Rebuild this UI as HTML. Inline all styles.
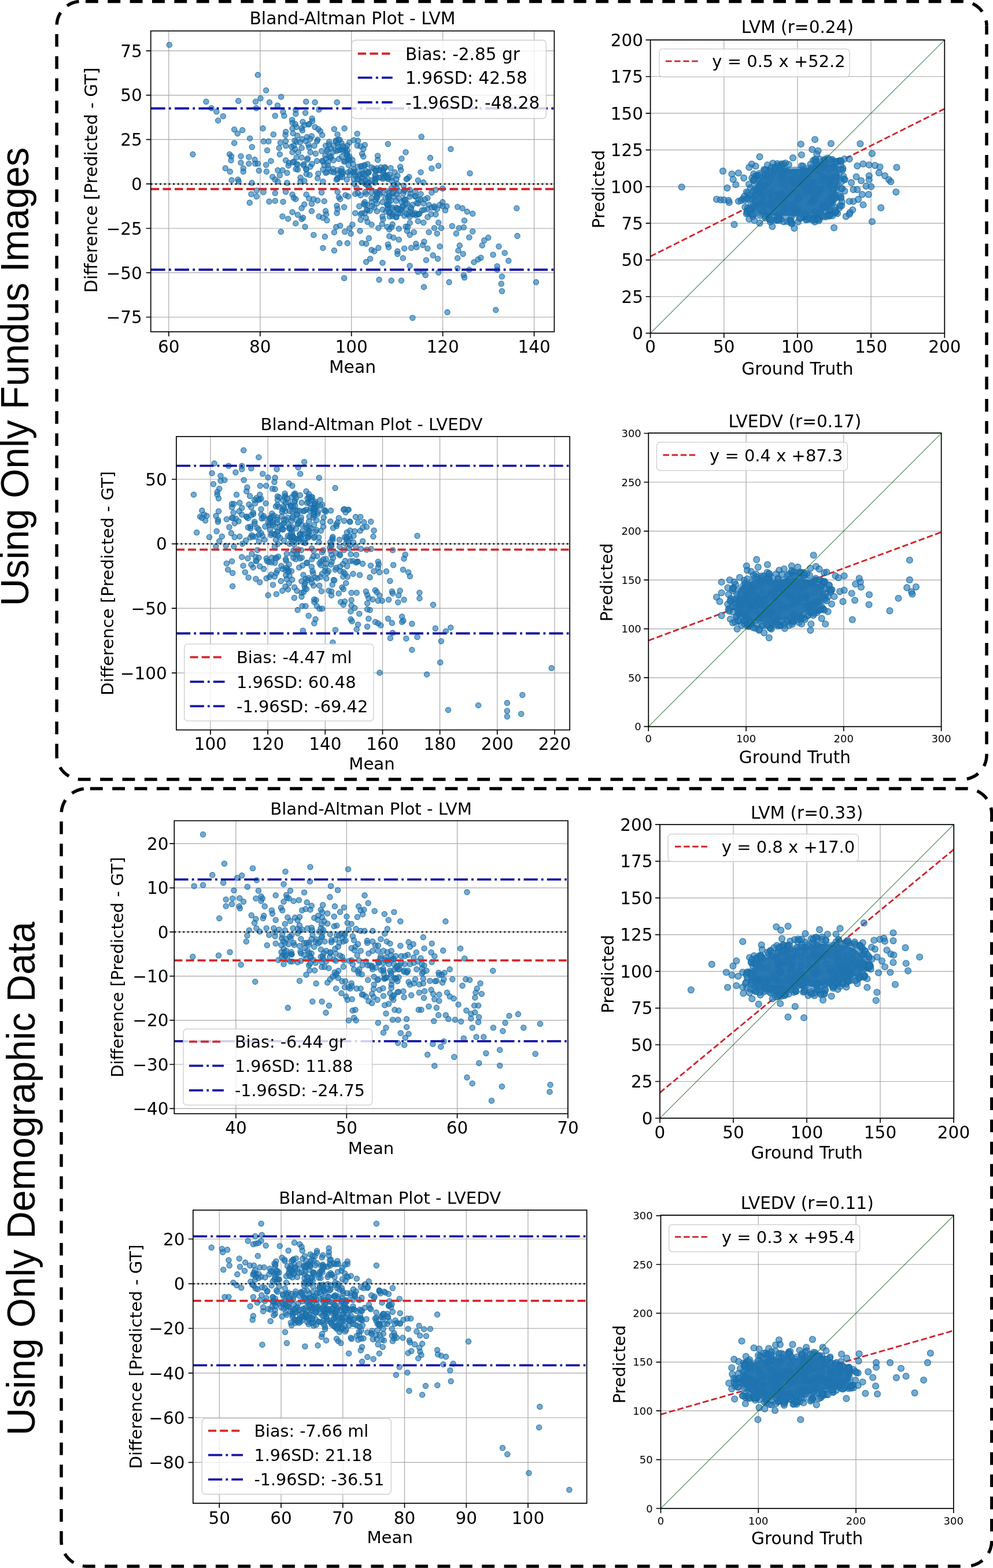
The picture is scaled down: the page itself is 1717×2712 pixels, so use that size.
<!DOCTYPE html>
<html><head><meta charset="utf-8"><title>Bland-Altman and scatter plots</title>
<style>html,body{margin:0;padding:0;background:#fff;}svg{display:block;}</style></head>
<body><svg width="1717" height="2712" viewBox="0 0 1717 2712" font-family="'DejaVu Sans','Liberation Sans',sans-serif" fill="#000">
<rect width="1717" height="2712" fill="#fff"/>
<path d="M98.1 1306.0 V44.4 A42 42 0 0 1 140.1 2.4" fill="none" stroke="#000" stroke-width="5.5" stroke-dasharray="21.92 16.44" stroke-dashoffset="2.34"/>
<path d="M140.1 2.4 H1664.0 A42 42 0 0 1 1706.0 44.4" fill="none" stroke="#000" stroke-width="5.5" stroke-dasharray="21.92 16.44" stroke-dashoffset="30.56"/>
<path d="M1706.0 44.4 V1306.0 A42 42 0 0 1 1664.0 1348.0" fill="none" stroke="#000" stroke-width="5.5" stroke-dasharray="21.92 16.44" stroke-dashoffset="6.56"/>
<path d="M1664.0 1348.0 H140.1 A42 42 0 0 1 98.1 1306.0" fill="none" stroke="#000" stroke-width="5.5" stroke-dasharray="21.92 16.44" stroke-dashoffset="27.06"/>
<path d="M106.0 2665.0 V1407.9 A44 44 0 0 1 150.0 1363.9" fill="none" stroke="#000" stroke-width="5.5" stroke-dasharray="21.92 16.44" stroke-dashoffset="5.28"/>
<path d="M150.0 1363.9 H1670.8 A44 44 0 0 1 1714.8 1407.9" fill="none" stroke="#000" stroke-width="5.5" stroke-dasharray="21.92 16.44" stroke-dashoffset="32.56"/>
<path d="M1714.8 1407.9 V2665.0 A44 44 0 0 1 1670.8 2709.0" fill="none" stroke="#000" stroke-width="5.5" stroke-dasharray="21.92 16.44" stroke-dashoffset="8.50"/>
<path d="M1670.8 2709.0 H150.0 A44 44 0 0 1 106.0 2665.0" fill="none" stroke="#000" stroke-width="5.5" stroke-dasharray="21.92 16.44" stroke-dashoffset="28.26"/>
<text transform="translate(49.0 651.5) rotate(-90) scale(1 1.042)" font-size="65.8" text-anchor="middle" font-family="'Liberation Sans',Arial,sans-serif">Using Only Fundus Images</text>
<text transform="translate(59.8 2038.5) rotate(-90) scale(1 1.042)" font-size="65.8" text-anchor="middle" font-family="'Liberation Sans',Arial,sans-serif">Using Only Demographic Data</text>
<clipPath id="cA"><rect x="260.7" y="53.5" width="697.7" height="520.3"/></clipPath>
<path d="M291.8 53.5V573.8M449.8 53.5V573.8M607.7 53.5V573.8M765.6 53.5V573.8M923.6 53.5V573.8M260.7 548.5H958.4M260.7 471.7H958.4M260.7 395.0H958.4M260.7 318.2H958.4M260.7 241.4H958.4M260.7 164.7H958.4M260.7 87.9H958.4" stroke="#a8a8a8" stroke-width="1.2" fill="none"/>
<g clip-path="url(#cA)" fill="#1f77b4" fill-opacity="0.62" stroke="#1b6aa2" stroke-opacity="0.8" stroke-width="1.3"><circle cx="292.8" cy="77.5" r="4.6"/><circle cx="445.9" cy="129.6" r="4.6"/><circle cx="460.1" cy="156.3" r="4.6"/><circle cx="486.1" cy="167.5" r="4.6"/><circle cx="356.4" cy="175.8" r="4.6"/><circle cx="412.2" cy="174.6" r="4.6"/><circle cx="442.0" cy="175.8" r="4.6"/><circle cx="450.5" cy="170.0" r="4.6"/><circle cx="465.9" cy="176.9" r="4.6"/><circle cx="479.9" cy="182.4" r="4.6"/><circle cx="529.2" cy="175.8" r="4.6"/><circle cx="544.6" cy="176.9" r="4.6"/><circle cx="582.7" cy="176.9" r="4.6"/><circle cx="365.6" cy="187.0" r="4.6"/><circle cx="374.3" cy="193.0" r="4.6"/><circle cx="385.8" cy="201.0" r="4.6"/><circle cx="377.1" cy="208.4" r="4.6"/><circle cx="443.2" cy="187.0" r="4.6"/><circle cx="489.5" cy="193.4" r="4.6"/><circle cx="491.4" cy="200.3" r="4.6"/><circle cx="475.7" cy="200.3" r="4.6"/><circle cx="511.3" cy="190.0" r="4.6"/><circle cx="511.3" cy="196.9" r="4.6"/><circle cx="528.1" cy="195.3" r="4.6"/><circle cx="551.5" cy="189.5" r="4.6"/><circle cx="505.1" cy="207.2" r="4.6"/><circle cx="505.6" cy="212.3" r="4.6"/><circle cx="523.5" cy="210.7" r="4.6"/><circle cx="533.1" cy="215.3" r="4.6"/><circle cx="539.6" cy="204.9" r="4.6"/><circle cx="540.0" cy="209.5" r="4.6"/><circle cx="512.5" cy="219.8" r="4.6"/><circle cx="521.6" cy="221.7" r="4.6"/><circle cx="522.8" cy="225.6" r="4.6"/><circle cx="544.6" cy="219.8" r="4.6"/><circle cx="550.3" cy="223.3" r="4.6"/><circle cx="553.8" cy="226.7" r="4.6"/><circle cx="557.2" cy="233.6" r="4.6"/><circle cx="577.9" cy="223.3" r="4.6"/><circle cx="583.6" cy="232.5" r="4.6"/><circle cx="595.6" cy="222.1" r="4.6"/><circle cx="405.1" cy="224.0" r="4.6"/><circle cx="410.8" cy="230.9" r="4.6"/><circle cx="419.1" cy="225.1" r="4.6"/><circle cx="454.6" cy="222.1" r="4.6"/><circle cx="432.1" cy="239.4" r="4.6"/><circle cx="472.8" cy="232.5" r="4.6"/><circle cx="494.1" cy="227.9" r="4.6"/><circle cx="506.7" cy="230.6" r="4.6"/><circle cx="493.6" cy="233.6" r="4.6"/><circle cx="530.8" cy="237.1" r="4.6"/><circle cx="538.9" cy="235.4" r="4.6"/><circle cx="405.1" cy="247.4" r="4.6"/><circle cx="435.8" cy="254.3" r="4.6"/><circle cx="455.8" cy="244.6" r="4.6"/><circle cx="464.3" cy="244.6" r="4.6"/><circle cx="484.9" cy="246.7" r="4.6"/><circle cx="494.1" cy="243.9" r="4.6"/><circle cx="512.5" cy="245.1" r="4.6"/><circle cx="528.5" cy="243.9" r="4.6"/><circle cx="543.5" cy="252.0" r="4.6"/><circle cx="549.2" cy="241.6" r="4.6"/><circle cx="563.0" cy="252.0" r="4.6"/><circle cx="568.7" cy="249.7" r="4.6"/><circle cx="576.7" cy="252.0" r="4.6"/><circle cx="581.3" cy="242.8" r="4.6"/><circle cx="590.5" cy="247.4" r="4.6"/><circle cx="604.3" cy="246.2" r="4.6"/><circle cx="333.4" cy="266.9" r="4.6"/><circle cx="397.0" cy="266.9" r="4.6"/><circle cx="400.0" cy="270.3" r="4.6"/><circle cx="399.5" cy="277.2" r="4.6"/><circle cx="416.5" cy="270.3" r="4.6"/><circle cx="430.3" cy="271.5" r="4.6"/><circle cx="440.4" cy="276.1" r="4.6"/><circle cx="482.6" cy="255.9" r="4.6"/><circle cx="483.8" cy="266.9" r="4.6"/><circle cx="462.0" cy="260.0" r="4.6"/><circle cx="494.1" cy="252.0" r="4.6"/><circle cx="507.9" cy="252.0" r="4.6"/><circle cx="510.2" cy="257.7" r="4.6"/><circle cx="521.6" cy="255.9" r="4.6"/><circle cx="505.6" cy="263.4" r="4.6"/><circle cx="536.6" cy="263.4" r="4.6"/><circle cx="545.7" cy="265.7" r="4.6"/><circle cx="556.1" cy="261.2" r="4.6"/><circle cx="565.3" cy="261.2" r="4.6"/><circle cx="572.1" cy="256.6" r="4.6"/><circle cx="581.3" cy="261.2" r="4.6"/><circle cx="592.8" cy="261.2" r="4.6"/><circle cx="599.7" cy="268.0" r="4.6"/><circle cx="416.5" cy="281.4" r="4.6"/><circle cx="430.3" cy="283.0" r="4.6"/><circle cx="441.3" cy="283.0" r="4.6"/><circle cx="445.9" cy="283.0" r="4.6"/><circle cx="468.4" cy="278.4" r="4.6"/><circle cx="494.1" cy="277.2" r="4.6"/><circle cx="499.8" cy="281.8" r="4.6"/><circle cx="507.9" cy="279.5" r="4.6"/><circle cx="498.7" cy="286.4" r="4.6"/><circle cx="512.5" cy="272.6" r="4.6"/><circle cx="521.6" cy="272.6" r="4.6"/><circle cx="532.0" cy="273.8" r="4.6"/><circle cx="548.0" cy="278.4" r="4.6"/><circle cx="558.4" cy="279.5" r="4.6"/><circle cx="567.6" cy="279.5" r="4.6"/><circle cx="576.7" cy="277.2" r="4.6"/><circle cx="585.9" cy="274.9" r="4.6"/><circle cx="595.1" cy="279.5" r="4.6"/><circle cx="604.3" cy="277.2" r="4.6"/><circle cx="389.7" cy="291.0" r="4.6"/><circle cx="397.7" cy="296.7" r="4.6"/><circle cx="420.7" cy="291.0" r="4.6"/><circle cx="420.7" cy="296.7" r="4.6"/><circle cx="447.7" cy="295.1" r="4.6"/><circle cx="460.1" cy="285.3" r="4.6"/><circle cx="460.8" cy="296.7" r="4.6"/><circle cx="480.3" cy="294.4" r="4.6"/><circle cx="488.4" cy="294.4" r="4.6"/><circle cx="483.8" cy="303.2" r="4.6"/><circle cx="496.4" cy="299.0" r="4.6"/><circle cx="525.1" cy="284.1" r="4.6"/><circle cx="529.7" cy="293.3" r="4.6"/><circle cx="536.6" cy="288.2" r="4.6"/><circle cx="535.4" cy="302.5" r="4.6"/><circle cx="550.3" cy="300.2" r="4.6"/><circle cx="558.4" cy="293.3" r="4.6"/><circle cx="567.6" cy="291.0" r="4.6"/><circle cx="576.7" cy="297.9" r="4.6"/><circle cx="583.6" cy="300.2" r="4.6"/><circle cx="592.8" cy="300.2" r="4.6"/><circle cx="602.0" cy="297.9" r="4.6"/><circle cx="400.5" cy="311.6" r="4.6"/><circle cx="411.5" cy="310.5" r="4.6"/><circle cx="412.6" cy="313.9" r="4.6"/><circle cx="435.6" cy="316.2" r="4.6"/><circle cx="471.2" cy="305.9" r="4.6"/><circle cx="475.7" cy="310.5" r="4.6"/><circle cx="480.3" cy="313.9" r="4.6"/><circle cx="496.4" cy="316.2" r="4.6"/><circle cx="519.4" cy="313.9" r="4.6"/><circle cx="526.2" cy="312.8" r="4.6"/><circle cx="549.2" cy="308.2" r="4.6"/><circle cx="558.4" cy="313.9" r="4.6"/><circle cx="583.6" cy="309.4" r="4.6"/><circle cx="599.7" cy="310.5" r="4.6"/><circle cx="604.3" cy="302.5" r="4.6"/><circle cx="443.6" cy="329.5" r="4.6"/><circle cx="434.4" cy="335.7" r="4.6"/><circle cx="443.6" cy="339.8" r="4.6"/><circle cx="431.7" cy="350.6" r="4.6"/><circle cx="455.5" cy="332.3" r="4.6"/><circle cx="465.4" cy="348.6" r="4.6"/><circle cx="475.7" cy="347.4" r="4.6"/><circle cx="475.7" cy="334.1" r="4.6"/><circle cx="489.5" cy="349.0" r="4.6"/><circle cx="494.1" cy="331.8" r="4.6"/><circle cx="505.6" cy="336.4" r="4.6"/><circle cx="507.9" cy="342.1" r="4.6"/><circle cx="511.3" cy="344.4" r="4.6"/><circle cx="529.7" cy="336.4" r="4.6"/><circle cx="534.3" cy="343.3" r="4.6"/><circle cx="542.3" cy="344.4" r="4.6"/><circle cx="549.2" cy="346.7" r="4.6"/><circle cx="556.1" cy="333.0" r="4.6"/><circle cx="560.7" cy="347.9" r="4.6"/><circle cx="526.2" cy="353.6" r="4.6"/><circle cx="521.6" cy="360.0" r="4.6"/><circle cx="538.9" cy="352.5" r="4.6"/><circle cx="538.9" cy="365.1" r="4.6"/><circle cx="505.6" cy="366.9" r="4.6"/><circle cx="514.8" cy="371.5" r="4.6"/><circle cx="521.6" cy="378.9" r="4.6"/><circle cx="523.9" cy="376.6" r="4.6"/><circle cx="488.4" cy="374.3" r="4.6"/><circle cx="498.2" cy="378.4" r="4.6"/><circle cx="511.3" cy="386.4" r="4.6"/><circle cx="527.4" cy="392.2" r="4.6"/><circle cx="551.5" cy="374.3" r="4.6"/><circle cx="563.0" cy="365.1" r="4.6"/><circle cx="564.1" cy="370.8" r="4.6"/><circle cx="558.4" cy="376.6" r="4.6"/><circle cx="565.3" cy="381.1" r="4.6"/><circle cx="582.5" cy="355.9" r="4.6"/><circle cx="583.6" cy="361.6" r="4.6"/><circle cx="582.5" cy="368.5" r="4.6"/><circle cx="595.1" cy="358.2" r="4.6"/><circle cx="585.9" cy="341.0" r="4.6"/><circle cx="588.2" cy="344.4" r="4.6"/><circle cx="583.6" cy="331.8" r="4.6"/><circle cx="597.4" cy="337.5" r="4.6"/><circle cx="602.0" cy="339.8" r="4.6"/><circle cx="485.8" cy="400.7" r="4.6"/><circle cx="542.3" cy="406.4" r="4.6"/><circle cx="561.8" cy="409.2" r="4.6"/><circle cx="577.9" cy="401.8" r="4.6"/><circle cx="581.3" cy="392.6" r="4.6"/><circle cx="588.2" cy="390.3" r="4.6"/><circle cx="596.2" cy="400.7" r="4.6"/><circle cx="604.3" cy="394.9" r="4.6"/><circle cx="606.6" cy="404.1" r="4.6"/><circle cx="587.1" cy="420.6" r="4.6"/><circle cx="600.8" cy="420.6" r="4.6"/><circle cx="558.4" cy="428.9" r="4.6"/><circle cx="577.9" cy="433.2" r="4.6"/><circle cx="595.1" cy="481.0" r="4.6"/><circle cx="617.7" cy="231.3" r="4.6"/><circle cx="611.8" cy="242.4" r="4.6"/><circle cx="618.9" cy="243.6" r="4.6"/><circle cx="617.7" cy="251.8" r="4.6"/><circle cx="623.6" cy="253.0" r="4.6"/><circle cx="630.7" cy="250.7" r="4.6"/><circle cx="628.3" cy="257.7" r="4.6"/><circle cx="626.0" cy="266.0" r="4.6"/><circle cx="628.3" cy="270.7" r="4.6"/><circle cx="653.1" cy="269.5" r="4.6"/><circle cx="653.1" cy="276.6" r="4.6"/><circle cx="670.8" cy="249.0" r="4.6"/><circle cx="701.5" cy="263.2" r="4.6"/><circle cx="694.4" cy="274.3" r="4.6"/><circle cx="728.7" cy="236.5" r="4.6"/><circle cx="744.0" cy="273.1" r="4.6"/><circle cx="746.4" cy="291.3" r="4.6"/><circle cx="758.2" cy="286.8" r="4.6"/><circle cx="779.4" cy="257.7" r="4.6"/><circle cx="727.5" cy="297.9" r="4.6"/><circle cx="707.4" cy="306.1" r="4.6"/><circle cx="812.5" cy="299.8" r="4.6"/><circle cx="611.8" cy="293.2" r="4.6"/><circle cx="615.3" cy="297.9" r="4.6"/><circle cx="623.6" cy="287.3" r="4.6"/><circle cx="630.7" cy="286.1" r="4.6"/><circle cx="635.4" cy="283.7" r="4.6"/><circle cx="633.1" cy="295.5" r="4.6"/><circle cx="637.8" cy="297.9" r="4.6"/><circle cx="642.5" cy="289.6" r="4.6"/><circle cx="659.0" cy="289.6" r="4.6"/><circle cx="666.1" cy="289.6" r="4.6"/><circle cx="675.5" cy="290.8" r="4.6"/><circle cx="682.6" cy="297.9" r="4.6"/><circle cx="692.1" cy="288.4" r="4.6"/><circle cx="693.2" cy="294.3" r="4.6"/><circle cx="687.3" cy="303.8" r="4.6"/><circle cx="649.6" cy="305.0" r="4.6"/><circle cx="659.0" cy="307.3" r="4.6"/><circle cx="670.8" cy="309.7" r="4.6"/><circle cx="677.9" cy="307.3" r="4.6"/><circle cx="618.9" cy="305.0" r="4.6"/><circle cx="626.0" cy="307.3" r="4.6"/><circle cx="722.8" cy="312.0" r="4.6"/><circle cx="732.2" cy="315.6" r="4.6"/><circle cx="609.4" cy="276.6" r="4.6"/><circle cx="610.6" cy="283.7" r="4.6"/><circle cx="614.2" cy="335.4" r="4.6"/><circle cx="623.6" cy="337.8" r="4.6"/><circle cx="633.1" cy="335.4" r="4.6"/><circle cx="642.5" cy="333.1" r="4.6"/><circle cx="651.9" cy="333.1" r="4.6"/><circle cx="661.4" cy="333.1" r="4.6"/><circle cx="670.8" cy="330.7" r="4.6"/><circle cx="680.3" cy="333.1" r="4.6"/><circle cx="689.7" cy="330.7" r="4.6"/><circle cx="699.2" cy="328.3" r="4.6"/><circle cx="708.6" cy="328.3" r="4.6"/><circle cx="718.0" cy="330.7" r="4.6"/><circle cx="727.5" cy="335.4" r="4.6"/><circle cx="739.3" cy="342.5" r="4.6"/><circle cx="746.4" cy="333.1" r="4.6"/><circle cx="753.4" cy="328.3" r="4.6"/><circle cx="765.3" cy="326.0" r="4.6"/><circle cx="642.5" cy="342.5" r="4.6"/><circle cx="651.9" cy="342.5" r="4.6"/><circle cx="670.8" cy="340.1" r="4.6"/><circle cx="680.3" cy="340.1" r="4.6"/><circle cx="689.7" cy="342.5" r="4.6"/><circle cx="699.2" cy="344.9" r="4.6"/><circle cx="708.6" cy="340.1" r="4.6"/><circle cx="718.0" cy="340.1" r="4.6"/><circle cx="727.5" cy="344.9" r="4.6"/><circle cx="734.6" cy="344.9" r="4.6"/><circle cx="630.7" cy="349.6" r="4.6"/><circle cx="642.5" cy="349.6" r="4.6"/><circle cx="651.9" cy="351.9" r="4.6"/><circle cx="661.4" cy="349.6" r="4.6"/><circle cx="675.5" cy="347.2" r="4.6"/><circle cx="685.0" cy="347.2" r="4.6"/><circle cx="694.4" cy="349.6" r="4.6"/><circle cx="703.9" cy="351.9" r="4.6"/><circle cx="713.3" cy="354.3" r="4.6"/><circle cx="722.8" cy="351.9" r="4.6"/><circle cx="732.2" cy="351.9" r="4.6"/><circle cx="741.6" cy="354.3" r="4.6"/><circle cx="751.1" cy="356.7" r="4.6"/><circle cx="760.5" cy="354.3" r="4.6"/><circle cx="765.3" cy="349.6" r="4.6"/><circle cx="772.3" cy="356.7" r="4.6"/><circle cx="770.0" cy="363.7" r="4.6"/><circle cx="621.2" cy="356.7" r="4.6"/><circle cx="635.4" cy="363.7" r="4.6"/><circle cx="647.2" cy="359.0" r="4.6"/><circle cx="661.4" cy="362.6" r="4.6"/><circle cx="670.8" cy="356.7" r="4.6"/><circle cx="677.9" cy="361.4" r="4.6"/><circle cx="685.0" cy="359.0" r="4.6"/><circle cx="694.4" cy="363.7" r="4.6"/><circle cx="701.5" cy="361.4" r="4.6"/><circle cx="711.0" cy="361.4" r="4.6"/><circle cx="718.0" cy="368.5" r="4.6"/><circle cx="729.8" cy="363.7" r="4.6"/><circle cx="739.3" cy="361.4" r="4.6"/><circle cx="746.4" cy="359.0" r="4.6"/><circle cx="755.8" cy="361.4" r="4.6"/><circle cx="614.2" cy="368.5" r="4.6"/><circle cx="623.6" cy="370.8" r="4.6"/><circle cx="630.7" cy="368.5" r="4.6"/><circle cx="661.4" cy="374.4" r="4.6"/><circle cx="677.9" cy="370.8" r="4.6"/><circle cx="685.0" cy="375.5" r="4.6"/><circle cx="692.1" cy="368.5" r="4.6"/><circle cx="699.2" cy="373.2" r="4.6"/><circle cx="706.2" cy="370.8" r="4.6"/><circle cx="715.7" cy="370.8" r="4.6"/><circle cx="722.8" cy="370.8" r="4.6"/><circle cx="739.3" cy="375.5" r="4.6"/><circle cx="753.4" cy="370.8" r="4.6"/><circle cx="623.6" cy="380.3" r="4.6"/><circle cx="635.4" cy="383.8" r="4.6"/><circle cx="642.5" cy="388.5" r="4.6"/><circle cx="654.3" cy="394.4" r="4.6"/><circle cx="673.2" cy="396.8" r="4.6"/><circle cx="689.7" cy="395.6" r="4.6"/><circle cx="701.5" cy="392.1" r="4.6"/><circle cx="703.9" cy="399.2" r="4.6"/><circle cx="708.6" cy="406.2" r="4.6"/><circle cx="715.7" cy="401.5" r="4.6"/><circle cx="722.8" cy="382.6" r="4.6"/><circle cx="732.2" cy="385.0" r="4.6"/><circle cx="741.6" cy="401.5" r="4.6"/><circle cx="751.1" cy="394.4" r="4.6"/><circle cx="755.8" cy="403.9" r="4.6"/><circle cx="758.2" cy="385.0" r="4.6"/><circle cx="762.9" cy="394.4" r="4.6"/><circle cx="609.4" cy="388.5" r="4.6"/><circle cx="622.4" cy="399.2" r="4.6"/><circle cx="637.8" cy="412.1" r="4.6"/><circle cx="626.0" cy="420.4" r="4.6"/><circle cx="633.1" cy="421.6" r="4.6"/><circle cx="642.5" cy="432.2" r="4.6"/><circle cx="647.2" cy="434.6" r="4.6"/><circle cx="654.3" cy="428.7" r="4.6"/><circle cx="670.8" cy="422.8" r="4.6"/><circle cx="672.0" cy="427.5" r="4.6"/><circle cx="673.2" cy="408.6" r="4.6"/><circle cx="680.3" cy="411.0" r="4.6"/><circle cx="689.7" cy="414.5" r="4.6"/><circle cx="687.3" cy="434.6" r="4.6"/><circle cx="687.3" cy="439.3" r="4.6"/><circle cx="696.8" cy="446.4" r="4.6"/><circle cx="699.2" cy="429.8" r="4.6"/><circle cx="711.0" cy="428.7" r="4.6"/><circle cx="719.2" cy="421.6" r="4.6"/><circle cx="720.4" cy="427.5" r="4.6"/><circle cx="731.0" cy="423.9" r="4.6"/><circle cx="733.4" cy="418.0" r="4.6"/><circle cx="739.3" cy="429.8" r="4.6"/><circle cx="748.7" cy="441.6" r="4.6"/><circle cx="757.0" cy="447.5" r="4.6"/><circle cx="736.9" cy="449.9" r="4.6"/><circle cx="760.5" cy="426.3" r="4.6"/><circle cx="633.1" cy="453.0" r="4.6"/><circle cx="640.1" cy="447.5" r="4.6"/><circle cx="661.4" cy="454.6" r="4.6"/><circle cx="708.6" cy="459.8" r="4.6"/><circle cx="722.8" cy="470.0" r="4.6"/><circle cx="732.2" cy="470.0" r="4.6"/><circle cx="735.7" cy="475.9" r="4.6"/><circle cx="758.2" cy="471.2" r="4.6"/><circle cx="655.5" cy="483.7" r="4.6"/><circle cx="676.7" cy="485.3" r="4.6"/><circle cx="694.0" cy="485.3" r="4.6"/><circle cx="732.9" cy="496.4" r="4.6"/><circle cx="713.3" cy="549.8" r="4.6"/><circle cx="773.5" cy="540.1" r="4.6"/><circle cx="776.6" cy="488.1" r="4.6"/><circle cx="791.2" cy="464.1" r="4.6"/><circle cx="791.2" cy="446.4" r="4.6"/><circle cx="792.4" cy="433.4" r="4.6"/><circle cx="794.8" cy="424.6" r="4.6"/><circle cx="800.7" cy="439.3" r="4.6"/><circle cx="781.8" cy="390.9" r="4.6"/><circle cx="788.9" cy="403.9" r="4.6"/><circle cx="793.6" cy="394.4" r="4.6"/><circle cx="801.8" cy="393.2" r="4.6"/><circle cx="803.0" cy="381.4" r="4.6"/><circle cx="791.2" cy="357.8" r="4.6"/><circle cx="799.5" cy="360.2" r="4.6"/><circle cx="807.7" cy="366.1" r="4.6"/><circle cx="817.2" cy="369.6" r="4.6"/><circle cx="811.3" cy="410.5" r="4.6"/><circle cx="817.2" cy="400.3" r="4.6"/><circle cx="801.8" cy="475.9" r="4.6"/><circle cx="803.0" cy="480.1" r="4.6"/><circle cx="811.3" cy="466.4" r="4.6"/><circle cx="819.5" cy="453.4" r="4.6"/><circle cx="826.6" cy="448.7" r="4.6"/><circle cx="831.4" cy="445.7" r="4.6"/><circle cx="833.7" cy="424.4" r="4.6"/><circle cx="837.3" cy="415.7" r="4.6"/><circle cx="844.3" cy="411.0" r="4.6"/><circle cx="852.6" cy="440.5" r="4.6"/><circle cx="859.7" cy="460.5" r="4.6"/><circle cx="859.7" cy="466.4" r="4.6"/><circle cx="862.5" cy="426.3" r="4.6"/><circle cx="872.7" cy="437.4" r="4.6"/><circle cx="879.3" cy="451.1" r="4.6"/><circle cx="867.9" cy="478.2" r="4.6"/><circle cx="866.8" cy="490.7" r="4.6"/><circle cx="867.9" cy="503.5" r="4.6"/><circle cx="857.3" cy="536.1" r="4.6"/><circle cx="893.4" cy="360.2" r="4.6"/><circle cx="894.6" cy="408.1" r="4.6"/><circle cx="927.0" cy="488.1" r="4.6"/><circle cx="765.3" cy="356.7" r="4.6"/><circle cx="583.2" cy="308.4" r="4.6"/><circle cx="572.2" cy="270.5" r="4.6"/><circle cx="600.5" cy="269.5" r="4.6"/><circle cx="585.2" cy="242.0" r="4.6"/><circle cx="596.4" cy="278.7" r="4.6"/><circle cx="573.1" cy="296.8" r="4.6"/><circle cx="571.7" cy="272.7" r="4.6"/><circle cx="562.4" cy="269.0" r="4.6"/><circle cx="566.2" cy="258.9" r="4.6"/><circle cx="596.3" cy="260.2" r="4.6"/><circle cx="581.7" cy="310.6" r="4.6"/><circle cx="584.8" cy="259.9" r="4.6"/><circle cx="583.4" cy="248.3" r="4.6"/><circle cx="589.3" cy="295.9" r="4.6"/><circle cx="588.7" cy="306.0" r="4.6"/><circle cx="557.2" cy="278.1" r="4.6"/><circle cx="580.3" cy="244.5" r="4.6"/><circle cx="590.3" cy="301.4" r="4.6"/><circle cx="587.6" cy="258.7" r="4.6"/><circle cx="601.2" cy="276.7" r="4.6"/><circle cx="583.1" cy="294.2" r="4.6"/><circle cx="563.1" cy="299.0" r="4.6"/><circle cx="592.6" cy="296.7" r="4.6"/><circle cx="565.5" cy="297.8" r="4.6"/><circle cx="603.2" cy="274.0" r="4.6"/><circle cx="590.5" cy="291.8" r="4.6"/><circle cx="601.0" cy="260.3" r="4.6"/><circle cx="566.8" cy="286.0" r="4.6"/><circle cx="563.3" cy="274.7" r="4.6"/><circle cx="604.2" cy="270.4" r="4.6"/><circle cx="587.4" cy="241.8" r="4.6"/><circle cx="592.0" cy="306.2" r="4.6"/><circle cx="591.3" cy="257.7" r="4.6"/><circle cx="597.3" cy="255.2" r="4.6"/><circle cx="600.4" cy="251.8" r="4.6"/><circle cx="575.6" cy="262.8" r="4.6"/><circle cx="593.0" cy="252.9" r="4.6"/><circle cx="569.4" cy="270.3" r="4.6"/><circle cx="560.8" cy="285.6" r="4.6"/><circle cx="575.9" cy="292.2" r="4.6"/><circle cx="591.0" cy="271.0" r="4.6"/><circle cx="602.7" cy="285.5" r="4.6"/><circle cx="599.6" cy="264.6" r="4.6"/><circle cx="584.9" cy="254.1" r="4.6"/><circle cx="569.1" cy="245.3" r="4.6"/><circle cx="512.9" cy="283.9" r="4.6"/><circle cx="534.9" cy="214.2" r="4.6"/><circle cx="518.8" cy="246.3" r="4.6"/><circle cx="533.2" cy="250.2" r="4.6"/><circle cx="529.3" cy="292.4" r="4.6"/><circle cx="536.3" cy="240.2" r="4.6"/><circle cx="522.4" cy="240.4" r="4.6"/><circle cx="505.5" cy="222.4" r="4.6"/><circle cx="514.2" cy="234.6" r="4.6"/><circle cx="515.7" cy="263.4" r="4.6"/><circle cx="539.6" cy="283.5" r="4.6"/><circle cx="529.8" cy="300.9" r="4.6"/><circle cx="534.5" cy="255.0" r="4.6"/><circle cx="503.9" cy="253.7" r="4.6"/><circle cx="510.6" cy="214.6" r="4.6"/><circle cx="525.3" cy="286.4" r="4.6"/><circle cx="514.8" cy="284.6" r="4.6"/><circle cx="526.3" cy="216.4" r="4.6"/><circle cx="548.2" cy="244.2" r="4.6"/><circle cx="514.8" cy="293.2" r="4.6"/><circle cx="506.2" cy="280.7" r="4.6"/><circle cx="509.4" cy="243.2" r="4.6"/><circle cx="511.6" cy="292.5" r="4.6"/><circle cx="519.5" cy="307.2" r="4.6"/><circle cx="531.3" cy="276.3" r="4.6"/><circle cx="646.5" cy="291.7" r="4.6"/><circle cx="637.7" cy="315.8" r="4.6"/><circle cx="663.1" cy="293.7" r="4.6"/><circle cx="654.9" cy="294.5" r="4.6"/><circle cx="636.7" cy="299.1" r="4.6"/><circle cx="611.2" cy="298.8" r="4.6"/><circle cx="662.4" cy="296.8" r="4.6"/><circle cx="624.6" cy="314.4" r="4.6"/><circle cx="669.4" cy="303.0" r="4.6"/><circle cx="666.4" cy="304.0" r="4.6"/><circle cx="635.4" cy="308.9" r="4.6"/><circle cx="611.9" cy="297.0" r="4.6"/><circle cx="636.0" cy="298.1" r="4.6"/><circle cx="618.9" cy="288.5" r="4.6"/><circle cx="649.3" cy="294.7" r="4.6"/><circle cx="665.4" cy="303.0" r="4.6"/><circle cx="670.3" cy="307.8" r="4.6"/><circle cx="652.1" cy="290.9" r="4.6"/><circle cx="664.8" cy="289.5" r="4.6"/><circle cx="647.8" cy="309.4" r="4.6"/><circle cx="688.2" cy="369.6" r="4.6"/><circle cx="709.2" cy="366.8" r="4.6"/><circle cx="634.2" cy="362.7" r="4.6"/><circle cx="632.7" cy="376.8" r="4.6"/><circle cx="651.8" cy="337.1" r="4.6"/><circle cx="639.6" cy="364.5" r="4.6"/><circle cx="676.9" cy="393.1" r="4.6"/><circle cx="708.7" cy="385.5" r="4.6"/><circle cx="629.0" cy="352.5" r="4.6"/><circle cx="625.5" cy="368.8" r="4.6"/><circle cx="649.5" cy="346.0" r="4.6"/><circle cx="653.5" cy="334.6" r="4.6"/><circle cx="718.7" cy="372.2" r="4.6"/><circle cx="699.3" cy="330.3" r="4.6"/><circle cx="673.8" cy="374.6" r="4.6"/><circle cx="634.5" cy="354.2" r="4.6"/><circle cx="643.2" cy="356.2" r="4.6"/><circle cx="678.7" cy="388.1" r="4.6"/><circle cx="720.5" cy="351.0" r="4.6"/><circle cx="631.0" cy="354.3" r="4.6"/><circle cx="660.8" cy="387.5" r="4.6"/><circle cx="672.3" cy="333.6" r="4.6"/><circle cx="745.5" cy="370.3" r="4.6"/><circle cx="679.1" cy="334.3" r="4.6"/><circle cx="703.0" cy="369.9" r="4.6"/><circle cx="708.5" cy="375.1" r="4.6"/><circle cx="705.0" cy="392.4" r="4.6"/><circle cx="662.3" cy="379.4" r="4.6"/><circle cx="651.9" cy="365.4" r="4.6"/><circle cx="692.3" cy="361.9" r="4.6"/><circle cx="673.1" cy="367.1" r="4.6"/><circle cx="751.2" cy="359.1" r="4.6"/><circle cx="667.5" cy="366.1" r="4.6"/><circle cx="701.3" cy="345.0" r="4.6"/><circle cx="669.5" cy="392.4" r="4.6"/><circle cx="710.2" cy="359.3" r="4.6"/><circle cx="673.0" cy="339.2" r="4.6"/><circle cx="686.1" cy="335.6" r="4.6"/><circle cx="709.4" cy="335.1" r="4.6"/><circle cx="678.1" cy="358.9" r="4.6"/><circle cx="723.5" cy="345.0" r="4.6"/><circle cx="679.1" cy="370.1" r="4.6"/><circle cx="718.4" cy="338.7" r="4.6"/><circle cx="723.5" cy="370.4" r="4.6"/><circle cx="670.1" cy="361.2" r="4.6"/><circle cx="671.7" cy="344.0" r="4.6"/><circle cx="697.0" cy="356.5" r="4.6"/><circle cx="695.7" cy="357.4" r="4.6"/><circle cx="673.1" cy="368.0" r="4.6"/><circle cx="678.6" cy="374.1" r="4.6"/><circle cx="698.8" cy="346.7" r="4.6"/><circle cx="669.8" cy="354.8" r="4.6"/><circle cx="687.0" cy="361.0" r="4.6"/><circle cx="697.4" cy="334.7" r="4.6"/><circle cx="725.3" cy="369.6" r="4.6"/><circle cx="733.5" cy="362.9" r="4.6"/><circle cx="668.7" cy="352.9" r="4.6"/><circle cx="692.4" cy="361.5" r="4.6"/><circle cx="687.4" cy="363.4" r="4.6"/><circle cx="672.3" cy="348.9" r="4.6"/><circle cx="701.2" cy="352.2" r="4.6"/><circle cx="713.8" cy="370.5" r="4.6"/><circle cx="685.4" cy="375.5" r="4.6"/><circle cx="671.8" cy="354.5" r="4.6"/><circle cx="687.8" cy="360.6" r="4.6"/><circle cx="630.0" cy="304.5" r="4.6"/><circle cx="657.2" cy="328.8" r="4.6"/><circle cx="648.7" cy="313.5" r="4.6"/><circle cx="697.7" cy="321.0" r="4.6"/><circle cx="632.8" cy="312.9" r="4.6"/><circle cx="677.5" cy="312.5" r="4.6"/><circle cx="685.4" cy="309.8" r="4.6"/><circle cx="638.7" cy="324.4" r="4.6"/><circle cx="648.1" cy="315.8" r="4.6"/><circle cx="673.7" cy="301.7" r="4.6"/><circle cx="681.8" cy="319.8" r="4.6"/><circle cx="650.0" cy="331.9" r="4.6"/><circle cx="637.0" cy="323.1" r="4.6"/><circle cx="631.3" cy="317.6" r="4.6"/><circle cx="664.0" cy="307.1" r="4.6"/><circle cx="633.1" cy="318.9" r="4.6"/><circle cx="656.7" cy="336.0" r="4.6"/><circle cx="677.2" cy="325.3" r="4.6"/><circle cx="704.4" cy="308.9" r="4.6"/><circle cx="612.5" cy="317.7" r="4.6"/><circle cx="616.5" cy="325.0" r="4.6"/><circle cx="668.8" cy="305.9" r="4.6"/><circle cx="685.9" cy="325.0" r="4.6"/><circle cx="650.8" cy="341.3" r="4.6"/><circle cx="702.7" cy="309.9" r="4.6"/><circle cx="618.9" cy="334.1" r="4.6"/><circle cx="637.5" cy="316.3" r="4.6"/><circle cx="666.4" cy="341.7" r="4.6"/><circle cx="686.4" cy="317.8" r="4.6"/><circle cx="631.7" cy="332.1" r="4.6"/><circle cx="649.7" cy="308.9" r="4.6"/><circle cx="656.4" cy="294.0" r="4.6"/><circle cx="643.9" cy="311.5" r="4.6"/><circle cx="626.3" cy="300.1" r="4.6"/><circle cx="662.4" cy="298.8" r="4.6"/><circle cx="620.2" cy="310.8" r="4.6"/><circle cx="621.8" cy="302.6" r="4.6"/><circle cx="625.4" cy="314.1" r="4.6"/><circle cx="614.5" cy="303.5" r="4.6"/><circle cx="655.4" cy="307.3" r="4.6"/><circle cx="629.5" cy="285.8" r="4.6"/><circle cx="611.8" cy="309.7" r="4.6"/><circle cx="605.9" cy="295.3" r="4.6"/><circle cx="617.9" cy="309.6" r="4.6"/><circle cx="625.1" cy="287.9" r="4.6"/><circle cx="625.9" cy="295.8" r="4.6"/><circle cx="650.2" cy="295.6" r="4.6"/><circle cx="648.6" cy="302.8" r="4.6"/><circle cx="662.1" cy="309.2" r="4.6"/><circle cx="628.6" cy="301.0" r="4.6"/></g>
<line x1="260.7" y1="318.2" x2="958.4" y2="318.2" stroke="#222" stroke-width="2.9" stroke-dasharray="2.90 4.78" clip-path="url(#cA)"/>
<line x1="260.7" y1="327.0" x2="958.4" y2="327.0" stroke="#d42a2e" stroke-width="3.9" stroke-dasharray="14.43 6.24" clip-path="url(#cA)"/>
<line x1="260.7" y1="187.5" x2="958.4" y2="187.5" stroke="#1616a8" stroke-width="3.9" stroke-dasharray="24.96 6.24 3.90 6.24" clip-path="url(#cA)"/>
<line x1="260.7" y1="466.5" x2="958.4" y2="466.5" stroke="#1616a8" stroke-width="3.9" stroke-dasharray="24.96 6.24 3.90 6.24" clip-path="url(#cA)"/>
<rect x="608.2" y="69.5" width="336.1" height="135.5" rx="6" fill="#fff" fill-opacity="0.8" stroke="#cccccc" stroke-width="1.3"/>
<line x1="618.7" y1="92.8" x2="678.7" y2="92.8" stroke="#d42a2e" stroke-width="3.9" stroke-dasharray="14.43 6.24"/>
<text x="701.0" y="103.6" font-size="29.5">Bias: -2.85 gr</text>
<line x1="618.7" y1="134.4" x2="678.7" y2="134.4" stroke="#1616a8" stroke-width="3.9" stroke-dasharray="24.96 6.24 3.90 6.24"/>
<text x="701.0" y="145.2" font-size="29.5">1.96SD: 42.58</text>
<line x1="618.7" y1="177" x2="678.7" y2="177" stroke="#1616a8" stroke-width="3.9" stroke-dasharray="24.96 6.24 3.90 6.24"/>
<text x="701.0" y="187.8" font-size="29.5">-1.96SD: -48.28</text>
<rect x="260.7" y="53.5" width="697.7" height="520.3" fill="none" stroke="#000" stroke-width="1.7"/>
<path d="M291.8 573.8v8M449.8 573.8v8M607.7 573.8v8M765.6 573.8v8M923.6 573.8v8M260.7 548.5h-8M260.7 471.7h-8M260.7 395.0h-8M260.7 318.2h-8M260.7 241.4h-8M260.7 164.7h-8M260.7 87.9h-8" stroke="#000" stroke-width="1.7"/>
<text x="291.8" y="609.5" font-size="29.5" text-anchor="middle">60</text>
<text x="449.8" y="609.5" font-size="29.5" text-anchor="middle">80</text>
<text x="607.7" y="609.5" font-size="29.5" text-anchor="middle">100</text>
<text x="765.6" y="609.5" font-size="29.5" text-anchor="middle">120</text>
<text x="923.6" y="609.5" font-size="29.5" text-anchor="middle">140</text>
<text x="245.9" y="559.3" font-size="29.5" text-anchor="end">−75</text>
<text x="245.9" y="482.5" font-size="29.5" text-anchor="end">−50</text>
<text x="245.9" y="405.7" font-size="29.5" text-anchor="end">−25</text>
<text x="245.9" y="329.0" font-size="29.5" text-anchor="end">0</text>
<text x="245.9" y="252.2" font-size="29.5" text-anchor="end">25</text>
<text x="245.9" y="175.4" font-size="29.5" text-anchor="end">50</text>
<text x="245.9" y="98.7" font-size="29.5" text-anchor="end">75</text>
<text x="609.5" y="42.0" font-size="29.8" text-anchor="middle">Bland-Altman Plot - LVM</text>
<text x="609.5" y="645.0" font-size="29.8" text-anchor="middle">Mean</text>
<text x="168.4" y="311.6" font-size="29.3" text-anchor="middle" transform="rotate(-90 168.4 311.6)">Difference [Predicted - GT]</text>
<clipPath id="cB"><rect x="1124.6" y="69.1" width="508.7" height="507.3"/></clipPath>
<path d="M1124.6 69.1V576.4M1251.8 69.1V576.4M1378.9 69.1V576.4M1506.1 69.1V576.4M1633.3 69.1V576.4M1124.6 576.4H1633.3M1124.6 513.0H1633.3M1124.6 449.6H1633.3M1124.6 386.2H1633.3M1124.6 322.8H1633.3M1124.6 259.3H1633.3M1124.6 195.9H1633.3M1124.6 132.5H1633.3M1124.6 69.1H1633.3" stroke="#a8a8a8" stroke-width="1.2" fill="none"/>
<line x1="1124.6" y1="443.5" x2="1633.3" y2="188.1" stroke="#d0242c" stroke-width="2.85" stroke-dasharray="10.5 4.6" clip-path="url(#cB)"/>
<g clip-path="url(#cB)" fill="#1f77b4" fill-opacity="0.62" stroke="#1b6aa2" stroke-opacity="0.8" stroke-width="1.3"><circle cx="1178.7" cy="323.5" r="5.4"/><circle cx="1250.0" cy="295.9" r="5.4"/><circle cx="1257.4" cy="325.1" r="5.4"/><circle cx="1239.0" cy="344.6" r="5.4"/><circle cx="1245.9" cy="345.7" r="5.4"/><circle cx="1251.6" cy="345.7" r="5.4"/><circle cx="1259.7" cy="346.9" r="5.4"/><circle cx="1260.8" cy="350.3" r="5.4"/><circle cx="1269.5" cy="388.2" r="5.4"/><circle cx="1265.4" cy="301.0" r="5.4"/><circle cx="1276.9" cy="299.2" r="5.4"/><circle cx="1267.7" cy="310.2" r="5.4"/><circle cx="1272.3" cy="319.3" r="5.4"/><circle cx="1286.1" cy="307.9" r="5.4"/><circle cx="1290.7" cy="332.0" r="5.4"/><circle cx="1276.9" cy="348.0" r="5.4"/><circle cx="1281.5" cy="346.9" r="5.4"/><circle cx="1288.4" cy="358.4" r="5.4"/><circle cx="1313.6" cy="271.1" r="5.4"/><circle cx="1299.8" cy="283.8" r="5.4"/><circle cx="1306.7" cy="287.2" r="5.4"/><circle cx="1295.3" cy="289.5" r="5.4"/><circle cx="1384.8" cy="249.3" r="5.4"/><circle cx="1409.1" cy="241.3" r="5.4"/><circle cx="1436.9" cy="248.2" r="5.4"/><circle cx="1404.3" cy="258.5" r="5.4"/><circle cx="1414.6" cy="260.8" r="5.4"/><circle cx="1371.0" cy="273.0" r="5.4"/><circle cx="1385.9" cy="267.7" r="5.4"/><circle cx="1408.9" cy="275.7" r="5.4"/><circle cx="1373.3" cy="394.6" r="5.4"/><circle cx="1335.4" cy="391.6" r="5.4"/><circle cx="1442.1" cy="393.9" r="5.4"/><circle cx="1462.8" cy="374.4" r="5.4"/><circle cx="1469.7" cy="367.5" r="5.4"/><circle cx="1474.3" cy="363.0" r="5.4"/><circle cx="1451.3" cy="359.5" r="5.4"/><circle cx="1442.1" cy="368.7" r="5.4"/><circle cx="1416.9" cy="379.0" r="5.4"/><circle cx="1408.9" cy="383.6" r="5.4"/><circle cx="1393.9" cy="380.2" r="5.4"/><circle cx="1382.5" cy="377.9" r="5.4"/><circle cx="1366.4" cy="381.3" r="5.4"/><circle cx="1350.3" cy="379.0" r="5.4"/><circle cx="1332.0" cy="383.6" r="5.4"/><circle cx="1313.6" cy="385.9" r="5.4"/><circle cx="1304.4" cy="381.3" r="5.4"/><circle cx="1295.3" cy="379.0" r="5.4"/><circle cx="1290.7" cy="369.8" r="5.4"/><circle cx="1412.4" cy="266.5" r="5.4"/><circle cx="1487.4" cy="248.6" r="5.4"/><circle cx="1507.9" cy="265.6" r="5.4"/><circle cx="1550.5" cy="289.5" r="5.4"/><circle cx="1549.3" cy="332.1" r="5.4"/><circle cx="1523.2" cy="359.4" r="5.4"/><circle cx="1507.9" cy="383.3" r="5.4"/><circle cx="1492.5" cy="354.3" r="5.4"/><circle cx="1468.7" cy="370.5" r="5.4"/><circle cx="1482.3" cy="287.0" r="5.4"/><circle cx="1492.5" cy="283.5" r="5.4"/><circle cx="1502.8" cy="285.3" r="5.4"/><circle cx="1513.0" cy="286.1" r="5.4"/><circle cx="1521.5" cy="288.7" r="5.4"/><circle cx="1519.8" cy="298.9" r="5.4"/><circle cx="1530.0" cy="304.0" r="5.4"/><circle cx="1536.9" cy="310.8" r="5.4"/><circle cx="1540.3" cy="314.2" r="5.4"/><circle cx="1480.6" cy="305.7" r="5.4"/><circle cx="1489.1" cy="312.5" r="5.4"/><circle cx="1502.8" cy="304.0" r="5.4"/><circle cx="1502.8" cy="310.8" r="5.4"/><circle cx="1506.2" cy="322.8" r="5.4"/><circle cx="1497.6" cy="321.9" r="5.4"/><circle cx="1472.1" cy="315.9" r="5.4"/><circle cx="1475.5" cy="327.9" r="5.4"/><circle cx="1482.3" cy="327.9" r="5.4"/><circle cx="1490.8" cy="336.4" r="5.4"/><circle cx="1501.9" cy="336.4" r="5.4"/><circle cx="1475.5" cy="348.3" r="5.4"/><circle cx="1484.0" cy="344.9" r="5.4"/><circle cx="1468.7" cy="348.3" r="5.4"/><circle cx="1460.1" cy="275.0" r="5.4"/><circle cx="1468.7" cy="275.0" r="5.4"/><circle cx="1451.6" cy="278.4" r="5.4"/><circle cx="1431.2" cy="273.3" r="5.4"/><circle cx="1363.8" cy="284.6" r="5.4"/><circle cx="1359.0" cy="295.4" r="5.4"/><circle cx="1409.1" cy="345.2" r="5.4"/><circle cx="1314.3" cy="313.6" r="5.4"/><circle cx="1415.4" cy="287.5" r="5.4"/><circle cx="1431.2" cy="346.6" r="5.4"/><circle cx="1454.0" cy="340.0" r="5.4"/><circle cx="1295.0" cy="318.6" r="5.4"/><circle cx="1409.2" cy="325.3" r="5.4"/><circle cx="1353.0" cy="301.1" r="5.4"/><circle cx="1409.4" cy="290.5" r="5.4"/><circle cx="1422.4" cy="304.4" r="5.4"/><circle cx="1389.4" cy="375.4" r="5.4"/><circle cx="1392.2" cy="369.6" r="5.4"/><circle cx="1302.9" cy="329.9" r="5.4"/><circle cx="1403.1" cy="291.3" r="5.4"/><circle cx="1410.5" cy="346.4" r="5.4"/><circle cx="1368.4" cy="361.3" r="5.4"/><circle cx="1303.2" cy="358.7" r="5.4"/><circle cx="1393.0" cy="334.2" r="5.4"/><circle cx="1419.0" cy="368.8" r="5.4"/><circle cx="1369.7" cy="331.5" r="5.4"/><circle cx="1391.3" cy="310.3" r="5.4"/><circle cx="1429.1" cy="357.8" r="5.4"/><circle cx="1315.2" cy="349.8" r="5.4"/><circle cx="1325.1" cy="304.8" r="5.4"/><circle cx="1388.9" cy="322.1" r="5.4"/><circle cx="1389.5" cy="299.5" r="5.4"/><circle cx="1421.5" cy="285.7" r="5.4"/><circle cx="1376.2" cy="367.6" r="5.4"/><circle cx="1337.3" cy="298.5" r="5.4"/><circle cx="1414.5" cy="286.1" r="5.4"/><circle cx="1407.6" cy="317.9" r="5.4"/><circle cx="1398.3" cy="314.1" r="5.4"/><circle cx="1434.9" cy="364.9" r="5.4"/><circle cx="1310.1" cy="303.8" r="5.4"/><circle cx="1367.8" cy="377.1" r="5.4"/><circle cx="1352.1" cy="335.1" r="5.4"/><circle cx="1417.9" cy="330.1" r="5.4"/><circle cx="1298.7" cy="353.4" r="5.4"/><circle cx="1323.1" cy="373.2" r="5.4"/><circle cx="1319.4" cy="338.9" r="5.4"/><circle cx="1442.7" cy="342.6" r="5.4"/><circle cx="1406.0" cy="315.4" r="5.4"/><circle cx="1316.0" cy="336.0" r="5.4"/><circle cx="1438.4" cy="348.7" r="5.4"/><circle cx="1333.9" cy="294.7" r="5.4"/><circle cx="1306.7" cy="303.8" r="5.4"/><circle cx="1391.9" cy="374.2" r="5.4"/><circle cx="1334.7" cy="356.1" r="5.4"/><circle cx="1455.4" cy="313.9" r="5.4"/><circle cx="1330.3" cy="334.0" r="5.4"/><circle cx="1442.2" cy="288.6" r="5.4"/><circle cx="1300.5" cy="344.0" r="5.4"/><circle cx="1392.4" cy="373.8" r="5.4"/><circle cx="1403.8" cy="373.8" r="5.4"/><circle cx="1379.6" cy="342.7" r="5.4"/><circle cx="1433.0" cy="319.0" r="5.4"/><circle cx="1359.0" cy="350.8" r="5.4"/><circle cx="1297.8" cy="324.5" r="5.4"/><circle cx="1313.5" cy="324.9" r="5.4"/><circle cx="1382.2" cy="307.1" r="5.4"/><circle cx="1412.2" cy="335.3" r="5.4"/><circle cx="1373.2" cy="368.4" r="5.4"/><circle cx="1457.6" cy="291.3" r="5.4"/><circle cx="1369.0" cy="313.7" r="5.4"/><circle cx="1334.7" cy="330.1" r="5.4"/><circle cx="1443.3" cy="320.3" r="5.4"/><circle cx="1398.7" cy="379.2" r="5.4"/><circle cx="1366.8" cy="309.4" r="5.4"/><circle cx="1372.8" cy="361.6" r="5.4"/><circle cx="1409.1" cy="380.0" r="5.4"/><circle cx="1347.0" cy="377.0" r="5.4"/><circle cx="1401.3" cy="377.2" r="5.4"/><circle cx="1329.4" cy="372.9" r="5.4"/><circle cx="1436.1" cy="308.7" r="5.4"/><circle cx="1426.0" cy="309.4" r="5.4"/><circle cx="1398.2" cy="328.7" r="5.4"/><circle cx="1323.8" cy="320.9" r="5.4"/><circle cx="1358.1" cy="282.1" r="5.4"/><circle cx="1442.9" cy="306.1" r="5.4"/><circle cx="1344.2" cy="379.0" r="5.4"/><circle cx="1357.5" cy="317.1" r="5.4"/><circle cx="1436.2" cy="311.6" r="5.4"/><circle cx="1456.0" cy="326.1" r="5.4"/><circle cx="1354.1" cy="308.6" r="5.4"/><circle cx="1342.1" cy="381.3" r="5.4"/><circle cx="1300.9" cy="359.6" r="5.4"/><circle cx="1434.1" cy="364.5" r="5.4"/><circle cx="1433.2" cy="292.4" r="5.4"/><circle cx="1422.4" cy="355.3" r="5.4"/><circle cx="1447.4" cy="322.7" r="5.4"/><circle cx="1402.1" cy="295.6" r="5.4"/><circle cx="1439.1" cy="347.9" r="5.4"/><circle cx="1342.7" cy="295.5" r="5.4"/><circle cx="1370.7" cy="355.5" r="5.4"/><circle cx="1382.9" cy="306.3" r="5.4"/><circle cx="1309.1" cy="354.0" r="5.4"/><circle cx="1392.7" cy="297.6" r="5.4"/><circle cx="1382.0" cy="316.9" r="5.4"/><circle cx="1427.9" cy="282.6" r="5.4"/><circle cx="1321.0" cy="293.3" r="5.4"/><circle cx="1372.2" cy="309.7" r="5.4"/><circle cx="1392.1" cy="327.1" r="5.4"/><circle cx="1347.7" cy="349.2" r="5.4"/><circle cx="1388.6" cy="287.2" r="5.4"/><circle cx="1353.9" cy="340.4" r="5.4"/><circle cx="1397.4" cy="324.2" r="5.4"/><circle cx="1320.1" cy="365.2" r="5.4"/><circle cx="1380.5" cy="344.2" r="5.4"/><circle cx="1440.5" cy="278.4" r="5.4"/><circle cx="1308.4" cy="354.3" r="5.4"/><circle cx="1356.2" cy="342.1" r="5.4"/><circle cx="1445.7" cy="305.7" r="5.4"/><circle cx="1300.2" cy="359.3" r="5.4"/><circle cx="1324.5" cy="293.6" r="5.4"/><circle cx="1322.7" cy="304.4" r="5.4"/><circle cx="1361.7" cy="296.3" r="5.4"/><circle cx="1344.0" cy="336.8" r="5.4"/><circle cx="1314.1" cy="372.7" r="5.4"/><circle cx="1330.0" cy="296.2" r="5.4"/><circle cx="1444.1" cy="336.7" r="5.4"/><circle cx="1410.6" cy="372.8" r="5.4"/><circle cx="1422.7" cy="356.9" r="5.4"/><circle cx="1346.9" cy="308.5" r="5.4"/><circle cx="1375.9" cy="316.3" r="5.4"/><circle cx="1321.0" cy="354.3" r="5.4"/><circle cx="1424.3" cy="374.6" r="5.4"/><circle cx="1402.7" cy="330.2" r="5.4"/><circle cx="1350.7" cy="317.9" r="5.4"/><circle cx="1432.9" cy="354.6" r="5.4"/><circle cx="1305.3" cy="339.0" r="5.4"/><circle cx="1445.5" cy="366.9" r="5.4"/><circle cx="1354.2" cy="364.6" r="5.4"/><circle cx="1436.7" cy="342.0" r="5.4"/><circle cx="1442.5" cy="289.5" r="5.4"/><circle cx="1358.7" cy="361.9" r="5.4"/><circle cx="1376.3" cy="361.0" r="5.4"/><circle cx="1344.8" cy="346.0" r="5.4"/><circle cx="1413.7" cy="373.7" r="5.4"/><circle cx="1403.7" cy="348.7" r="5.4"/><circle cx="1353.0" cy="306.1" r="5.4"/><circle cx="1420.3" cy="326.7" r="5.4"/><circle cx="1420.1" cy="311.6" r="5.4"/><circle cx="1336.2" cy="348.2" r="5.4"/><circle cx="1329.8" cy="314.8" r="5.4"/><circle cx="1354.3" cy="359.7" r="5.4"/><circle cx="1414.7" cy="375.3" r="5.4"/><circle cx="1383.2" cy="313.5" r="5.4"/><circle cx="1453.9" cy="292.9" r="5.4"/><circle cx="1315.4" cy="333.3" r="5.4"/><circle cx="1335.0" cy="354.1" r="5.4"/><circle cx="1392.1" cy="301.0" r="5.4"/><circle cx="1447.7" cy="279.0" r="5.4"/><circle cx="1343.6" cy="373.8" r="5.4"/><circle cx="1378.9" cy="333.7" r="5.4"/><circle cx="1402.2" cy="350.8" r="5.4"/><circle cx="1344.3" cy="286.4" r="5.4"/><circle cx="1397.0" cy="325.4" r="5.4"/><circle cx="1395.4" cy="379.3" r="5.4"/><circle cx="1388.1" cy="295.1" r="5.4"/><circle cx="1346.8" cy="370.7" r="5.4"/><circle cx="1333.3" cy="307.1" r="5.4"/><circle cx="1454.3" cy="326.4" r="5.4"/><circle cx="1408.4" cy="376.7" r="5.4"/><circle cx="1439.1" cy="275.7" r="5.4"/><circle cx="1375.9" cy="349.1" r="5.4"/><circle cx="1424.5" cy="355.1" r="5.4"/><circle cx="1412.0" cy="284.1" r="5.4"/><circle cx="1404.5" cy="345.0" r="5.4"/><circle cx="1408.7" cy="365.2" r="5.4"/><circle cx="1416.6" cy="334.5" r="5.4"/><circle cx="1353.7" cy="295.3" r="5.4"/><circle cx="1335.2" cy="345.4" r="5.4"/><circle cx="1406.7" cy="339.2" r="5.4"/><circle cx="1442.7" cy="340.6" r="5.4"/><circle cx="1354.8" cy="283.6" r="5.4"/><circle cx="1308.5" cy="328.0" r="5.4"/><circle cx="1333.4" cy="289.2" r="5.4"/><circle cx="1434.4" cy="323.6" r="5.4"/><circle cx="1416.2" cy="367.6" r="5.4"/><circle cx="1385.3" cy="309.9" r="5.4"/><circle cx="1373.2" cy="298.1" r="5.4"/><circle cx="1346.0" cy="340.9" r="5.4"/><circle cx="1321.4" cy="323.2" r="5.4"/><circle cx="1337.3" cy="359.7" r="5.4"/><circle cx="1329.6" cy="354.1" r="5.4"/><circle cx="1371.0" cy="318.3" r="5.4"/><circle cx="1379.1" cy="367.0" r="5.4"/><circle cx="1379.8" cy="363.9" r="5.4"/><circle cx="1416.4" cy="295.0" r="5.4"/><circle cx="1340.0" cy="290.8" r="5.4"/><circle cx="1425.1" cy="284.0" r="5.4"/><circle cx="1438.9" cy="334.8" r="5.4"/><circle cx="1363.4" cy="335.7" r="5.4"/><circle cx="1382.4" cy="342.0" r="5.4"/><circle cx="1383.3" cy="307.2" r="5.4"/><circle cx="1446.4" cy="341.7" r="5.4"/><circle cx="1454.0" cy="342.6" r="5.4"/><circle cx="1407.4" cy="377.6" r="5.4"/><circle cx="1322.7" cy="294.3" r="5.4"/><circle cx="1433.1" cy="370.1" r="5.4"/><circle cx="1306.2" cy="307.4" r="5.4"/><circle cx="1380.0" cy="383.8" r="5.4"/><circle cx="1308.2" cy="304.5" r="5.4"/><circle cx="1301.8" cy="374.4" r="5.4"/><circle cx="1415.6" cy="381.7" r="5.4"/><circle cx="1439.3" cy="279.9" r="5.4"/><circle cx="1413.4" cy="379.0" r="5.4"/><circle cx="1448.1" cy="369.1" r="5.4"/><circle cx="1384.6" cy="377.1" r="5.4"/><circle cx="1398.5" cy="375.5" r="5.4"/><circle cx="1434.8" cy="371.3" r="5.4"/><circle cx="1303.1" cy="312.5" r="5.4"/><circle cx="1459.4" cy="309.6" r="5.4"/><circle cx="1351.1" cy="283.5" r="5.4"/><circle cx="1294.7" cy="337.4" r="5.4"/><circle cx="1343.6" cy="380.1" r="5.4"/><circle cx="1417.5" cy="275.3" r="5.4"/><circle cx="1284.3" cy="343.9" r="5.4"/><circle cx="1292.8" cy="342.0" r="5.4"/><circle cx="1300.2" cy="308.1" r="5.4"/><circle cx="1347.8" cy="378.7" r="5.4"/><circle cx="1434.9" cy="372.7" r="5.4"/><circle cx="1456.9" cy="294.0" r="5.4"/><circle cx="1445.9" cy="279.8" r="5.4"/><circle cx="1303.7" cy="310.6" r="5.4"/><circle cx="1406.0" cy="277.8" r="5.4"/><circle cx="1405.4" cy="380.6" r="5.4"/><circle cx="1426.5" cy="275.2" r="5.4"/><circle cx="1344.2" cy="283.1" r="5.4"/><circle cx="1287.1" cy="339.6" r="5.4"/><circle cx="1360.9" cy="382.9" r="5.4"/><circle cx="1346.8" cy="381.4" r="5.4"/><circle cx="1410.7" cy="276.4" r="5.4"/><circle cx="1455.4" cy="355.8" r="5.4"/><circle cx="1428.1" cy="374.9" r="5.4"/><circle cx="1313.4" cy="299.8" r="5.4"/><circle cx="1367.2" cy="381.6" r="5.4"/><circle cx="1288.4" cy="346.2" r="5.4"/><circle cx="1411.0" cy="280.6" r="5.4"/><circle cx="1423.5" cy="278.2" r="5.4"/><circle cx="1444.6" cy="358.7" r="5.4"/><circle cx="1430.9" cy="372.5" r="5.4"/><circle cx="1292.3" cy="368.0" r="5.4"/><circle cx="1425.9" cy="277.9" r="5.4"/><circle cx="1460.9" cy="310.7" r="5.4"/><circle cx="1369.6" cy="386.8" r="5.4"/><circle cx="1292.9" cy="359.9" r="5.4"/><circle cx="1444.5" cy="367.3" r="5.4"/><circle cx="1299.4" cy="364.8" r="5.4"/><circle cx="1323.4" cy="377.2" r="5.4"/><circle cx="1336.5" cy="282.4" r="5.4"/><circle cx="1453.1" cy="277.8" r="5.4"/><circle cx="1454.1" cy="285.8" r="5.4"/><circle cx="1443.6" cy="364.0" r="5.4"/><circle cx="1401.5" cy="283.8" r="5.4"/><circle cx="1367.9" cy="386.3" r="5.4"/><circle cx="1302.8" cy="311.5" r="5.4"/><circle cx="1298.0" cy="369.8" r="5.4"/><circle cx="1351.2" cy="286.8" r="5.4"/><circle cx="1385.8" cy="286.7" r="5.4"/><circle cx="1351.9" cy="287.7" r="5.4"/><circle cx="1455.7" cy="349.1" r="5.4"/><circle cx="1452.5" cy="355.8" r="5.4"/><circle cx="1291.6" cy="365.8" r="5.4"/><circle cx="1339.7" cy="289.4" r="5.4"/><circle cx="1291.6" cy="343.7" r="5.4"/><circle cx="1304.0" cy="370.1" r="5.4"/><circle cx="1296.2" cy="366.0" r="5.4"/><circle cx="1303.3" cy="300.7" r="5.4"/><circle cx="1347.3" cy="288.9" r="5.4"/><circle cx="1329.8" cy="378.5" r="5.4"/><circle cx="1313.3" cy="303.0" r="5.4"/><circle cx="1458.5" cy="305.0" r="5.4"/><circle cx="1454.5" cy="279.2" r="5.4"/><circle cx="1292.9" cy="334.1" r="5.4"/><circle cx="1434.2" cy="373.7" r="5.4"/><circle cx="1331.7" cy="379.9" r="5.4"/><circle cx="1333.4" cy="379.9" r="5.4"/><circle cx="1355.0" cy="383.5" r="5.4"/><circle cx="1460.4" cy="330.4" r="5.4"/><circle cx="1434.1" cy="276.4" r="5.4"/><circle cx="1450.7" cy="338.1" r="5.4"/><circle cx="1422.6" cy="372.2" r="5.4"/><circle cx="1301.4" cy="369.9" r="5.4"/><circle cx="1296.0" cy="362.0" r="5.4"/><circle cx="1368.0" cy="383.0" r="5.4"/><circle cx="1439.5" cy="373.0" r="5.4"/><circle cx="1327.1" cy="285.2" r="5.4"/></g>
<polygon points="1309.1,314.8 1321.8,300.6 1340.5,293.1 1364.0,292.6 1385.0,292.1 1407.1,287.0 1425.5,282.1 1444.3,285.3 1450.3,294.1 1452.9,306.0 1449.0,320.8 1445.6,335.2 1442.8,349.6 1436.9,361.0 1418.7,368.5 1401.3,369.8 1379.8,372.1 1357.6,373.6 1333.5,372.7 1314.3,371.0 1301.7,359.4 1298.9,341.4 1302.5,326.5" fill="#1f74b0" fill-opacity="0.96" stroke="#1f74b0" stroke-opacity="0.6" stroke-width="8" stroke-linejoin="round"/>
<line x1="1124.6" y1="576.4" x2="1633.3" y2="69.1" stroke="#005a10" stroke-opacity="0.6" stroke-width="1.4" clip-path="url(#cB)"/>
<rect x="1140.0" y="84.6" width="329.0" height="48.4" rx="6" fill="#fff" fill-opacity="0.8" stroke="#cccccc" stroke-width="1.3"/>
<line x1="1151" y1="105.8" x2="1207" y2="105.8" stroke="#d0242c" stroke-width="2.85" stroke-dasharray="10.5 4.6"/>
<text x="1231.3" y="116.4" font-size="29">y = 0.5 x +52.2</text>
<rect x="1124.6" y="69.1" width="508.7" height="507.3" fill="none" stroke="#000" stroke-width="1.7"/>
<path d="M1124.6 576.4v8M1251.8 576.4v8M1378.9 576.4v8M1506.1 576.4v8M1633.3 576.4v8M1124.6 576.4h-8M1124.6 513.0h-8M1124.6 449.6h-8M1124.6 386.2h-8M1124.6 322.8h-8M1124.6 259.3h-8M1124.6 195.9h-8M1124.6 132.5h-8M1124.6 69.1h-8" stroke="#000" stroke-width="1.7"/>
<text x="1124.6" y="610.0" font-size="29.5" text-anchor="middle">0</text>
<text x="1251.8" y="610.0" font-size="29.5" text-anchor="middle">50</text>
<text x="1378.9" y="610.0" font-size="29.5" text-anchor="middle">100</text>
<text x="1506.1" y="610.0" font-size="29.5" text-anchor="middle">150</text>
<text x="1633.3" y="610.0" font-size="29.5" text-anchor="middle">200</text>
<text x="1112.1" y="587.2" font-size="29.5" text-anchor="end">0</text>
<text x="1112.1" y="523.7" font-size="29.5" text-anchor="end">25</text>
<text x="1112.1" y="460.3" font-size="29.5" text-anchor="end">50</text>
<text x="1112.1" y="396.9" font-size="29.5" text-anchor="end">75</text>
<text x="1112.1" y="333.5" font-size="29.5" text-anchor="end">100</text>
<text x="1112.1" y="270.1" font-size="29.5" text-anchor="end">125</text>
<text x="1112.1" y="206.7" font-size="29.5" text-anchor="end">150</text>
<text x="1112.1" y="143.3" font-size="29.5" text-anchor="end">175</text>
<text x="1112.1" y="79.9" font-size="29.5" text-anchor="end">200</text>
<text x="1378.9" y="57.0" font-size="29.6" text-anchor="middle">LVM (r=0.24)</text>
<text x="1378.9" y="648.0" font-size="29.6" text-anchor="middle">Ground Truth</text>
<text x="1045.0" y="327.2" font-size="28.9" text-anchor="middle" transform="rotate(-90 1045.0 327.2)">Predicted</text>
<clipPath id="cC"><rect x="304.9" y="755.1" width="680.3" height="507.4"/></clipPath>
<path d="M363.9 755.1V1262.5M463.1 755.1V1262.5M562.3 755.1V1262.5M661.5 755.1V1262.5M760.6 755.1V1262.5M859.8 755.1V1262.5M959.0 755.1V1262.5M304.9 1163.8H985.2M304.9 1052.2H985.2M304.9 940.6H985.2M304.9 829.0H985.2" stroke="#a8a8a8" stroke-width="1.2" fill="none"/>
<g clip-path="url(#cC)" fill="#1f77b4" fill-opacity="0.62" stroke="#1b6aa2" stroke-opacity="0.8" stroke-width="1.3"><circle cx="421.2" cy="778.7" r="4.6"/><circle cx="447.3" cy="790.9" r="4.6"/><circle cx="526.1" cy="798.9" r="4.6"/><circle cx="370.5" cy="801.6" r="4.6"/><circle cx="395.2" cy="805.8" r="4.6"/><circle cx="418.2" cy="805.8" r="4.6"/><circle cx="418.2" cy="811.5" r="4.6"/><circle cx="434.3" cy="810.1" r="4.6"/><circle cx="478.6" cy="811.5" r="4.6"/><circle cx="515.7" cy="808.5" r="4.6"/><circle cx="519.2" cy="819.5" r="4.6"/><circle cx="366.6" cy="818.4" r="4.6"/><circle cx="381.5" cy="823.0" r="4.6"/><circle cx="381.5" cy="831.5" r="4.6"/><circle cx="388.4" cy="830.3" r="4.6"/><circle cx="407.4" cy="817.0" r="4.6"/><circle cx="454.2" cy="819.5" r="4.6"/><circle cx="463.4" cy="825.7" r="4.6"/><circle cx="475.6" cy="826.2" r="4.6"/><circle cx="474.4" cy="833.8" r="4.6"/><circle cx="551.8" cy="826.4" r="4.6"/><circle cx="579.6" cy="844.1" r="4.6"/><circle cx="368.9" cy="837.2" r="4.6"/><circle cx="379.2" cy="845.2" r="4.6"/><circle cx="375.7" cy="851.0" r="4.6"/><circle cx="375.7" cy="855.6" r="4.6"/><circle cx="378.0" cy="862.0" r="4.6"/><circle cx="334.9" cy="855.6" r="4.6"/><circle cx="409.0" cy="855.6" r="4.6"/><circle cx="421.6" cy="830.3" r="4.6"/><circle cx="427.4" cy="843.0" r="4.6"/><circle cx="426.2" cy="849.8" r="4.6"/><circle cx="432.0" cy="857.9" r="4.6"/><circle cx="449.9" cy="840.2" r="4.6"/><circle cx="460.2" cy="840.2" r="4.6"/><circle cx="471.0" cy="845.2" r="4.6"/><circle cx="475.6" cy="845.9" r="4.6"/><circle cx="499.7" cy="836.1" r="4.6"/><circle cx="505.4" cy="840.2" r="4.6"/><circle cx="529.5" cy="849.8" r="4.6"/><circle cx="534.1" cy="854.4" r="4.6"/><circle cx="534.1" cy="859.0" r="4.6"/><circle cx="553.6" cy="864.8" r="4.6"/><circle cx="557.1" cy="872.8" r="4.6"/><circle cx="349.3" cy="883.1" r="4.6"/><circle cx="345.9" cy="893.4" r="4.6"/><circle cx="352.8" cy="890.0" r="4.6"/><circle cx="357.4" cy="892.3" r="4.6"/><circle cx="349.3" cy="895.7" r="4.6"/><circle cx="355.1" cy="900.3" r="4.6"/><circle cx="378.0" cy="884.3" r="4.6"/><circle cx="373.4" cy="892.3" r="4.6"/><circle cx="376.9" cy="899.2" r="4.6"/><circle cx="376.9" cy="902.6" r="4.6"/><circle cx="401.0" cy="871.6" r="4.6"/><circle cx="404.4" cy="871.6" r="4.6"/><circle cx="401.0" cy="877.4" r="4.6"/><circle cx="418.2" cy="878.5" r="4.6"/><circle cx="391.8" cy="898.0" r="4.6"/><circle cx="401.0" cy="895.7" r="4.6"/><circle cx="407.9" cy="896.9" r="4.6"/><circle cx="412.5" cy="901.5" r="4.6"/><circle cx="418.2" cy="890.0" r="4.6"/><circle cx="426.2" cy="893.4" r="4.6"/><circle cx="434.3" cy="877.4" r="4.6"/><circle cx="437.7" cy="886.6" r="4.6"/><circle cx="440.0" cy="864.8" r="4.6"/><circle cx="441.2" cy="870.5" r="4.6"/><circle cx="449.2" cy="855.6" r="4.6"/><circle cx="451.5" cy="862.5" r="4.6"/><circle cx="451.5" cy="880.8" r="4.6"/><circle cx="451.5" cy="890.0" r="4.6"/><circle cx="452.6" cy="896.9" r="4.6"/><circle cx="340.2" cy="921.0" r="4.6"/><circle cx="362.0" cy="929.0" r="4.6"/><circle cx="374.6" cy="918.7" r="4.6"/><circle cx="379.2" cy="935.9" r="4.6"/><circle cx="383.8" cy="927.9" r="4.6"/><circle cx="396.4" cy="911.8" r="4.6"/><circle cx="399.8" cy="922.1" r="4.6"/><circle cx="405.6" cy="929.0" r="4.6"/><circle cx="414.3" cy="927.9" r="4.6"/><circle cx="425.1" cy="934.8" r="4.6"/><circle cx="419.3" cy="940.5" r="4.6"/><circle cx="433.1" cy="910.7" r="4.6"/><circle cx="433.1" cy="914.1" r="4.6"/><circle cx="444.6" cy="913.0" r="4.6"/><circle cx="458.4" cy="910.7" r="4.6"/><circle cx="465.3" cy="908.4" r="4.6"/><circle cx="451.5" cy="922.1" r="4.6"/><circle cx="453.8" cy="926.7" r="4.6"/><circle cx="457.2" cy="933.6" r="4.6"/><circle cx="468.7" cy="925.6" r="4.6"/><circle cx="475.6" cy="910.7" r="4.6"/><circle cx="373.4" cy="945.1" r="4.6"/><circle cx="390.7" cy="943.9" r="4.6"/><circle cx="404.4" cy="945.1" r="4.6"/><circle cx="572.0" cy="883.1" r="4.6"/><circle cx="595.4" cy="880.4" r="4.6"/><circle cx="571.3" cy="901.9" r="4.6"/><circle cx="581.8" cy="910.0" r="4.6"/><circle cx="605.3" cy="902.6" r="4.6"/><circle cx="614.9" cy="894.1" r="4.6"/><circle cx="619.0" cy="903.3" r="4.6"/><circle cx="605.3" cy="917.5" r="4.6"/><circle cx="613.3" cy="918.7" r="4.6"/><circle cx="633.9" cy="911.3" r="4.6"/><circle cx="641.3" cy="902.2" r="4.6"/><circle cx="646.6" cy="917.5" r="4.6"/><circle cx="645.4" cy="927.9" r="4.6"/><circle cx="627.1" cy="935.9" r="4.6"/><circle cx="596.1" cy="929.0" r="4.6"/><circle cx="586.9" cy="933.6" r="4.6"/><circle cx="575.4" cy="933.6" r="4.6"/><circle cx="391.8" cy="974.5" r="4.6"/><circle cx="401.0" cy="970.8" r="4.6"/><circle cx="394.1" cy="985.3" r="4.6"/><circle cx="402.1" cy="991.0" r="4.6"/><circle cx="420.5" cy="978.4" r="4.6"/><circle cx="423.9" cy="989.8" r="4.6"/><circle cx="429.7" cy="999.0" r="4.6"/><circle cx="437.7" cy="981.4" r="4.6"/><circle cx="442.3" cy="1001.3" r="4.6"/><circle cx="449.2" cy="1007.1" r="4.6"/><circle cx="460.7" cy="1000.2" r="4.6"/><circle cx="402.1" cy="1013.9" r="4.6"/><circle cx="418.2" cy="963.4" r="4.6"/><circle cx="428.5" cy="965.7" r="4.6"/><circle cx="435.4" cy="957.7" r="4.6"/><circle cx="442.3" cy="963.4" r="4.6"/><circle cx="443.4" cy="970.3" r="4.6"/><circle cx="449.2" cy="979.5" r="4.6"/><circle cx="456.1" cy="984.1" r="4.6"/><circle cx="460.7" cy="965.7" r="4.6"/><circle cx="469.8" cy="964.6" r="4.6"/><circle cx="463.6" cy="1029.4" r="4.6"/><circle cx="477.9" cy="1027.5" r="4.6"/><circle cx="488.2" cy="1021.8" r="4.6"/><circle cx="508.9" cy="1034.0" r="4.6"/><circle cx="513.4" cy="1021.8" r="4.6"/><circle cx="521.5" cy="1025.2" r="4.6"/><circle cx="521.5" cy="1032.1" r="4.6"/><circle cx="527.2" cy="1017.2" r="4.6"/><circle cx="543.3" cy="1036.7" r="4.6"/><circle cx="546.7" cy="1037.9" r="4.6"/><circle cx="543.3" cy="1041.3" r="4.6"/><circle cx="547.9" cy="1048.2" r="4.6"/><circle cx="552.5" cy="1052.8" r="4.6"/><circle cx="557.1" cy="1052.8" r="4.6"/><circle cx="522.6" cy="1048.2" r="4.6"/><circle cx="528.4" cy="1048.2" r="4.6"/><circle cx="514.6" cy="1055.1" r="4.6"/><circle cx="533.6" cy="1065.0" r="4.6"/><circle cx="545.6" cy="1071.1" r="4.6"/><circle cx="543.3" cy="1078.0" r="4.6"/><circle cx="555.9" cy="1022.5" r="4.6"/><circle cx="568.5" cy="1021.8" r="4.6"/><circle cx="573.1" cy="1023.0" r="4.6"/><circle cx="573.1" cy="1029.8" r="4.6"/><circle cx="585.7" cy="1026.4" r="4.6"/><circle cx="591.5" cy="1016.1" r="4.6"/><circle cx="589.2" cy="1041.3" r="4.6"/><circle cx="593.8" cy="1045.9" r="4.6"/><circle cx="596.1" cy="1040.2" r="4.6"/><circle cx="607.6" cy="1025.2" r="4.6"/><circle cx="616.7" cy="1025.2" r="4.6"/><circle cx="607.6" cy="1037.9" r="4.6"/><circle cx="607.6" cy="1047.1" r="4.6"/><circle cx="613.3" cy="1051.6" r="4.6"/><circle cx="606.4" cy="1057.4" r="4.6"/><circle cx="621.3" cy="1061.5" r="4.6"/><circle cx="606.4" cy="1071.1" r="4.6"/><circle cx="608.7" cy="1074.6" r="4.6"/><circle cx="619.0" cy="1080.3" r="4.6"/><circle cx="616.7" cy="1088.4" r="4.6"/><circle cx="635.1" cy="1028.7" r="4.6"/><circle cx="637.4" cy="1034.4" r="4.6"/><circle cx="635.1" cy="1043.6" r="4.6"/><circle cx="639.7" cy="1055.1" r="4.6"/><circle cx="635.1" cy="1053.9" r="4.6"/><circle cx="637.4" cy="1070.0" r="4.6"/><circle cx="635.1" cy="1083.8" r="4.6"/><circle cx="648.9" cy="1020.7" r="4.6"/><circle cx="648.9" cy="1075.7" r="4.6"/><circle cx="523.8" cy="1090.7" r="4.6"/><circle cx="580.0" cy="1089.5" r="4.6"/><circle cx="575.4" cy="1111.3" r="4.6"/><circle cx="632.8" cy="1023.0" r="4.6"/><circle cx="644.3" cy="1036.7" r="4.6"/><circle cx="721.5" cy="926.7" r="4.6"/><circle cx="679.0" cy="951.5" r="4.6"/><circle cx="700.8" cy="959.3" r="4.6"/><circle cx="698.5" cy="966.2" r="4.6"/><circle cx="680.2" cy="977.2" r="4.6"/><circle cx="668.0" cy="988.2" r="4.6"/><circle cx="696.9" cy="985.3" r="4.6"/><circle cx="706.1" cy="989.8" r="4.6"/><circle cx="708.9" cy="996.7" r="4.6"/><circle cx="674.4" cy="1004.8" r="4.6"/><circle cx="653.8" cy="971.5" r="4.6"/><circle cx="654.9" cy="976.1" r="4.6"/><circle cx="653.8" cy="981.8" r="4.6"/><circle cx="656.1" cy="989.8" r="4.6"/><circle cx="651.5" cy="1024.1" r="4.6"/><circle cx="656.1" cy="1029.8" r="4.6"/><circle cx="653.8" cy="1039.0" r="4.6"/><circle cx="660.7" cy="1039.0" r="4.6"/><circle cx="672.1" cy="1037.2" r="4.6"/><circle cx="677.9" cy="1023.0" r="4.6"/><circle cx="679.0" cy="1026.4" r="4.6"/><circle cx="691.6" cy="1021.8" r="4.6"/><circle cx="689.3" cy="1029.8" r="4.6"/><circle cx="688.2" cy="1041.8" r="4.6"/><circle cx="698.5" cy="1037.2" r="4.6"/><circle cx="725.4" cy="1025.2" r="4.6"/><circle cx="725.4" cy="1034.9" r="4.6"/><circle cx="749.0" cy="1045.9" r="4.6"/><circle cx="671.0" cy="1070.0" r="4.6"/><circle cx="677.9" cy="1077.6" r="4.6"/><circle cx="695.1" cy="1066.6" r="4.6"/><circle cx="697.4" cy="1073.4" r="4.6"/><circle cx="695.1" cy="1075.7" r="4.6"/><circle cx="712.3" cy="1078.7" r="4.6"/><circle cx="653.8" cy="1078.0" r="4.6"/><circle cx="658.4" cy="1081.5" r="4.6"/><circle cx="752.9" cy="1086.8" r="4.6"/><circle cx="770.8" cy="1091.8" r="4.6"/><circle cx="779.3" cy="1085.4" r="4.6"/><circle cx="679.0" cy="1094.6" r="4.6"/><circle cx="674.9" cy="1103.7" r="4.6"/><circle cx="702.4" cy="1104.4" r="4.6"/><circle cx="721.5" cy="1101.7" r="4.6"/><circle cx="762.8" cy="1109.0" r="4.6"/><circle cx="712.3" cy="1123.9" r="4.6"/><circle cx="761.2" cy="1145.7" r="4.6"/><circle cx="656.5" cy="1163.6" r="4.6"/><circle cx="738.0" cy="1166.4" r="4.6"/><circle cx="953.7" cy="1155.6" r="4.6"/><circle cx="903.3" cy="1202.0" r="4.6"/><circle cx="876.9" cy="1215.7" r="4.6"/><circle cx="876.9" cy="1229.5" r="4.6"/><circle cx="876.9" cy="1239.2" r="4.6"/><circle cx="901.2" cy="1234.8" r="4.6"/><circle cx="827.1" cy="1219.9" r="4.6"/><circle cx="775.0" cy="1227.9" r="4.6"/><circle cx="506.9" cy="928.5" r="4.6"/><circle cx="470.2" cy="888.2" r="4.6"/><circle cx="513.8" cy="889.3" r="4.6"/><circle cx="520.8" cy="894.9" r="4.6"/><circle cx="500.5" cy="911.8" r="4.6"/><circle cx="491.2" cy="904.6" r="4.6"/><circle cx="535.1" cy="861.8" r="4.6"/><circle cx="490.9" cy="935.0" r="4.6"/><circle cx="533.6" cy="910.8" r="4.6"/><circle cx="534.2" cy="901.7" r="4.6"/><circle cx="541.7" cy="895.2" r="4.6"/><circle cx="479.9" cy="858.5" r="4.6"/><circle cx="554.9" cy="917.9" r="4.6"/><circle cx="474.5" cy="924.0" r="4.6"/><circle cx="488.0" cy="907.2" r="4.6"/><circle cx="494.2" cy="869.3" r="4.6"/><circle cx="512.0" cy="861.6" r="4.6"/><circle cx="512.7" cy="898.8" r="4.6"/><circle cx="509.6" cy="868.6" r="4.6"/><circle cx="502.8" cy="928.4" r="4.6"/><circle cx="497.2" cy="895.4" r="4.6"/><circle cx="534.8" cy="893.5" r="4.6"/><circle cx="541.6" cy="882.4" r="4.6"/><circle cx="514.7" cy="883.1" r="4.6"/><circle cx="524.5" cy="938.3" r="4.6"/><circle cx="535.5" cy="924.7" r="4.6"/><circle cx="553.4" cy="874.5" r="4.6"/><circle cx="563.5" cy="885.1" r="4.6"/><circle cx="509.7" cy="866.2" r="4.6"/><circle cx="545.4" cy="880.3" r="4.6"/><circle cx="530.8" cy="869.7" r="4.6"/><circle cx="493.6" cy="884.6" r="4.6"/><circle cx="479.9" cy="864.6" r="4.6"/><circle cx="493.2" cy="857.4" r="4.6"/><circle cx="526.5" cy="883.2" r="4.6"/><circle cx="516.9" cy="931.5" r="4.6"/><circle cx="557.9" cy="903.1" r="4.6"/><circle cx="510.3" cy="853.4" r="4.6"/><circle cx="466.3" cy="897.2" r="4.6"/><circle cx="549.2" cy="888.9" r="4.6"/><circle cx="538.6" cy="864.3" r="4.6"/><circle cx="477.0" cy="875.7" r="4.6"/><circle cx="522.0" cy="925.3" r="4.6"/><circle cx="479.1" cy="904.0" r="4.6"/><circle cx="513.3" cy="890.0" r="4.6"/><circle cx="518.8" cy="923.3" r="4.6"/><circle cx="478.9" cy="894.8" r="4.6"/><circle cx="465.8" cy="896.2" r="4.6"/><circle cx="507.3" cy="876.7" r="4.6"/><circle cx="518.7" cy="883.5" r="4.6"/><circle cx="467.9" cy="897.2" r="4.6"/><circle cx="542.9" cy="930.2" r="4.6"/><circle cx="562.6" cy="883.1" r="4.6"/><circle cx="482.7" cy="860.0" r="4.6"/><circle cx="503.0" cy="922.6" r="4.6"/><circle cx="480.8" cy="926.5" r="4.6"/><circle cx="533.3" cy="868.1" r="4.6"/><circle cx="524.5" cy="923.8" r="4.6"/><circle cx="545.4" cy="919.8" r="4.6"/><circle cx="481.8" cy="876.5" r="4.6"/><circle cx="560.3" cy="882.6" r="4.6"/><circle cx="486.8" cy="914.8" r="4.6"/><circle cx="469.6" cy="893.5" r="4.6"/><circle cx="494.4" cy="899.0" r="4.6"/><circle cx="521.4" cy="907.6" r="4.6"/><circle cx="502.6" cy="929.8" r="4.6"/><circle cx="504.0" cy="915.7" r="4.6"/><circle cx="502.4" cy="875.1" r="4.6"/><circle cx="526.7" cy="935.1" r="4.6"/><circle cx="543.5" cy="875.7" r="4.6"/><circle cx="480.1" cy="919.4" r="4.6"/><circle cx="532.6" cy="927.7" r="4.6"/><circle cx="502.6" cy="874.6" r="4.6"/><circle cx="489.7" cy="914.8" r="4.6"/><circle cx="491.7" cy="878.7" r="4.6"/><circle cx="542.3" cy="878.7" r="4.6"/><circle cx="536.2" cy="883.2" r="4.6"/><circle cx="487.7" cy="884.9" r="4.6"/><circle cx="505.7" cy="912.0" r="4.6"/><circle cx="549.9" cy="885.2" r="4.6"/><circle cx="533.3" cy="917.9" r="4.6"/><circle cx="537.5" cy="913.5" r="4.6"/><circle cx="475.4" cy="924.4" r="4.6"/><circle cx="543.1" cy="879.9" r="4.6"/><circle cx="492.4" cy="860.0" r="4.6"/><circle cx="504.0" cy="859.9" r="4.6"/><circle cx="514.8" cy="906.2" r="4.6"/><circle cx="519.0" cy="856.4" r="4.6"/><circle cx="523.4" cy="917.7" r="4.6"/><circle cx="470.6" cy="903.6" r="4.6"/><circle cx="545.1" cy="867.4" r="4.6"/><circle cx="533.3" cy="928.5" r="4.6"/><circle cx="484.9" cy="909.8" r="4.6"/><circle cx="545.3" cy="871.3" r="4.6"/><circle cx="543.1" cy="907.8" r="4.6"/><circle cx="543.2" cy="886.1" r="4.6"/><circle cx="504.5" cy="933.2" r="4.6"/><circle cx="484.2" cy="930.3" r="4.6"/><circle cx="497.6" cy="927.2" r="4.6"/><circle cx="488.8" cy="881.3" r="4.6"/><circle cx="543.4" cy="891.6" r="4.6"/><circle cx="498.7" cy="869.0" r="4.6"/><circle cx="501.7" cy="914.7" r="4.6"/><circle cx="539.8" cy="859.8" r="4.6"/><circle cx="559.1" cy="910.7" r="4.6"/><circle cx="456.1" cy="892.6" r="4.6"/><circle cx="519.8" cy="929.9" r="4.6"/><circle cx="510.3" cy="857.0" r="4.6"/><circle cx="508.5" cy="854.8" r="4.6"/><circle cx="547.3" cy="916.8" r="4.6"/><circle cx="502.9" cy="875.5" r="4.6"/><circle cx="466.8" cy="916.2" r="4.6"/><circle cx="492.5" cy="853.5" r="4.6"/><circle cx="469.7" cy="922.5" r="4.6"/><circle cx="521.6" cy="869.4" r="4.6"/><circle cx="531.6" cy="861.7" r="4.6"/><circle cx="529.1" cy="909.0" r="4.6"/><circle cx="455.6" cy="896.0" r="4.6"/><circle cx="534.9" cy="918.3" r="4.6"/><circle cx="532.6" cy="929.7" r="4.6"/><circle cx="593.9" cy="1019.0" r="4.6"/><circle cx="515.4" cy="950.6" r="4.6"/><circle cx="461.6" cy="970.2" r="4.6"/><circle cx="539.3" cy="967.4" r="4.6"/><circle cx="485.7" cy="1005.1" r="4.6"/><circle cx="505.2" cy="1002.6" r="4.6"/><circle cx="616.0" cy="959.6" r="4.6"/><circle cx="466.1" cy="997.9" r="4.6"/><circle cx="481.1" cy="962.8" r="4.6"/><circle cx="520.8" cy="951.6" r="4.6"/><circle cx="476.3" cy="964.8" r="4.6"/><circle cx="495.8" cy="957.7" r="4.6"/><circle cx="528.4" cy="1001.0" r="4.6"/><circle cx="498.0" cy="1019.4" r="4.6"/><circle cx="617.7" cy="971.6" r="4.6"/><circle cx="475.2" cy="973.6" r="4.6"/><circle cx="488.9" cy="984.1" r="4.6"/><circle cx="564.3" cy="1000.6" r="4.6"/><circle cx="468.8" cy="993.8" r="4.6"/><circle cx="545.1" cy="998.7" r="4.6"/><circle cx="640.9" cy="978.3" r="4.6"/><circle cx="593.4" cy="997.4" r="4.6"/><circle cx="548.8" cy="1000.3" r="4.6"/><circle cx="493.5" cy="1014.4" r="4.6"/><circle cx="513.6" cy="959.4" r="4.6"/><circle cx="464.9" cy="972.3" r="4.6"/><circle cx="646.4" cy="988.0" r="4.6"/><circle cx="447.4" cy="964.6" r="4.6"/><circle cx="509.1" cy="1015.8" r="4.6"/><circle cx="496.8" cy="983.7" r="4.6"/><circle cx="530.6" cy="973.0" r="4.6"/><circle cx="472.0" cy="1011.5" r="4.6"/><circle cx="561.8" cy="987.4" r="4.6"/><circle cx="505.0" cy="958.0" r="4.6"/><circle cx="525.1" cy="1024.0" r="4.6"/><circle cx="556.9" cy="992.4" r="4.6"/><circle cx="573.5" cy="971.5" r="4.6"/><circle cx="564.5" cy="974.8" r="4.6"/><circle cx="606.5" cy="958.6" r="4.6"/><circle cx="526.4" cy="1012.7" r="4.6"/><circle cx="524.5" cy="994.3" r="4.6"/><circle cx="442.6" cy="970.0" r="4.6"/><circle cx="639.5" cy="998.6" r="4.6"/><circle cx="503.9" cy="987.8" r="4.6"/><circle cx="598.2" cy="1008.6" r="4.6"/><circle cx="610.4" cy="970.3" r="4.6"/><circle cx="474.8" cy="997.2" r="4.6"/><circle cx="541.3" cy="991.5" r="4.6"/><circle cx="469.4" cy="972.5" r="4.6"/><circle cx="593.0" cy="975.6" r="4.6"/><circle cx="530.0" cy="1018.9" r="4.6"/><circle cx="478.3" cy="965.5" r="4.6"/><circle cx="542.4" cy="952.7" r="4.6"/><circle cx="559.1" cy="967.4" r="4.6"/><circle cx="562.5" cy="982.2" r="4.6"/><circle cx="434.4" cy="976.6" r="4.6"/><circle cx="618.7" cy="971.3" r="4.6"/><circle cx="494.2" cy="994.7" r="4.6"/><circle cx="478.0" cy="990.9" r="4.6"/><circle cx="596.8" cy="970.1" r="4.6"/><circle cx="540.4" cy="987.5" r="4.6"/><circle cx="521.8" cy="964.5" r="4.6"/><circle cx="479.4" cy="986.8" r="4.6"/><circle cx="552.2" cy="1012.9" r="4.6"/><circle cx="579.8" cy="985.4" r="4.6"/><circle cx="538.8" cy="980.3" r="4.6"/><circle cx="575.9" cy="965.2" r="4.6"/><circle cx="581.6" cy="981.9" r="4.6"/><circle cx="574.7" cy="1011.2" r="4.6"/><circle cx="499.7" cy="976.2" r="4.6"/><circle cx="565.8" cy="990.9" r="4.6"/><circle cx="527.3" cy="1008.6" r="4.6"/><circle cx="587.8" cy="960.5" r="4.6"/><circle cx="521.4" cy="1005.2" r="4.6"/><circle cx="518.6" cy="965.8" r="4.6"/><circle cx="605.6" cy="970.5" r="4.6"/><circle cx="495.3" cy="981.7" r="4.6"/><circle cx="542.2" cy="1012.7" r="4.6"/><circle cx="587.9" cy="979.9" r="4.6"/><circle cx="555.1" cy="970.7" r="4.6"/><circle cx="627.1" cy="975.1" r="4.6"/><circle cx="610.6" cy="992.6" r="4.6"/><circle cx="615.7" cy="973.0" r="4.6"/><circle cx="530.8" cy="974.0" r="4.6"/><circle cx="600.2" cy="979.3" r="4.6"/><circle cx="600.9" cy="997.5" r="4.6"/><circle cx="548.3" cy="961.9" r="4.6"/><circle cx="500.4" cy="995.7" r="4.6"/><circle cx="493.8" cy="986.4" r="4.6"/><circle cx="596.7" cy="992.5" r="4.6"/><circle cx="563.7" cy="966.8" r="4.6"/><circle cx="554.8" cy="977.5" r="4.6"/><circle cx="494.7" cy="969.7" r="4.6"/><circle cx="538.4" cy="1001.9" r="4.6"/><circle cx="571.5" cy="952.7" r="4.6"/><circle cx="541.9" cy="962.1" r="4.6"/><circle cx="554.3" cy="997.9" r="4.6"/><circle cx="576.8" cy="1003.1" r="4.6"/><circle cx="507.4" cy="964.9" r="4.6"/><circle cx="499.1" cy="986.9" r="4.6"/><circle cx="552.5" cy="974.3" r="4.6"/><circle cx="587.5" cy="958.6" r="4.6"/><circle cx="523.2" cy="978.0" r="4.6"/><circle cx="622.0" cy="994.5" r="4.6"/><circle cx="498.6" cy="989.2" r="4.6"/><circle cx="578.3" cy="1003.7" r="4.6"/><circle cx="568.1" cy="987.7" r="4.6"/><circle cx="533.5" cy="999.8" r="4.6"/><circle cx="499.8" cy="1008.8" r="4.6"/><circle cx="511.3" cy="967.2" r="4.6"/><circle cx="517.2" cy="981.5" r="4.6"/><circle cx="494.0" cy="967.1" r="4.6"/><circle cx="486.4" cy="978.7" r="4.6"/><circle cx="531.4" cy="1003.8" r="4.6"/><circle cx="572.3" cy="976.5" r="4.6"/><circle cx="594.1" cy="989.3" r="4.6"/><circle cx="495.6" cy="1001.5" r="4.6"/><circle cx="539.2" cy="1007.7" r="4.6"/><circle cx="573.1" cy="959.8" r="4.6"/><circle cx="588.6" cy="987.8" r="4.6"/><circle cx="437.9" cy="889.4" r="4.6"/><circle cx="446.4" cy="864.4" r="4.6"/><circle cx="435.3" cy="925.5" r="4.6"/><circle cx="414.3" cy="869.6" r="4.6"/><circle cx="428.7" cy="896.4" r="4.6"/><circle cx="426.4" cy="893.9" r="4.6"/><circle cx="447.2" cy="915.5" r="4.6"/><circle cx="403.6" cy="886.7" r="4.6"/><circle cx="443.3" cy="861.5" r="4.6"/><circle cx="466.4" cy="904.9" r="4.6"/><circle cx="434.0" cy="891.4" r="4.6"/><circle cx="447.7" cy="924.7" r="4.6"/><circle cx="402.7" cy="895.9" r="4.6"/><circle cx="440.1" cy="902.4" r="4.6"/><circle cx="432.8" cy="929.6" r="4.6"/><circle cx="449.0" cy="864.0" r="4.6"/><circle cx="463.7" cy="903.2" r="4.6"/><circle cx="413.6" cy="884.3" r="4.6"/><circle cx="440.4" cy="905.7" r="4.6"/><circle cx="428.8" cy="912.1" r="4.6"/><circle cx="437.3" cy="928.2" r="4.6"/><circle cx="459.7" cy="870.5" r="4.6"/><circle cx="442.5" cy="928.3" r="4.6"/><circle cx="430.5" cy="872.6" r="4.6"/><circle cx="405.8" cy="905.1" r="4.6"/><circle cx="605.1" cy="931.8" r="4.6"/><circle cx="598.6" cy="932.6" r="4.6"/><circle cx="623.2" cy="894.0" r="4.6"/><circle cx="585.8" cy="896.0" r="4.6"/><circle cx="576.0" cy="913.1" r="4.6"/><circle cx="587.4" cy="945.8" r="4.6"/><circle cx="605.3" cy="943.0" r="4.6"/><circle cx="599.9" cy="920.8" r="4.6"/><circle cx="602.7" cy="881.4" r="4.6"/><circle cx="604.3" cy="927.8" r="4.6"/><circle cx="622.9" cy="918.0" r="4.6"/><circle cx="611.1" cy="937.9" r="4.6"/><circle cx="611.5" cy="926.7" r="4.6"/><circle cx="601.5" cy="881.9" r="4.6"/><circle cx="629.3" cy="903.1" r="4.6"/><circle cx="601.7" cy="935.1" r="4.6"/><circle cx="615.1" cy="944.8" r="4.6"/><circle cx="599.2" cy="929.2" r="4.6"/><circle cx="597.6" cy="886.2" r="4.6"/><circle cx="604.6" cy="901.9" r="4.6"/><circle cx="627.2" cy="912.8" r="4.6"/><circle cx="594.1" cy="881.4" r="4.6"/><circle cx="581.5" cy="906.8" r="4.6"/><circle cx="583.7" cy="903.6" r="4.6"/><circle cx="595.0" cy="900.8" r="4.6"/><circle cx="500.5" cy="940.5" r="4.6"/><circle cx="507.4" cy="952.0" r="4.6"/><circle cx="507.6" cy="936.3" r="4.6"/><circle cx="594.8" cy="951.2" r="4.6"/><circle cx="624.1" cy="949.3" r="4.6"/><circle cx="571.2" cy="937.6" r="4.6"/><circle cx="513.0" cy="957.0" r="4.6"/><circle cx="597.8" cy="940.6" r="4.6"/><circle cx="528.1" cy="939.1" r="4.6"/><circle cx="508.6" cy="930.6" r="4.6"/><circle cx="445.1" cy="951.4" r="4.6"/><circle cx="641.5" cy="949.5" r="4.6"/><circle cx="572.1" cy="942.9" r="4.6"/><circle cx="508.7" cy="941.8" r="4.6"/><circle cx="500.7" cy="928.9" r="4.6"/><circle cx="539.0" cy="948.4" r="4.6"/><circle cx="558.8" cy="951.5" r="4.6"/><circle cx="476.8" cy="933.6" r="4.6"/><circle cx="551.7" cy="937.6" r="4.6"/><circle cx="574.7" cy="931.0" r="4.6"/><circle cx="533.0" cy="922.1" r="4.6"/><circle cx="581.0" cy="956.6" r="4.6"/><circle cx="551.3" cy="929.4" r="4.6"/><circle cx="570.1" cy="947.1" r="4.6"/><circle cx="603.1" cy="948.3" r="4.6"/><circle cx="544.3" cy="928.5" r="4.6"/><circle cx="575.3" cy="928.6" r="4.6"/><circle cx="634.0" cy="950.8" r="4.6"/><circle cx="480.3" cy="940.8" r="4.6"/><circle cx="506.2" cy="926.7" r="4.6"/><circle cx="515.2" cy="931.9" r="4.6"/><circle cx="573.3" cy="944.5" r="4.6"/><circle cx="475.0" cy="945.9" r="4.6"/><circle cx="556.8" cy="955.0" r="4.6"/><circle cx="447.7" cy="936.8" r="4.6"/><circle cx="505.4" cy="896.0" r="4.6"/><circle cx="500.1" cy="913.8" r="4.6"/><circle cx="496.3" cy="862.1" r="4.6"/><circle cx="504.2" cy="901.3" r="4.6"/><circle cx="473.4" cy="891.8" r="4.6"/><circle cx="520.5" cy="900.2" r="4.6"/><circle cx="537.2" cy="878.8" r="4.6"/><circle cx="512.1" cy="914.1" r="4.6"/><circle cx="548.4" cy="874.8" r="4.6"/><circle cx="542.1" cy="888.9" r="4.6"/><circle cx="500.8" cy="883.8" r="4.6"/><circle cx="513.6" cy="931.9" r="4.6"/><circle cx="479.4" cy="898.9" r="4.6"/><circle cx="529.8" cy="912.6" r="4.6"/><circle cx="471.7" cy="902.9" r="4.6"/><circle cx="510.0" cy="882.2" r="4.6"/><circle cx="535.9" cy="871.3" r="4.6"/><circle cx="559.8" cy="895.0" r="4.6"/><circle cx="510.3" cy="874.9" r="4.6"/><circle cx="518.4" cy="924.1" r="4.6"/><circle cx="472.2" cy="907.7" r="4.6"/><circle cx="479.7" cy="873.0" r="4.6"/><circle cx="538.2" cy="859.6" r="4.6"/><circle cx="516.0" cy="904.9" r="4.6"/><circle cx="479.7" cy="919.2" r="4.6"/><circle cx="487.1" cy="893.1" r="4.6"/><circle cx="489.0" cy="916.1" r="4.6"/><circle cx="490.1" cy="876.0" r="4.6"/><circle cx="529.7" cy="881.6" r="4.6"/><circle cx="524.7" cy="884.2" r="4.6"/><circle cx="517.4" cy="902.4" r="4.6"/><circle cx="505.1" cy="920.9" r="4.6"/><circle cx="505.5" cy="884.7" r="4.6"/><circle cx="498.6" cy="906.7" r="4.6"/><circle cx="516.7" cy="934.7" r="4.6"/><circle cx="490.6" cy="899.1" r="4.6"/><circle cx="544.0" cy="870.3" r="4.6"/><circle cx="547.3" cy="899.7" r="4.6"/><circle cx="506.2" cy="893.0" r="4.6"/><circle cx="489.6" cy="865.9" r="4.6"/></g>
<line x1="304.9" y1="940.6" x2="985.2" y2="940.6" stroke="#222" stroke-width="2.83" stroke-dasharray="2.83 4.67" clip-path="url(#cC)"/>
<line x1="304.9" y1="950.6" x2="985.2" y2="950.6" stroke="#d42a2e" stroke-width="3.8" stroke-dasharray="14.06 6.08" clip-path="url(#cC)"/>
<line x1="304.9" y1="805.6" x2="985.2" y2="805.6" stroke="#1616a8" stroke-width="3.8" stroke-dasharray="24.32 6.08 3.80 6.08" clip-path="url(#cC)"/>
<line x1="304.9" y1="1095.5" x2="985.2" y2="1095.5" stroke="#1616a8" stroke-width="3.8" stroke-dasharray="24.32 6.08 3.80 6.08" clip-path="url(#cC)"/>
<rect x="318.7" y="1113.9" width="327.2" height="133.0" rx="6" fill="#fff" fill-opacity="0.8" stroke="#cccccc" stroke-width="1.3"/>
<line x1="328.5" y1="1136.7" x2="388.5" y2="1136.7" stroke="#d42a2e" stroke-width="3.8" stroke-dasharray="14.06 6.08"/>
<text x="409.0" y="1147.2" font-size="28.9">Bias: -4.47 ml</text>
<line x1="328.5" y1="1179.2" x2="388.5" y2="1179.2" stroke="#1616a8" stroke-width="3.8" stroke-dasharray="24.32 6.08 3.80 6.08"/>
<text x="409.0" y="1189.7" font-size="28.9">1.96SD: 60.48</text>
<line x1="328.5" y1="1221.3" x2="388.5" y2="1221.3" stroke="#1616a8" stroke-width="3.8" stroke-dasharray="24.32 6.08 3.80 6.08"/>
<text x="409.0" y="1231.8" font-size="28.9">-1.96SD: -69.42</text>
<rect x="304.9" y="755.1" width="680.3" height="507.4" fill="none" stroke="#000" stroke-width="1.7"/>
<path d="M363.9 1262.5v8M463.1 1262.5v8M562.3 1262.5v8M661.5 1262.5v8M760.6 1262.5v8M859.8 1262.5v8M959.0 1262.5v8M304.9 1163.8h-8M304.9 1052.2h-8M304.9 940.6h-8M304.9 829.0h-8" stroke="#000" stroke-width="1.7"/>
<text x="363.9" y="1296.5" font-size="29.5" text-anchor="middle">100</text>
<text x="463.1" y="1296.5" font-size="29.5" text-anchor="middle">120</text>
<text x="562.3" y="1296.5" font-size="29.5" text-anchor="middle">140</text>
<text x="661.5" y="1296.5" font-size="29.5" text-anchor="middle">160</text>
<text x="760.6" y="1296.5" font-size="29.5" text-anchor="middle">180</text>
<text x="859.8" y="1296.5" font-size="29.5" text-anchor="middle">200</text>
<text x="959.0" y="1296.5" font-size="29.5" text-anchor="middle">220</text>
<text x="288.8" y="1174.6" font-size="29.5" text-anchor="end">−100</text>
<text x="288.8" y="1063.0" font-size="29.5" text-anchor="end">−50</text>
<text x="288.8" y="951.4" font-size="29.5" text-anchor="end">0</text>
<text x="288.8" y="839.8" font-size="29.5" text-anchor="end">50</text>
<text x="642.5" y="744.3" font-size="29.2" text-anchor="middle">Bland-Altman Plot - LVEDV</text>
<text x="643.0" y="1331.0" font-size="29.2" text-anchor="middle">Mean</text>
<text x="196.5" y="1008.8" font-size="29.2" text-anchor="middle" transform="rotate(-90 196.5 1008.8)">Difference [Predicted - GT]</text>
<clipPath id="cD"><rect x="1121.3" y="748.9" width="506.3" height="507.8"/></clipPath>
<path d="M1121.3 748.9V1256.7M1290.1 748.9V1256.7M1458.8 748.9V1256.7M1627.6 748.9V1256.7M1121.3 1256.7H1627.6M1121.3 1172.2H1627.6M1121.3 1087.6H1627.6M1121.3 1003.1H1627.6M1121.3 918.6H1627.6M1121.3 834.0H1627.6M1121.3 749.5H1627.6" stroke="#a8a8a8" stroke-width="1.2" fill="none"/>
<line x1="1121.3" y1="1107.8" x2="1627.6" y2="920.4" stroke="#d0242c" stroke-width="2.85" stroke-dasharray="10.5 4.6" clip-path="url(#cD)"/>
<g clip-path="url(#cD)" fill="#1f77b4" fill-opacity="0.62" stroke="#1b6aa2" stroke-opacity="0.8" stroke-width="1.3"><circle cx="1247.6" cy="1006.8" r="5.4"/><circle cx="1261.7" cy="1003.1" r="5.4"/><circle cx="1279.0" cy="998.8" r="5.4"/><circle cx="1239.0" cy="1032.8" r="5.4"/><circle cx="1244.4" cy="1040.4" r="5.4"/><circle cx="1247.6" cy="1025.2" r="5.4"/><circle cx="1247.6" cy="1064.6" r="5.4"/><circle cx="1258.4" cy="1016.6" r="5.4"/><circle cx="1262.8" cy="1070.7" r="5.4"/><circle cx="1267.1" cy="1077.2" r="5.4"/><circle cx="1274.7" cy="1088.0" r="5.4"/><circle cx="1290.9" cy="978.7" r="5.4"/><circle cx="1292.0" cy="986.3" r="5.4"/><circle cx="1298.5" cy="988.4" r="5.4"/><circle cx="1308.2" cy="967.9" r="5.4"/><circle cx="1310.8" cy="980.9" r="5.4"/><circle cx="1327.0" cy="976.5" r="5.4"/><circle cx="1347.2" cy="986.3" r="5.4"/><circle cx="1355.8" cy="984.1" r="5.4"/><circle cx="1368.8" cy="978.7" r="5.4"/><circle cx="1379.6" cy="980.9" r="5.4"/><circle cx="1401.3" cy="983.0" r="5.4"/><circle cx="1406.7" cy="960.3" r="5.4"/><circle cx="1411.0" cy="979.8" r="5.4"/><circle cx="1416.4" cy="984.1" r="5.4"/><circle cx="1425.1" cy="990.6" r="5.4"/><circle cx="1429.4" cy="989.5" r="5.4"/><circle cx="1444.5" cy="996.0" r="5.4"/><circle cx="1449.9" cy="999.2" r="5.4"/><circle cx="1459.7" cy="996.0" r="5.4"/><circle cx="1485.7" cy="1000.3" r="5.4"/><circle cx="1487.8" cy="1006.8" r="5.4"/><circle cx="1488.9" cy="1015.5" r="5.4"/><circle cx="1479.2" cy="1010.1" r="5.4"/><circle cx="1503.0" cy="1028.5" r="5.4"/><circle cx="1502.5" cy="1045.8" r="5.4"/><circle cx="1472.7" cy="1026.3" r="5.4"/><circle cx="1478.1" cy="1038.2" r="5.4"/><circle cx="1473.8" cy="1071.7" r="5.4"/><circle cx="1457.5" cy="1040.4" r="5.4"/><circle cx="1459.7" cy="1020.9" r="5.4"/><circle cx="1452.1" cy="1023.1" r="5.4"/><circle cx="1442.4" cy="1031.7" r="5.4"/><circle cx="1438.0" cy="1044.7" r="5.4"/><circle cx="1431.6" cy="1057.7" r="5.4"/><circle cx="1420.7" cy="1069.6" r="5.4"/><circle cx="1427.2" cy="1079.3" r="5.4"/><circle cx="1401.3" cy="1090.1" r="5.4"/><circle cx="1402.3" cy="1079.3" r="5.4"/><circle cx="1386.1" cy="1079.3" r="5.4"/><circle cx="1364.5" cy="1081.5" r="5.4"/><circle cx="1356.9" cy="1086.9" r="5.4"/><circle cx="1329.8" cy="1103.1" r="5.4"/><circle cx="1321.2" cy="1094.5" r="5.4"/><circle cx="1312.5" cy="1090.1" r="5.4"/><circle cx="1295.2" cy="1083.6" r="5.4"/><circle cx="1282.2" cy="1081.5" r="5.4"/><circle cx="1433.7" cy="1012.2" r="5.4"/><circle cx="1425.1" cy="1005.7" r="5.4"/><circle cx="1538.4" cy="1056.4" r="5.4"/><circle cx="1553.5" cy="1034.8" r="5.4"/><circle cx="1572.8" cy="968.8" r="5.4"/><circle cx="1572.8" cy="1002.9" r="5.4"/><circle cx="1568.2" cy="1016.4" r="5.4"/><circle cx="1583.9" cy="1015.1" r="5.4"/><circle cx="1576.1" cy="1023.6" r="5.4"/><circle cx="1577.4" cy="1027.5" r="5.4"/><circle cx="1309.8" cy="1013.7" r="5.4"/><circle cx="1380.6" cy="1029.6" r="5.4"/><circle cx="1284.1" cy="1044.0" r="5.4"/><circle cx="1331.1" cy="1006.3" r="5.4"/><circle cx="1384.8" cy="1066.8" r="5.4"/><circle cx="1285.4" cy="1072.5" r="5.4"/><circle cx="1315.3" cy="1063.1" r="5.4"/><circle cx="1283.2" cy="1035.6" r="5.4"/><circle cx="1374.4" cy="1037.7" r="5.4"/><circle cx="1381.4" cy="1065.6" r="5.4"/><circle cx="1423.3" cy="1053.0" r="5.4"/><circle cx="1291.4" cy="1064.9" r="5.4"/><circle cx="1334.9" cy="1058.0" r="5.4"/><circle cx="1381.4" cy="1076.8" r="5.4"/><circle cx="1363.9" cy="1011.3" r="5.4"/><circle cx="1331.8" cy="1050.2" r="5.4"/><circle cx="1360.6" cy="1007.7" r="5.4"/><circle cx="1405.0" cy="1046.1" r="5.4"/><circle cx="1361.7" cy="1008.8" r="5.4"/><circle cx="1346.8" cy="1015.2" r="5.4"/><circle cx="1319.4" cy="1022.5" r="5.4"/><circle cx="1366.8" cy="1025.5" r="5.4"/><circle cx="1336.0" cy="1027.5" r="5.4"/><circle cx="1267.1" cy="1058.5" r="5.4"/><circle cx="1420.6" cy="1012.0" r="5.4"/><circle cx="1277.0" cy="1061.9" r="5.4"/><circle cx="1395.8" cy="1065.2" r="5.4"/><circle cx="1368.6" cy="991.0" r="5.4"/><circle cx="1340.4" cy="1018.0" r="5.4"/><circle cx="1358.3" cy="1051.4" r="5.4"/><circle cx="1312.8" cy="1065.6" r="5.4"/><circle cx="1278.2" cy="1038.3" r="5.4"/><circle cx="1408.3" cy="1004.8" r="5.4"/><circle cx="1401.5" cy="1046.4" r="5.4"/><circle cx="1299.5" cy="1078.5" r="5.4"/><circle cx="1350.0" cy="1009.2" r="5.4"/><circle cx="1383.3" cy="1020.1" r="5.4"/><circle cx="1363.9" cy="1029.8" r="5.4"/><circle cx="1340.9" cy="1012.3" r="5.4"/><circle cx="1370.3" cy="1063.8" r="5.4"/><circle cx="1366.4" cy="1034.5" r="5.4"/><circle cx="1325.4" cy="1057.7" r="5.4"/><circle cx="1388.0" cy="1017.2" r="5.4"/><circle cx="1313.8" cy="1006.2" r="5.4"/><circle cx="1414.1" cy="1055.8" r="5.4"/><circle cx="1361.5" cy="995.4" r="5.4"/><circle cx="1409.3" cy="1002.8" r="5.4"/><circle cx="1349.9" cy="1081.6" r="5.4"/><circle cx="1323.3" cy="1034.0" r="5.4"/><circle cx="1426.2" cy="1018.0" r="5.4"/><circle cx="1339.9" cy="1026.4" r="5.4"/><circle cx="1332.0" cy="1031.4" r="5.4"/><circle cx="1267.7" cy="1049.1" r="5.4"/><circle cx="1362.8" cy="1050.2" r="5.4"/><circle cx="1290.5" cy="1028.6" r="5.4"/><circle cx="1323.8" cy="1058.5" r="5.4"/><circle cx="1334.2" cy="1026.7" r="5.4"/><circle cx="1405.3" cy="1055.0" r="5.4"/><circle cx="1280.0" cy="1042.2" r="5.4"/><circle cx="1300.0" cy="1015.3" r="5.4"/><circle cx="1368.0" cy="1074.6" r="5.4"/><circle cx="1323.5" cy="1040.4" r="5.4"/><circle cx="1274.3" cy="1065.5" r="5.4"/><circle cx="1291.0" cy="1028.1" r="5.4"/><circle cx="1308.7" cy="1040.1" r="5.4"/><circle cx="1313.1" cy="1035.0" r="5.4"/><circle cx="1337.9" cy="1049.5" r="5.4"/><circle cx="1381.4" cy="1041.3" r="5.4"/><circle cx="1395.0" cy="1034.1" r="5.4"/><circle cx="1274.1" cy="1028.1" r="5.4"/><circle cx="1390.4" cy="1033.4" r="5.4"/><circle cx="1339.7" cy="1036.1" r="5.4"/><circle cx="1289.2" cy="1064.8" r="5.4"/><circle cx="1368.1" cy="1073.8" r="5.4"/><circle cx="1386.5" cy="1003.1" r="5.4"/><circle cx="1290.0" cy="1032.8" r="5.4"/><circle cx="1326.0" cy="1005.2" r="5.4"/><circle cx="1351.5" cy="1007.3" r="5.4"/><circle cx="1274.0" cy="1037.2" r="5.4"/><circle cx="1295.4" cy="1039.3" r="5.4"/><circle cx="1426.8" cy="1033.4" r="5.4"/><circle cx="1297.5" cy="1045.7" r="5.4"/><circle cx="1317.2" cy="999.9" r="5.4"/><circle cx="1370.8" cy="1031.7" r="5.4"/><circle cx="1428.1" cy="1026.7" r="5.4"/><circle cx="1287.4" cy="1020.6" r="5.4"/><circle cx="1344.5" cy="1017.3" r="5.4"/><circle cx="1334.8" cy="1058.7" r="5.4"/><circle cx="1394.7" cy="1047.3" r="5.4"/><circle cx="1345.1" cy="999.8" r="5.4"/><circle cx="1377.7" cy="1011.5" r="5.4"/><circle cx="1410.4" cy="1015.8" r="5.4"/><circle cx="1341.8" cy="1032.7" r="5.4"/><circle cx="1395.5" cy="1030.0" r="5.4"/><circle cx="1322.4" cy="1046.9" r="5.4"/><circle cx="1360.5" cy="1072.4" r="5.4"/><circle cx="1333.0" cy="1058.9" r="5.4"/><circle cx="1412.8" cy="1059.4" r="5.4"/><circle cx="1361.9" cy="1004.6" r="5.4"/><circle cx="1341.2" cy="1074.9" r="5.4"/><circle cx="1364.6" cy="1014.9" r="5.4"/><circle cx="1390.9" cy="1015.7" r="5.4"/><circle cx="1353.3" cy="1026.7" r="5.4"/><circle cx="1315.9" cy="1042.1" r="5.4"/><circle cx="1399.6" cy="1046.7" r="5.4"/><circle cx="1295.7" cy="1049.0" r="5.4"/><circle cx="1414.6" cy="1040.2" r="5.4"/><circle cx="1408.7" cy="1041.9" r="5.4"/><circle cx="1268.4" cy="1016.2" r="5.4"/><circle cx="1374.5" cy="1069.5" r="5.4"/><circle cx="1298.2" cy="1075.1" r="5.4"/><circle cx="1384.0" cy="997.3" r="5.4"/><circle cx="1338.3" cy="1076.9" r="5.4"/><circle cx="1339.1" cy="1074.5" r="5.4"/><circle cx="1297.1" cy="1075.3" r="5.4"/><circle cx="1382.9" cy="991.0" r="5.4"/><circle cx="1279.0" cy="1061.8" r="5.4"/><circle cx="1407.6" cy="1025.3" r="5.4"/><circle cx="1291.4" cy="1039.1" r="5.4"/><circle cx="1277.6" cy="1056.0" r="5.4"/><circle cx="1331.8" cy="996.9" r="5.4"/><circle cx="1287.3" cy="1079.0" r="5.4"/><circle cx="1417.7" cy="1041.7" r="5.4"/><circle cx="1350.9" cy="1046.9" r="5.4"/><circle cx="1395.0" cy="1008.1" r="5.4"/><circle cx="1338.6" cy="1028.0" r="5.4"/><circle cx="1372.8" cy="997.3" r="5.4"/><circle cx="1355.6" cy="1010.6" r="5.4"/><circle cx="1317.0" cy="1009.4" r="5.4"/><circle cx="1306.0" cy="1056.1" r="5.4"/><circle cx="1272.6" cy="1050.2" r="5.4"/><circle cx="1351.9" cy="993.2" r="5.4"/><circle cx="1426.7" cy="1036.7" r="5.4"/><circle cx="1270.3" cy="1042.5" r="5.4"/><circle cx="1328.1" cy="998.9" r="5.4"/><circle cx="1383.3" cy="1034.0" r="5.4"/><circle cx="1298.6" cy="1046.5" r="5.4"/><circle cx="1294.2" cy="1054.1" r="5.4"/><circle cx="1345.5" cy="1069.9" r="5.4"/><circle cx="1389.9" cy="994.5" r="5.4"/><circle cx="1354.7" cy="1024.0" r="5.4"/><circle cx="1344.3" cy="1062.4" r="5.4"/><circle cx="1261.7" cy="1051.4" r="5.4"/><circle cx="1349.8" cy="1052.9" r="5.4"/><circle cx="1287.9" cy="1009.0" r="5.4"/><circle cx="1420.0" cy="1015.0" r="5.4"/><circle cx="1353.6" cy="1011.9" r="5.4"/><circle cx="1276.4" cy="1074.5" r="5.4"/><circle cx="1371.3" cy="1075.7" r="5.4"/><circle cx="1371.3" cy="1060.1" r="5.4"/><circle cx="1275.9" cy="1073.1" r="5.4"/><circle cx="1318.7" cy="1047.9" r="5.4"/><circle cx="1421.3" cy="1005.4" r="5.4"/><circle cx="1285.1" cy="1061.9" r="5.4"/><circle cx="1423.4" cy="1029.3" r="5.4"/><circle cx="1433.4" cy="1019.6" r="5.4"/><circle cx="1289.5" cy="1074.1" r="5.4"/><circle cx="1375.7" cy="1018.5" r="5.4"/><circle cx="1267.5" cy="1018.1" r="5.4"/><circle cx="1370.0" cy="1045.2" r="5.4"/><circle cx="1308.6" cy="1030.0" r="5.4"/><circle cx="1319.9" cy="996.0" r="5.4"/><circle cx="1373.0" cy="1042.2" r="5.4"/><circle cx="1331.3" cy="1064.8" r="5.4"/><circle cx="1369.9" cy="1079.6" r="5.4"/><circle cx="1300.2" cy="1018.4" r="5.4"/><circle cx="1345.0" cy="1002.0" r="5.4"/><circle cx="1362.0" cy="1027.7" r="5.4"/><circle cx="1390.1" cy="1068.6" r="5.4"/><circle cx="1397.9" cy="1063.6" r="5.4"/><circle cx="1303.3" cy="1013.8" r="5.4"/><circle cx="1281.9" cy="1048.6" r="5.4"/><circle cx="1302.1" cy="1040.1" r="5.4"/><circle cx="1353.6" cy="1028.3" r="5.4"/><circle cx="1400.8" cy="1008.6" r="5.4"/><circle cx="1392.9" cy="1029.7" r="5.4"/><circle cx="1419.0" cy="1003.8" r="5.4"/><circle cx="1300.6" cy="1021.1" r="5.4"/><circle cx="1297.1" cy="1018.8" r="5.4"/><circle cx="1327.9" cy="1065.8" r="5.4"/><circle cx="1382.3" cy="1066.4" r="5.4"/><circle cx="1357.0" cy="1017.4" r="5.4"/><circle cx="1370.4" cy="1009.3" r="5.4"/><circle cx="1314.4" cy="1045.3" r="5.4"/><circle cx="1342.0" cy="992.8" r="5.4"/><circle cx="1314.7" cy="1045.2" r="5.4"/><circle cx="1402.8" cy="1007.6" r="5.4"/><circle cx="1302.0" cy="1030.4" r="5.4"/><circle cx="1311.6" cy="1071.2" r="5.4"/><circle cx="1357.6" cy="1010.1" r="5.4"/><circle cx="1346.6" cy="1040.2" r="5.4"/><circle cx="1307.4" cy="1048.0" r="5.4"/><circle cx="1395.9" cy="1010.0" r="5.4"/><circle cx="1313.2" cy="1003.7" r="5.4"/><circle cx="1316.6" cy="1066.3" r="5.4"/><circle cx="1328.7" cy="998.2" r="5.4"/><circle cx="1290.0" cy="1039.6" r="5.4"/><circle cx="1280.0" cy="1058.3" r="5.4"/><circle cx="1313.5" cy="1035.8" r="5.4"/><circle cx="1332.9" cy="1025.6" r="5.4"/><circle cx="1287.6" cy="1074.4" r="5.4"/><circle cx="1273.2" cy="1066.6" r="5.4"/><circle cx="1316.2" cy="996.6" r="5.4"/><circle cx="1271.1" cy="1076.3" r="5.4"/><circle cx="1329.5" cy="992.1" r="5.4"/><circle cx="1385.2" cy="1070.1" r="5.4"/><circle cx="1332.5" cy="1085.4" r="5.4"/><circle cx="1364.0" cy="992.8" r="5.4"/><circle cx="1372.8" cy="1074.0" r="5.4"/><circle cx="1292.1" cy="1082.6" r="5.4"/><circle cx="1401.2" cy="1059.4" r="5.4"/><circle cx="1345.0" cy="1082.6" r="5.4"/><circle cx="1292.2" cy="1001.2" r="5.4"/><circle cx="1424.3" cy="1010.4" r="5.4"/><circle cx="1263.7" cy="1039.7" r="5.4"/><circle cx="1295.2" cy="1081.5" r="5.4"/><circle cx="1423.6" cy="1005.8" r="5.4"/><circle cx="1420.4" cy="1053.3" r="5.4"/><circle cx="1307.3" cy="992.8" r="5.4"/><circle cx="1422.8" cy="1053.0" r="5.4"/><circle cx="1431.6" cy="1032.4" r="5.4"/><circle cx="1259.5" cy="1054.0" r="5.4"/><circle cx="1328.3" cy="1081.0" r="5.4"/><circle cx="1426.4" cy="1006.1" r="5.4"/><circle cx="1406.3" cy="1064.2" r="5.4"/><circle cx="1385.9" cy="990.2" r="5.4"/><circle cx="1391.6" cy="995.0" r="5.4"/><circle cx="1372.3" cy="989.1" r="5.4"/><circle cx="1326.5" cy="990.1" r="5.4"/><circle cx="1346.6" cy="1080.4" r="5.4"/><circle cx="1319.8" cy="1080.8" r="5.4"/><circle cx="1436.7" cy="1023.3" r="5.4"/><circle cx="1372.1" cy="990.2" r="5.4"/><circle cx="1420.3" cy="1048.4" r="5.4"/><circle cx="1438.5" cy="1019.8" r="5.4"/><circle cx="1286.8" cy="1003.8" r="5.4"/><circle cx="1271.7" cy="1010.9" r="5.4"/><circle cx="1372.6" cy="995.3" r="5.4"/><circle cx="1304.5" cy="999.9" r="5.4"/><circle cx="1354.9" cy="1078.0" r="5.4"/><circle cx="1263.6" cy="1035.0" r="5.4"/><circle cx="1395.2" cy="992.2" r="5.4"/><circle cx="1308.5" cy="1081.8" r="5.4"/><circle cx="1391.8" cy="1071.4" r="5.4"/><circle cx="1258.2" cy="1045.0" r="5.4"/><circle cx="1330.9" cy="1082.3" r="5.4"/><circle cx="1384.0" cy="1069.6" r="5.4"/><circle cx="1436.1" cy="1023.6" r="5.4"/><circle cx="1292.4" cy="1078.9" r="5.4"/><circle cx="1383.9" cy="990.9" r="5.4"/><circle cx="1260.8" cy="1057.0" r="5.4"/><circle cx="1348.9" cy="1081.7" r="5.4"/><circle cx="1399.8" cy="994.7" r="5.4"/><circle cx="1359.8" cy="1075.9" r="5.4"/><circle cx="1425.4" cy="1055.3" r="5.4"/><circle cx="1390.2" cy="990.4" r="5.4"/><circle cx="1295.8" cy="1081.2" r="5.4"/><circle cx="1330.4" cy="992.6" r="5.4"/><circle cx="1268.3" cy="1037.0" r="5.4"/><circle cx="1410.5" cy="1000.2" r="5.4"/><circle cx="1300.3" cy="1077.9" r="5.4"/><circle cx="1369.0" cy="987.0" r="5.4"/><circle cx="1317.6" cy="1082.5" r="5.4"/><circle cx="1306.6" cy="1086.7" r="5.4"/><circle cx="1259.8" cy="1028.2" r="5.4"/><circle cx="1405.0" cy="1058.4" r="5.4"/><circle cx="1411.9" cy="1055.7" r="5.4"/><circle cx="1403.6" cy="1058.7" r="5.4"/><circle cx="1342.2" cy="1080.1" r="5.4"/><circle cx="1383.4" cy="989.5" r="5.4"/><circle cx="1308.2" cy="998.1" r="5.4"/><circle cx="1416.2" cy="1002.7" r="5.4"/><circle cx="1297.8" cy="1077.7" r="5.4"/><circle cx="1436.6" cy="1020.0" r="5.4"/><circle cx="1302.6" cy="1085.7" r="5.4"/><circle cx="1269.7" cy="1006.5" r="5.4"/><circle cx="1433.7" cy="1012.0" r="5.4"/><circle cx="1266.6" cy="1021.5" r="5.4"/><circle cx="1417.8" cy="1055.2" r="5.4"/><circle cx="1266.7" cy="1017.7" r="5.4"/><circle cx="1356.2" cy="1080.8" r="5.4"/><circle cx="1333.7" cy="1087.9" r="5.4"/><circle cx="1331.5" cy="1086.5" r="5.4"/><circle cx="1429.2" cy="1039.2" r="5.4"/><circle cx="1407.2" cy="1061.0" r="5.4"/><circle cx="1378.6" cy="1071.7" r="5.4"/><circle cx="1302.7" cy="994.9" r="5.4"/><circle cx="1325.8" cy="1081.6" r="5.4"/><circle cx="1313.1" cy="1088.1" r="5.4"/><circle cx="1262.4" cy="1039.2" r="5.4"/></g>
<polygon points="1276.7,1019.1 1286.8,1008.3 1304.9,1004.1 1320.1,1002.1 1334.0,1001.9 1346.8,1004.8 1359.9,999.5 1374.1,999.8 1389.4,1002.0 1405.6,1004.5 1417.9,1011.5 1424.0,1022.6 1421.7,1037.6 1413.4,1050.5 1396.8,1057.0 1385.2,1063.5 1370.6,1069.5 1353.4,1071.9 1336.7,1076.2 1319.0,1075.7 1300.0,1073.6 1284.0,1069.1 1274.0,1060.1 1272.5,1041.3 1274.7,1028.3" fill="#1f74b0" fill-opacity="0.96" stroke="#1f74b0" stroke-opacity="0.6" stroke-width="8" stroke-linejoin="round"/>
<line x1="1121.3" y1="1256.7" x2="1627.6" y2="749.5" stroke="#005a10" stroke-opacity="0.6" stroke-width="1.4" clip-path="url(#cD)"/>
<rect x="1135.4" y="764.9" width="330.0" height="48.9" rx="6" fill="#fff" fill-opacity="0.8" stroke="#cccccc" stroke-width="1.3"/>
<line x1="1146.5" y1="787" x2="1202.2" y2="787" stroke="#d0242c" stroke-width="2.85" stroke-dasharray="10.5 4.6"/>
<text x="1227" y="797.6" font-size="29">y = 0.4 x +87.3</text>
<rect x="1121.3" y="748.9" width="506.3" height="507.8" fill="none" stroke="#000" stroke-width="1.7"/>
<path d="M1121.3 1256.7v8M1290.1 1256.7v8M1458.8 1256.7v8M1627.6 1256.7v8M1121.3 1256.7h-8M1121.3 1172.2h-8M1121.3 1087.6h-8M1121.3 1003.1h-8M1121.3 918.6h-8M1121.3 834.0h-8M1121.3 749.5h-8" stroke="#000" stroke-width="1.7"/>
<text x="1121.3" y="1283.7" font-size="18" text-anchor="middle">0</text>
<text x="1290.1" y="1283.7" font-size="18" text-anchor="middle">100</text>
<text x="1458.8" y="1283.7" font-size="18" text-anchor="middle">200</text>
<text x="1627.6" y="1283.7" font-size="18" text-anchor="middle">300</text>
<text x="1108.8" y="1263.3" font-size="18" text-anchor="end">0</text>
<text x="1108.8" y="1178.7" font-size="18" text-anchor="end">50</text>
<text x="1108.8" y="1094.2" font-size="18" text-anchor="end">100</text>
<text x="1108.8" y="1009.7" font-size="18" text-anchor="end">150</text>
<text x="1108.8" y="925.1" font-size="18" text-anchor="end">200</text>
<text x="1108.8" y="840.6" font-size="18" text-anchor="end">250</text>
<text x="1108.8" y="756.1" font-size="18" text-anchor="end">300</text>
<text x="1374.4" y="738.5" font-size="29.6" text-anchor="middle">LVEDV (r=0.17)</text>
<text x="1374.4" y="1319.7" font-size="29.6" text-anchor="middle">Ground Truth</text>
<text x="1059.0" y="1007.3" font-size="28.9" text-anchor="middle" transform="rotate(-90 1059.0 1007.3)">Predicted</text>
<clipPath id="cE"><rect x="301.3" y="1419.5" width="680.7" height="506.8"/></clipPath>
<path d="M407.9 1419.5V1926.3M599.3 1419.5V1926.3M790.6 1419.5V1926.3M982.0 1419.5V1926.3M301.3 1917.4H982.0M301.3 1841.0H982.0M301.3 1764.7H982.0M301.3 1688.3H982.0M301.3 1611.9H982.0M301.3 1535.6H982.0M301.3 1459.2H982.0" stroke="#a8a8a8" stroke-width="1.2" fill="none"/>
<g clip-path="url(#cE)" fill="#1f77b4" fill-opacity="0.62" stroke="#1b6aa2" stroke-opacity="0.8" stroke-width="1.3"><circle cx="351.0" cy="1443.2" r="4.6"/><circle cx="387.9" cy="1493.7" r="4.6"/><circle cx="437.0" cy="1501.8" r="4.6"/><circle cx="536.4" cy="1499.5" r="4.6"/><circle cx="493.5" cy="1507.5" r="4.6"/><circle cx="602.0" cy="1503.4" r="4.6"/><circle cx="367.2" cy="1513.2" r="4.6"/><circle cx="418.2" cy="1514.2" r="4.6"/><circle cx="410.2" cy="1518.3" r="4.6"/><circle cx="443.9" cy="1522.4" r="4.6"/><circle cx="386.1" cy="1526.8" r="4.6"/><circle cx="335.6" cy="1532.5" r="4.6"/><circle cx="351.0" cy="1530.9" r="4.6"/><circle cx="427.8" cy="1533.7" r="4.6"/><circle cx="490.5" cy="1529.3" r="4.6"/><circle cx="535.9" cy="1524.5" r="4.6"/><circle cx="572.0" cy="1532.5" r="4.6"/><circle cx="584.1" cy="1539.6" r="4.6"/><circle cx="404.4" cy="1540.1" r="4.6"/><circle cx="446.9" cy="1540.5" r="4.6"/><circle cx="502.0" cy="1540.5" r="4.6"/><circle cx="526.1" cy="1543.5" r="4.6"/><circle cx="476.7" cy="1548.6" r="4.6"/><circle cx="495.1" cy="1548.1" r="4.6"/><circle cx="570.4" cy="1551.6" r="4.6"/><circle cx="630.5" cy="1548.6" r="4.6"/><circle cx="636.7" cy="1561.9" r="4.6"/><circle cx="390.7" cy="1555.7" r="4.6"/><circle cx="402.1" cy="1553.9" r="4.6"/><circle cx="414.3" cy="1553.4" r="4.6"/><circle cx="421.0" cy="1559.6" r="4.6"/><circle cx="401.0" cy="1563.7" r="4.6"/><circle cx="390.7" cy="1567.2" r="4.6"/><circle cx="413.6" cy="1567.6" r="4.6"/><circle cx="414.8" cy="1571.1" r="4.6"/><circle cx="442.3" cy="1553.9" r="4.6"/><circle cx="451.5" cy="1550.4" r="4.6"/><circle cx="453.8" cy="1553.9" r="4.6"/><circle cx="451.5" cy="1558.4" r="4.6"/><circle cx="457.7" cy="1567.6" r="4.6"/><circle cx="496.2" cy="1552.7" r="4.6"/><circle cx="499.7" cy="1553.9" r="4.6"/><circle cx="507.7" cy="1558.4" r="4.6"/><circle cx="516.9" cy="1556.8" r="4.6"/><circle cx="490.5" cy="1559.6" r="4.6"/><circle cx="530.7" cy="1560.7" r="4.6"/><circle cx="538.7" cy="1566.5" r="4.6"/><circle cx="558.2" cy="1565.3" r="4.6"/><circle cx="578.9" cy="1567.6" r="4.6"/><circle cx="594.9" cy="1569.5" r="4.6"/><circle cx="588.0" cy="1577.3" r="4.6"/><circle cx="620.2" cy="1567.6" r="4.6"/><circle cx="629.4" cy="1573.4" r="4.6"/><circle cx="623.6" cy="1574.5" r="4.6"/><circle cx="647.7" cy="1575.7" r="4.6"/><circle cx="522.2" cy="1574.5" r="4.6"/><circle cx="528.4" cy="1572.2" r="4.6"/><circle cx="536.4" cy="1573.4" r="4.6"/><circle cx="485.9" cy="1569.9" r="4.6"/><circle cx="488.2" cy="1574.5" r="4.6"/><circle cx="469.8" cy="1574.5" r="4.6"/><circle cx="471.0" cy="1580.3" r="4.6"/><circle cx="554.8" cy="1573.4" r="4.6"/><circle cx="557.1" cy="1578.0" r="4.6"/><circle cx="566.2" cy="1579.8" r="4.6"/><circle cx="550.2" cy="1583.7" r="4.6"/><circle cx="543.3" cy="1587.6" r="4.6"/><circle cx="557.1" cy="1587.1" r="4.6"/><circle cx="577.7" cy="1585.3" r="4.6"/><circle cx="599.5" cy="1585.3" r="4.6"/><circle cx="617.9" cy="1586.0" r="4.6"/><circle cx="627.1" cy="1581.4" r="4.6"/><circle cx="379.2" cy="1588.3" r="4.6"/><circle cx="434.7" cy="1583.0" r="4.6"/><circle cx="442.3" cy="1589.4" r="4.6"/><circle cx="440.0" cy="1596.3" r="4.6"/><circle cx="456.1" cy="1583.7" r="4.6"/><circle cx="454.9" cy="1588.3" r="4.6"/><circle cx="476.7" cy="1591.3" r="4.6"/><circle cx="497.4" cy="1586.7" r="4.6"/><circle cx="502.0" cy="1592.9" r="4.6"/><circle cx="510.0" cy="1587.1" r="4.6"/><circle cx="518.0" cy="1586.0" r="4.6"/><circle cx="514.6" cy="1591.7" r="4.6"/><circle cx="492.8" cy="1597.9" r="4.6"/><circle cx="555.9" cy="1598.6" r="4.6"/><circle cx="566.2" cy="1597.5" r="4.6"/><circle cx="554.8" cy="1605.5" r="4.6"/><circle cx="582.3" cy="1600.9" r="4.6"/><circle cx="577.7" cy="1602.1" r="4.6"/><circle cx="600.7" cy="1596.3" r="4.6"/><circle cx="607.6" cy="1597.9" r="4.6"/><circle cx="615.6" cy="1606.6" r="4.6"/><circle cx="623.6" cy="1610.1" r="4.6"/><circle cx="630.5" cy="1610.1" r="4.6"/><circle cx="644.3" cy="1610.1" r="4.6"/><circle cx="430.8" cy="1608.9" r="4.6"/><circle cx="443.4" cy="1605.5" r="4.6"/><circle cx="449.2" cy="1611.2" r="4.6"/><circle cx="460.7" cy="1605.5" r="4.6"/><circle cx="465.3" cy="1617.0" r="4.6"/><circle cx="473.3" cy="1605.5" r="4.6"/><circle cx="475.6" cy="1612.4" r="4.6"/><circle cx="475.6" cy="1619.3" r="4.6"/><circle cx="482.5" cy="1607.8" r="4.6"/><circle cx="492.8" cy="1608.9" r="4.6"/><circle cx="506.6" cy="1605.5" r="4.6"/><circle cx="514.6" cy="1606.6" r="4.6"/><circle cx="522.6" cy="1607.8" r="4.6"/><circle cx="531.8" cy="1605.5" r="4.6"/><circle cx="539.8" cy="1608.9" r="4.6"/><circle cx="558.2" cy="1612.4" r="4.6"/><circle cx="570.8" cy="1615.8" r="4.6"/><circle cx="582.3" cy="1617.0" r="4.6"/><circle cx="590.3" cy="1614.7" r="4.6"/><circle cx="596.1" cy="1617.0" r="4.6"/><circle cx="427.4" cy="1618.1" r="4.6"/><circle cx="425.8" cy="1628.4" r="4.6"/><circle cx="461.8" cy="1634.9" r="4.6"/><circle cx="476.7" cy="1631.9" r="4.6"/><circle cx="488.2" cy="1617.0" r="4.6"/><circle cx="487.1" cy="1622.7" r="4.6"/><circle cx="495.1" cy="1623.9" r="4.6"/><circle cx="492.8" cy="1630.7" r="4.6"/><circle cx="504.3" cy="1617.0" r="4.6"/><circle cx="507.7" cy="1630.7" r="4.6"/><circle cx="520.3" cy="1623.9" r="4.6"/><circle cx="538.7" cy="1623.9" r="4.6"/><circle cx="545.6" cy="1628.4" r="4.6"/><circle cx="552.5" cy="1629.6" r="4.6"/><circle cx="561.6" cy="1628.4" r="4.6"/><circle cx="573.1" cy="1626.2" r="4.6"/><circle cx="580.0" cy="1625.0" r="4.6"/><circle cx="586.9" cy="1630.7" r="4.6"/><circle cx="593.8" cy="1628.4" r="4.6"/><circle cx="609.8" cy="1619.3" r="4.6"/><circle cx="612.1" cy="1626.2" r="4.6"/><circle cx="619.0" cy="1633.0" r="4.6"/><circle cx="635.1" cy="1630.7" r="4.6"/><circle cx="644.3" cy="1628.4" r="4.6"/><circle cx="648.9" cy="1635.3" r="4.6"/><circle cx="584.6" cy="1637.6" r="4.6"/><circle cx="490.5" cy="1641.1" r="4.6"/><circle cx="495.1" cy="1644.5" r="4.6"/><circle cx="520.3" cy="1649.1" r="4.6"/><circle cx="527.2" cy="1639.9" r="4.6"/><circle cx="531.8" cy="1644.5" r="4.6"/><circle cx="543.3" cy="1637.6" r="4.6"/><circle cx="538.7" cy="1649.1" r="4.6"/><circle cx="554.8" cy="1642.2" r="4.6"/><circle cx="563.9" cy="1644.5" r="4.6"/><circle cx="570.8" cy="1646.8" r="4.6"/><circle cx="607.6" cy="1639.9" r="4.6"/><circle cx="614.4" cy="1637.6" r="4.6"/><circle cx="623.6" cy="1644.5" r="4.6"/><circle cx="637.4" cy="1649.1" r="4.6"/><circle cx="644.3" cy="1644.5" r="4.6"/><circle cx="333.3" cy="1654.8" r="4.6"/><circle cx="378.0" cy="1652.5" r="4.6"/><circle cx="397.5" cy="1646.8" r="4.6"/><circle cx="416.6" cy="1668.6" r="4.6"/><circle cx="489.4" cy="1651.4" r="4.6"/><circle cx="503.1" cy="1650.3" r="4.6"/><circle cx="481.3" cy="1660.6" r="4.6"/><circle cx="490.5" cy="1667.5" r="4.6"/><circle cx="520.3" cy="1661.7" r="4.6"/><circle cx="529.5" cy="1658.3" r="4.6"/><circle cx="534.1" cy="1669.8" r="4.6"/><circle cx="554.8" cy="1654.8" r="4.6"/><circle cx="563.9" cy="1662.9" r="4.6"/><circle cx="568.5" cy="1674.4" r="4.6"/><circle cx="591.5" cy="1654.8" r="4.6"/><circle cx="593.8" cy="1672.1" r="4.6"/><circle cx="609.8" cy="1667.5" r="4.6"/><circle cx="612.1" cy="1676.6" r="4.6"/><circle cx="621.3" cy="1676.6" r="4.6"/><circle cx="632.8" cy="1662.9" r="4.6"/><circle cx="639.7" cy="1669.8" r="4.6"/><circle cx="644.3" cy="1676.6" r="4.6"/><circle cx="441.2" cy="1697.9" r="4.6"/><circle cx="518.0" cy="1696.5" r="4.6"/><circle cx="546.7" cy="1701.1" r="4.6"/><circle cx="566.2" cy="1699.5" r="4.6"/><circle cx="570.8" cy="1693.8" r="4.6"/><circle cx="575.4" cy="1689.2" r="4.6"/><circle cx="580.0" cy="1686.9" r="4.6"/><circle cx="584.6" cy="1691.5" r="4.6"/><circle cx="591.5" cy="1697.2" r="4.6"/><circle cx="596.1" cy="1707.5" r="4.6"/><circle cx="581.2" cy="1709.8" r="4.6"/><circle cx="590.3" cy="1717.9" r="4.6"/><circle cx="598.4" cy="1723.6" r="4.6"/><circle cx="600.7" cy="1729.3" r="4.6"/><circle cx="608.7" cy="1728.2" r="4.6"/><circle cx="605.3" cy="1709.8" r="4.6"/><circle cx="607.6" cy="1700.7" r="4.6"/><circle cx="616.7" cy="1709.8" r="4.6"/><circle cx="623.6" cy="1709.8" r="4.6"/><circle cx="628.2" cy="1720.2" r="4.6"/><circle cx="632.8" cy="1723.6" r="4.6"/><circle cx="637.4" cy="1731.6" r="4.6"/><circle cx="643.1" cy="1735.1" r="4.6"/><circle cx="643.1" cy="1719.0" r="4.6"/><circle cx="636.2" cy="1694.9" r="4.6"/><circle cx="646.6" cy="1703.0" r="4.6"/><circle cx="646.6" cy="1689.2" r="4.6"/><circle cx="609.8" cy="1747.7" r="4.6"/><circle cx="614.4" cy="1746.6" r="4.6"/><circle cx="612.1" cy="1760.3" r="4.6"/><circle cx="615.6" cy="1764.9" r="4.6"/><circle cx="603.0" cy="1764.9" r="4.6"/><circle cx="540.3" cy="1732.3" r="4.6"/><circle cx="556.6" cy="1732.3" r="4.6"/><circle cx="569.0" cy="1739.2" r="4.6"/><circle cx="563.5" cy="1751.6" r="4.6"/><circle cx="497.8" cy="1743.1" r="4.6"/><circle cx="529.5" cy="1685.7" r="4.6"/><circle cx="807.5" cy="1543.1" r="4.6"/><circle cx="664.8" cy="1580.9" r="4.6"/><circle cx="681.3" cy="1577.5" r="4.6"/><circle cx="671.7" cy="1591.3" r="4.6"/><circle cx="692.3" cy="1593.6" r="4.6"/><circle cx="770.4" cy="1593.6" r="4.6"/><circle cx="669.8" cy="1606.6" r="4.6"/><circle cx="665.2" cy="1614.7" r="4.6"/><circle cx="658.4" cy="1624.3" r="4.6"/><circle cx="668.7" cy="1628.4" r="4.6"/><circle cx="674.4" cy="1631.9" r="4.6"/><circle cx="692.3" cy="1635.8" r="4.6"/><circle cx="706.6" cy="1629.6" r="4.6"/><circle cx="708.9" cy="1637.6" r="4.6"/><circle cx="714.6" cy="1633.0" r="4.6"/><circle cx="731.8" cy="1621.1" r="4.6"/><circle cx="746.7" cy="1631.9" r="4.6"/><circle cx="733.6" cy="1640.4" r="4.6"/><circle cx="719.9" cy="1647.3" r="4.6"/><circle cx="745.6" cy="1647.3" r="4.6"/><circle cx="751.3" cy="1653.7" r="4.6"/><circle cx="766.2" cy="1644.1" r="4.6"/><circle cx="796.1" cy="1640.4" r="4.6"/><circle cx="803.4" cy="1657.8" r="4.6"/><circle cx="693.9" cy="1653.7" r="4.6"/><circle cx="653.8" cy="1635.3" r="4.6"/><circle cx="653.8" cy="1644.5" r="4.6"/><circle cx="663.0" cy="1644.5" r="4.6"/><circle cx="669.8" cy="1646.8" r="4.6"/><circle cx="676.7" cy="1644.5" r="4.6"/><circle cx="658.4" cy="1653.7" r="4.6"/><circle cx="667.5" cy="1656.0" r="4.6"/><circle cx="680.2" cy="1658.3" r="4.6"/><circle cx="653.8" cy="1662.9" r="4.6"/><circle cx="663.0" cy="1665.2" r="4.6"/><circle cx="672.1" cy="1667.5" r="4.6"/><circle cx="681.3" cy="1667.5" r="4.6"/><circle cx="690.5" cy="1669.8" r="4.6"/><circle cx="699.7" cy="1667.5" r="4.6"/><circle cx="708.9" cy="1667.5" r="4.6"/><circle cx="715.7" cy="1665.2" r="4.6"/><circle cx="722.6" cy="1662.9" r="4.6"/><circle cx="729.5" cy="1667.5" r="4.6"/><circle cx="746.7" cy="1664.0" r="4.6"/><circle cx="688.2" cy="1676.6" r="4.6"/><circle cx="703.1" cy="1681.2" r="4.6"/><circle cx="720.3" cy="1676.6" r="4.6"/><circle cx="731.8" cy="1681.2" r="4.6"/><circle cx="737.5" cy="1678.9" r="4.6"/><circle cx="768.5" cy="1682.4" r="4.6"/><circle cx="777.7" cy="1676.6" r="4.6"/><circle cx="852.3" cy="1678.9" r="4.6"/><circle cx="663.0" cy="1678.9" r="4.6"/><circle cx="674.4" cy="1678.9" r="4.6"/><circle cx="652.6" cy="1694.9" r="4.6"/><circle cx="665.2" cy="1692.6" r="4.6"/><circle cx="676.7" cy="1703.0" r="4.6"/><circle cx="676.7" cy="1708.7" r="4.6"/><circle cx="656.1" cy="1712.1" r="4.6"/><circle cx="663.0" cy="1722.5" r="4.6"/><circle cx="652.6" cy="1729.3" r="4.6"/><circle cx="674.4" cy="1717.9" r="4.6"/><circle cx="681.3" cy="1721.3" r="4.6"/><circle cx="689.3" cy="1715.6" r="4.6"/><circle cx="697.4" cy="1714.4" r="4.6"/><circle cx="698.5" cy="1724.8" r="4.6"/><circle cx="680.2" cy="1729.3" r="4.6"/><circle cx="665.2" cy="1738.5" r="4.6"/><circle cx="672.1" cy="1736.2" r="4.6"/><circle cx="682.5" cy="1746.6" r="4.6"/><circle cx="689.3" cy="1747.7" r="4.6"/><circle cx="667.5" cy="1753.0" r="4.6"/><circle cx="679.0" cy="1763.8" r="4.6"/><circle cx="688.2" cy="1763.8" r="4.6"/><circle cx="703.1" cy="1762.6" r="4.6"/><circle cx="653.8" cy="1769.1" r="4.6"/><circle cx="667.5" cy="1777.5" r="4.6"/><circle cx="663.0" cy="1786.0" r="4.6"/><circle cx="703.1" cy="1776.4" r="4.6"/><circle cx="692.8" cy="1786.7" r="4.6"/><circle cx="706.6" cy="1788.3" r="4.6"/><circle cx="700.8" cy="1794.8" r="4.6"/><circle cx="688.2" cy="1803.9" r="4.6"/><circle cx="699.2" cy="1807.4" r="4.6"/><circle cx="682.5" cy="1691.5" r="4.6"/><circle cx="689.3" cy="1690.3" r="4.6"/><circle cx="706.6" cy="1698.4" r="4.6"/><circle cx="708.9" cy="1703.0" r="4.6"/><circle cx="715.7" cy="1700.7" r="4.6"/><circle cx="718.0" cy="1693.8" r="4.6"/><circle cx="731.8" cy="1692.6" r="4.6"/><circle cx="731.8" cy="1700.7" r="4.6"/><circle cx="743.3" cy="1696.5" r="4.6"/><circle cx="754.8" cy="1696.5" r="4.6"/><circle cx="765.1" cy="1699.5" r="4.6"/><circle cx="767.4" cy="1693.8" r="4.6"/><circle cx="763.9" cy="1685.7" r="4.6"/><circle cx="782.3" cy="1693.8" r="4.6"/><circle cx="799.5" cy="1704.8" r="4.6"/><circle cx="805.3" cy="1693.8" r="4.6"/><circle cx="812.1" cy="1694.9" r="4.6"/><circle cx="830.5" cy="1700.7" r="4.6"/><circle cx="824.8" cy="1709.8" r="4.6"/><circle cx="822.5" cy="1716.7" r="4.6"/><circle cx="832.8" cy="1719.0" r="4.6"/><circle cx="821.3" cy="1725.4" r="4.6"/><circle cx="820.2" cy="1739.2" r="4.6"/><circle cx="827.1" cy="1739.2" r="4.6"/><circle cx="806.4" cy="1747.7" r="4.6"/><circle cx="814.4" cy="1753.4" r="4.6"/><circle cx="821.3" cy="1751.1" r="4.6"/><circle cx="828.2" cy="1759.2" r="4.6"/><circle cx="814.4" cy="1761.5" r="4.6"/><circle cx="827.1" cy="1767.9" r="4.6"/><circle cx="816.7" cy="1777.5" r="4.6"/><circle cx="823.6" cy="1793.6" r="4.6"/><circle cx="836.2" cy="1793.6" r="4.6"/><circle cx="801.8" cy="1795.9" r="4.6"/><circle cx="797.2" cy="1766.8" r="4.6"/><circle cx="786.9" cy="1763.8" r="4.6"/><circle cx="775.4" cy="1762.6" r="4.6"/><circle cx="770.8" cy="1755.7" r="4.6"/><circle cx="758.2" cy="1755.7" r="4.6"/><circle cx="754.8" cy="1743.1" r="4.6"/><circle cx="750.2" cy="1766.1" r="4.6"/><circle cx="741.4" cy="1740.8" r="4.6"/><circle cx="723.8" cy="1746.6" r="4.6"/><circle cx="728.4" cy="1746.6" r="4.6"/><circle cx="711.1" cy="1721.3" r="4.6"/><circle cx="724.9" cy="1716.7" r="4.6"/><circle cx="734.1" cy="1714.4" r="4.6"/><circle cx="733.0" cy="1725.9" r="4.6"/><circle cx="745.6" cy="1712.1" r="4.6"/><circle cx="749.0" cy="1719.0" r="4.6"/><circle cx="751.3" cy="1728.2" r="4.6"/><circle cx="759.3" cy="1720.2" r="4.6"/><circle cx="759.3" cy="1731.0" r="4.6"/><circle cx="773.1" cy="1716.7" r="4.6"/><circle cx="777.7" cy="1723.6" r="4.6"/><circle cx="784.6" cy="1727.1" r="4.6"/><circle cx="792.6" cy="1737.4" r="4.6"/><circle cx="767.4" cy="1801.2" r="4.6"/><circle cx="748.3" cy="1805.8" r="4.6"/><circle cx="762.3" cy="1810.4" r="4.6"/><circle cx="739.2" cy="1824.1" r="4.6"/><circle cx="751.3" cy="1843.4" r="4.6"/><circle cx="785.3" cy="1828.0" r="4.6"/><circle cx="840.4" cy="1821.8" r="4.6"/><circle cx="864.2" cy="1815.9" r="4.6"/><circle cx="828.2" cy="1838.8" r="4.6"/><circle cx="864.2" cy="1843.0" r="4.6"/><circle cx="807.5" cy="1863.6" r="4.6"/><circle cx="816.7" cy="1873.9" r="4.6"/><circle cx="867.9" cy="1879.2" r="4.6"/><circle cx="850.0" cy="1903.8" r="4.6"/><circle cx="853.0" cy="1777.5" r="4.6"/><circle cx="869.5" cy="1783.3" r="4.6"/><circle cx="873.6" cy="1769.1" r="4.6"/><circle cx="880.5" cy="1756.9" r="4.6"/><circle cx="895.9" cy="1754.1" r="4.6"/><circle cx="905.3" cy="1777.5" r="4.6"/><circle cx="934.0" cy="1770.7" r="4.6"/><circle cx="925.7" cy="1822.8" r="4.6"/><circle cx="951.5" cy="1876.2" r="4.6"/><circle cx="950.5" cy="1888.4" r="4.6"/><circle cx="607.9" cy="1660.9" r="4.6"/><circle cx="558.7" cy="1658.3" r="4.6"/><circle cx="578.8" cy="1681.8" r="4.6"/><circle cx="635.6" cy="1669.4" r="4.6"/><circle cx="504.6" cy="1650.6" r="4.6"/><circle cx="585.2" cy="1679.1" r="4.6"/><circle cx="570.2" cy="1655.1" r="4.6"/><circle cx="603.0" cy="1607.5" r="4.6"/><circle cx="502.6" cy="1623.0" r="4.6"/><circle cx="493.0" cy="1653.7" r="4.6"/><circle cx="579.4" cy="1641.0" r="4.6"/><circle cx="486.5" cy="1646.7" r="4.6"/><circle cx="496.9" cy="1659.3" r="4.6"/><circle cx="493.8" cy="1652.4" r="4.6"/><circle cx="587.9" cy="1652.8" r="4.6"/><circle cx="534.3" cy="1648.5" r="4.6"/><circle cx="556.4" cy="1672.6" r="4.6"/><circle cx="498.9" cy="1633.1" r="4.6"/><circle cx="558.0" cy="1653.8" r="4.6"/><circle cx="634.8" cy="1627.1" r="4.6"/><circle cx="542.0" cy="1660.5" r="4.6"/><circle cx="519.5" cy="1645.9" r="4.6"/><circle cx="537.8" cy="1656.1" r="4.6"/><circle cx="580.8" cy="1661.7" r="4.6"/><circle cx="555.9" cy="1621.0" r="4.6"/><circle cx="487.4" cy="1654.1" r="4.6"/><circle cx="546.9" cy="1624.7" r="4.6"/><circle cx="597.7" cy="1626.8" r="4.6"/><circle cx="545.7" cy="1665.2" r="4.6"/><circle cx="596.2" cy="1614.5" r="4.6"/><circle cx="581.8" cy="1684.0" r="4.6"/><circle cx="517.9" cy="1636.2" r="4.6"/><circle cx="503.8" cy="1650.9" r="4.6"/><circle cx="604.2" cy="1661.9" r="4.6"/><circle cx="536.2" cy="1666.7" r="4.6"/><circle cx="571.3" cy="1648.5" r="4.6"/><circle cx="508.7" cy="1634.4" r="4.6"/><circle cx="620.7" cy="1661.3" r="4.6"/><circle cx="594.5" cy="1661.3" r="4.6"/><circle cx="540.5" cy="1616.8" r="4.6"/><circle cx="680.1" cy="1658.5" r="4.6"/><circle cx="698.5" cy="1678.8" r="4.6"/><circle cx="676.1" cy="1652.1" r="4.6"/><circle cx="643.1" cy="1670.6" r="4.6"/><circle cx="666.9" cy="1691.4" r="4.6"/><circle cx="664.3" cy="1692.6" r="4.6"/><circle cx="666.1" cy="1660.8" r="4.6"/><circle cx="668.7" cy="1691.0" r="4.6"/><circle cx="655.4" cy="1665.2" r="4.6"/><circle cx="650.5" cy="1673.4" r="4.6"/><circle cx="643.9" cy="1672.8" r="4.6"/><circle cx="693.2" cy="1665.8" r="4.6"/><circle cx="684.8" cy="1692.1" r="4.6"/><circle cx="676.3" cy="1686.0" r="4.6"/><circle cx="677.9" cy="1696.5" r="4.6"/><circle cx="686.7" cy="1671.0" r="4.6"/><circle cx="657.5" cy="1657.8" r="4.6"/><circle cx="670.7" cy="1661.5" r="4.6"/><circle cx="654.1" cy="1694.1" r="4.6"/><circle cx="682.0" cy="1677.0" r="4.6"/><circle cx="690.6" cy="1676.3" r="4.6"/><circle cx="663.7" cy="1684.3" r="4.6"/><circle cx="676.5" cy="1660.4" r="4.6"/><circle cx="659.1" cy="1678.0" r="4.6"/><circle cx="698.8" cy="1680.8" r="4.6"/><circle cx="501.8" cy="1662.9" r="4.6"/><circle cx="536.2" cy="1654.1" r="4.6"/><circle cx="518.4" cy="1609.9" r="4.6"/><circle cx="586.3" cy="1618.0" r="4.6"/><circle cx="526.1" cy="1651.9" r="4.6"/><circle cx="560.0" cy="1648.4" r="4.6"/><circle cx="535.3" cy="1678.2" r="4.6"/><circle cx="492.2" cy="1646.9" r="4.6"/><circle cx="500.9" cy="1620.1" r="4.6"/><circle cx="514.6" cy="1664.3" r="4.6"/><circle cx="557.0" cy="1619.8" r="4.6"/><circle cx="550.3" cy="1631.5" r="4.6"/><circle cx="551.6" cy="1611.4" r="4.6"/><circle cx="526.1" cy="1631.3" r="4.6"/><circle cx="559.0" cy="1608.6" r="4.6"/><circle cx="503.5" cy="1646.7" r="4.6"/><circle cx="489.8" cy="1627.9" r="4.6"/><circle cx="514.7" cy="1614.2" r="4.6"/><circle cx="517.9" cy="1600.6" r="4.6"/><circle cx="580.5" cy="1649.3" r="4.6"/><circle cx="577.6" cy="1659.6" r="4.6"/><circle cx="534.6" cy="1630.0" r="4.6"/><circle cx="505.5" cy="1662.9" r="4.6"/><circle cx="486.4" cy="1634.8" r="4.6"/><circle cx="549.3" cy="1590.8" r="4.6"/><circle cx="591.6" cy="1622.2" r="4.6"/><circle cx="538.7" cy="1604.5" r="4.6"/><circle cx="529.9" cy="1630.7" r="4.6"/><circle cx="560.3" cy="1593.2" r="4.6"/><circle cx="534.1" cy="1634.0" r="4.6"/><circle cx="612.9" cy="1643.6" r="4.6"/><circle cx="572.9" cy="1629.6" r="4.6"/><circle cx="544.1" cy="1678.4" r="4.6"/><circle cx="561.4" cy="1672.5" r="4.6"/><circle cx="556.5" cy="1664.0" r="4.6"/><circle cx="729.8" cy="1674.7" r="4.6"/><circle cx="646.0" cy="1724.6" r="4.6"/><circle cx="646.0" cy="1710.5" r="4.6"/><circle cx="620.2" cy="1684.0" r="4.6"/><circle cx="654.2" cy="1664.8" r="4.6"/><circle cx="703.7" cy="1681.9" r="4.6"/><circle cx="687.4" cy="1716.1" r="4.6"/><circle cx="705.1" cy="1651.6" r="4.6"/><circle cx="625.8" cy="1720.2" r="4.6"/><circle cx="684.8" cy="1693.1" r="4.6"/><circle cx="617.7" cy="1652.3" r="4.6"/><circle cx="626.8" cy="1669.3" r="4.6"/><circle cx="685.0" cy="1673.5" r="4.6"/><circle cx="705.2" cy="1678.8" r="4.6"/><circle cx="677.4" cy="1725.7" r="4.6"/><circle cx="597.2" cy="1697.3" r="4.6"/><circle cx="715.2" cy="1656.2" r="4.6"/><circle cx="727.5" cy="1657.3" r="4.6"/><circle cx="662.5" cy="1675.6" r="4.6"/><circle cx="687.3" cy="1697.1" r="4.6"/><circle cx="679.5" cy="1722.7" r="4.6"/><circle cx="618.7" cy="1680.0" r="4.6"/><circle cx="752.4" cy="1697.1" r="4.6"/><circle cx="676.2" cy="1682.3" r="4.6"/><circle cx="758.4" cy="1682.4" r="4.6"/><circle cx="729.7" cy="1683.5" r="4.6"/><circle cx="662.4" cy="1709.3" r="4.6"/><circle cx="759.4" cy="1686.2" r="4.6"/><circle cx="602.6" cy="1707.3" r="4.6"/><circle cx="700.2" cy="1653.5" r="4.6"/><circle cx="625.6" cy="1685.2" r="4.6"/><circle cx="733.5" cy="1669.8" r="4.6"/><circle cx="608.1" cy="1705.6" r="4.6"/><circle cx="725.0" cy="1702.5" r="4.6"/><circle cx="684.3" cy="1653.5" r="4.6"/></g>
<line x1="301.3" y1="1611.9" x2="982.0" y2="1611.9" stroke="#222" stroke-width="2.83" stroke-dasharray="2.83 4.67" clip-path="url(#cE)"/>
<line x1="301.3" y1="1661.1" x2="982.0" y2="1661.1" stroke="#d42a2e" stroke-width="3.8" stroke-dasharray="14.06 6.08" clip-path="url(#cE)"/>
<line x1="301.3" y1="1521.2" x2="982.0" y2="1521.2" stroke="#1616a8" stroke-width="3.8" stroke-dasharray="24.32 6.08 3.80 6.08" clip-path="url(#cE)"/>
<line x1="301.3" y1="1800.9" x2="982.0" y2="1800.9" stroke="#1616a8" stroke-width="3.8" stroke-dasharray="24.32 6.08 3.80 6.08" clip-path="url(#cE)"/>
<rect x="317.0" y="1779.7" width="326.6" height="131.7" rx="6" fill="#fff" fill-opacity="0.8" stroke="#cccccc" stroke-width="1.3"/>
<line x1="326.9" y1="1801.6" x2="386.9" y2="1801.6" stroke="#d42a2e" stroke-width="3.8" stroke-dasharray="14.06 6.08"/>
<text x="406" y="1812.0" font-size="28.6">Bias: -6.44 gr</text>
<line x1="326.9" y1="1843.3" x2="386.9" y2="1843.3" stroke="#1616a8" stroke-width="3.8" stroke-dasharray="24.32 6.08 3.80 6.08"/>
<text x="406" y="1853.7" font-size="28.6">1.96SD: 11.88</text>
<line x1="326.9" y1="1885.9" x2="386.9" y2="1885.9" stroke="#1616a8" stroke-width="3.8" stroke-dasharray="24.32 6.08 3.80 6.08"/>
<text x="406" y="1896.3" font-size="28.6">-1.96SD: -24.75</text>
<rect x="301.3" y="1419.5" width="680.7" height="506.8" fill="none" stroke="#000" stroke-width="1.7"/>
<path d="M407.9 1926.3v8M599.3 1926.3v8M790.6 1926.3v8M982.0 1926.3v8M301.3 1917.4h-8M301.3 1841.0h-8M301.3 1764.7h-8M301.3 1688.3h-8M301.3 1611.9h-8M301.3 1535.6h-8M301.3 1459.2h-8" stroke="#000" stroke-width="1.7"/>
<text x="407.9" y="1961.3" font-size="29.5" text-anchor="middle">40</text>
<text x="599.3" y="1961.3" font-size="29.5" text-anchor="middle">50</text>
<text x="790.6" y="1961.3" font-size="29.5" text-anchor="middle">60</text>
<text x="982.0" y="1961.3" font-size="29.5" text-anchor="middle">70</text>
<text x="291.6" y="1928.2" font-size="29.5" text-anchor="end">−40</text>
<text x="291.6" y="1851.8" font-size="29.5" text-anchor="end">−30</text>
<text x="291.6" y="1775.4" font-size="29.5" text-anchor="end">−20</text>
<text x="291.6" y="1699.1" font-size="29.5" text-anchor="end">−10</text>
<text x="291.6" y="1622.7" font-size="29.5" text-anchor="end">0</text>
<text x="291.6" y="1546.3" font-size="29.5" text-anchor="end">10</text>
<text x="291.6" y="1470.0" font-size="29.5" text-anchor="end">20</text>
<text x="641.6" y="1409.0" font-size="29.2" text-anchor="middle">Bland-Altman Plot - LVM</text>
<text x="641.6" y="1996.0" font-size="29.2" text-anchor="middle">Mean</text>
<text x="213.5" y="1672.9" font-size="28.7" text-anchor="middle" transform="rotate(-90 213.5 1672.9)">Difference [Predicted - GT]</text>
<clipPath id="cF"><rect x="1141.0" y="1426.2" width="508.3" height="507.8"/></clipPath>
<path d="M1141.0 1426.2V1934.0M1268.0 1426.2V1934.0M1395.0 1426.2V1934.0M1522.0 1426.2V1934.0M1649.0 1426.2V1934.0M1141.0 1934.0H1649.3M1141.0 1870.5H1649.3M1141.0 1807.0H1649.3M1141.0 1743.6H1649.3M1141.0 1680.1H1649.3M1141.0 1616.6H1649.3M1141.0 1553.2H1649.3M1141.0 1489.7H1649.3M1141.0 1426.2H1649.3" stroke="#a8a8a8" stroke-width="1.2" fill="none"/>
<line x1="1141.0" y1="1889.8" x2="1649.0" y2="1469.4" stroke="#d0242c" stroke-width="2.85" stroke-dasharray="10.5 4.6" clip-path="url(#cF)"/>
<g clip-path="url(#cF)" fill="#1f77b4" fill-opacity="0.62" stroke="#1b6aa2" stroke-opacity="0.8" stroke-width="1.3"><circle cx="1194.8" cy="1712.1" r="5.4"/><circle cx="1230.8" cy="1667.9" r="5.4"/><circle cx="1284.3" cy="1628.5" r="5.4"/><circle cx="1273.4" cy="1662.0" r="5.4"/><circle cx="1267.5" cy="1670.8" r="5.4"/><circle cx="1255.7" cy="1681.6" r="5.4"/><circle cx="1265.6" cy="1686.6" r="5.4"/><circle cx="1276.4" cy="1688.5" r="5.4"/><circle cx="1284.3" cy="1681.6" r="5.4"/><circle cx="1258.1" cy="1707.8" r="5.4"/><circle cx="1273.4" cy="1704.7" r="5.4"/><circle cx="1284.3" cy="1707.2" r="5.4"/><circle cx="1285.3" cy="1718.0" r="5.4"/><circle cx="1296.1" cy="1717.1" r="5.4"/><circle cx="1300.4" cy="1727.5" r="5.4"/><circle cx="1311.8" cy="1736.7" r="5.4"/><circle cx="1314.8" cy="1721.0" r="5.4"/><circle cx="1349.2" cy="1735.7" r="5.4"/><circle cx="1374.8" cy="1740.7" r="5.4"/><circle cx="1362.6" cy="1759.0" r="5.4"/><circle cx="1390.1" cy="1760.3" r="5.4"/><circle cx="1397.4" cy="1722.0" r="5.4"/><circle cx="1408.2" cy="1722.0" r="5.4"/><circle cx="1423.0" cy="1729.8" r="5.4"/><circle cx="1425.9" cy="1719.0" r="5.4"/><circle cx="1437.7" cy="1723.0" r="5.4"/><circle cx="1448.5" cy="1711.2" r="5.4"/><circle cx="1463.3" cy="1707.2" r="5.4"/><circle cx="1316.7" cy="1634.4" r="5.4"/><circle cx="1317.7" cy="1642.3" r="5.4"/><circle cx="1331.5" cy="1645.2" r="5.4"/><circle cx="1342.3" cy="1603.0" r="5.4"/><circle cx="1350.2" cy="1608.9" r="5.4"/><circle cx="1362.6" cy="1602.0" r="5.4"/><circle cx="1352.1" cy="1623.6" r="5.4"/><circle cx="1343.3" cy="1635.4" r="5.4"/><circle cx="1392.5" cy="1614.8" r="5.4"/><circle cx="1417.1" cy="1607.9" r="5.4"/><circle cx="1430.8" cy="1615.7" r="5.4"/><circle cx="1445.6" cy="1615.7" r="5.4"/><circle cx="1452.5" cy="1605.9" r="5.4"/><circle cx="1409.2" cy="1621.6" r="5.4"/><circle cx="1382.6" cy="1625.6" r="5.4"/><circle cx="1296.1" cy="1656.1" r="5.4"/><circle cx="1303.9" cy="1653.1" r="5.4"/><circle cx="1493.9" cy="1596.4" r="5.4"/><circle cx="1544.5" cy="1613.5" r="5.4"/><circle cx="1544.5" cy="1627.1" r="5.4"/><circle cx="1511.3" cy="1626.3" r="5.4"/><circle cx="1521.5" cy="1624.6" r="5.4"/><circle cx="1528.3" cy="1622.9" r="5.4"/><circle cx="1530.0" cy="1628.0" r="5.4"/><circle cx="1533.5" cy="1643.3" r="5.4"/><circle cx="1540.3" cy="1650.1" r="5.4"/><circle cx="1545.4" cy="1651.8" r="5.4"/><circle cx="1544.5" cy="1664.6" r="5.4"/><circle cx="1565.5" cy="1639.1" r="5.4"/><circle cx="1590.1" cy="1655.3" r="5.4"/><circle cx="1566.7" cy="1666.3" r="5.4"/><circle cx="1570.1" cy="1679.1" r="5.4"/><circle cx="1539.4" cy="1681.7" r="5.4"/><circle cx="1519.0" cy="1682.5" r="5.4"/><circle cx="1507.0" cy="1638.2" r="5.4"/><circle cx="1513.0" cy="1641.6" r="5.4"/><circle cx="1502.8" cy="1657.0" r="5.4"/><circle cx="1507.9" cy="1658.7" r="5.4"/><circle cx="1516.4" cy="1655.3" r="5.4"/><circle cx="1524.9" cy="1662.1" r="5.4"/><circle cx="1530.0" cy="1672.3" r="5.4"/><circle cx="1547.9" cy="1702.7" r="5.4"/><circle cx="1516.4" cy="1716.3" r="5.4"/><circle cx="1514.7" cy="1730.3" r="5.4"/><circle cx="1499.4" cy="1707.8" r="5.4"/><circle cx="1491.7" cy="1630.5" r="5.4"/><circle cx="1490.8" cy="1641.6" r="5.4"/><circle cx="1492.5" cy="1650.1" r="5.4"/><circle cx="1497.6" cy="1672.3" r="5.4"/><circle cx="1489.1" cy="1689.4" r="5.4"/><circle cx="1499.4" cy="1692.8" r="5.4"/><circle cx="1482.3" cy="1701.3" r="5.4"/><circle cx="1321.2" cy="1703.6" r="5.4"/><circle cx="1400.9" cy="1716.8" r="5.4"/><circle cx="1405.8" cy="1643.5" r="5.4"/><circle cx="1310.3" cy="1693.2" r="5.4"/><circle cx="1353.4" cy="1713.5" r="5.4"/><circle cx="1497.5" cy="1668.8" r="5.4"/><circle cx="1372.5" cy="1716.3" r="5.4"/><circle cx="1350.4" cy="1715.5" r="5.4"/><circle cx="1495.3" cy="1644.6" r="5.4"/><circle cx="1375.2" cy="1701.4" r="5.4"/><circle cx="1342.2" cy="1694.3" r="5.4"/><circle cx="1414.9" cy="1700.9" r="5.4"/><circle cx="1344.9" cy="1696.0" r="5.4"/><circle cx="1329.1" cy="1649.5" r="5.4"/><circle cx="1349.1" cy="1668.8" r="5.4"/><circle cx="1298.8" cy="1701.7" r="5.4"/><circle cx="1356.0" cy="1664.9" r="5.4"/><circle cx="1495.6" cy="1658.8" r="5.4"/><circle cx="1332.3" cy="1709.0" r="5.4"/><circle cx="1336.8" cy="1687.1" r="5.4"/><circle cx="1420.1" cy="1638.1" r="5.4"/><circle cx="1460.3" cy="1689.1" r="5.4"/><circle cx="1310.4" cy="1699.3" r="5.4"/><circle cx="1369.3" cy="1657.5" r="5.4"/><circle cx="1450.0" cy="1625.3" r="5.4"/><circle cx="1456.9" cy="1682.6" r="5.4"/><circle cx="1442.9" cy="1702.4" r="5.4"/><circle cx="1350.8" cy="1679.9" r="5.4"/><circle cx="1403.6" cy="1698.1" r="5.4"/><circle cx="1465.9" cy="1660.3" r="5.4"/><circle cx="1408.7" cy="1685.7" r="5.4"/><circle cx="1320.2" cy="1715.7" r="5.4"/><circle cx="1412.2" cy="1634.8" r="5.4"/><circle cx="1353.6" cy="1637.2" r="5.4"/><circle cx="1348.1" cy="1680.1" r="5.4"/><circle cx="1371.7" cy="1692.1" r="5.4"/><circle cx="1416.1" cy="1680.5" r="5.4"/><circle cx="1381.5" cy="1704.1" r="5.4"/><circle cx="1314.6" cy="1696.2" r="5.4"/><circle cx="1456.5" cy="1673.3" r="5.4"/><circle cx="1318.7" cy="1656.5" r="5.4"/><circle cx="1390.9" cy="1690.4" r="5.4"/><circle cx="1368.0" cy="1674.9" r="5.4"/><circle cx="1448.9" cy="1694.0" r="5.4"/><circle cx="1345.8" cy="1642.9" r="5.4"/><circle cx="1413.3" cy="1711.4" r="5.4"/><circle cx="1447.9" cy="1648.8" r="5.4"/><circle cx="1346.7" cy="1677.3" r="5.4"/><circle cx="1490.3" cy="1652.0" r="5.4"/><circle cx="1316.5" cy="1655.1" r="5.4"/><circle cx="1356.6" cy="1715.3" r="5.4"/><circle cx="1432.9" cy="1697.7" r="5.4"/><circle cx="1383.3" cy="1679.9" r="5.4"/><circle cx="1450.2" cy="1625.3" r="5.4"/><circle cx="1299.3" cy="1694.8" r="5.4"/><circle cx="1441.9" cy="1694.6" r="5.4"/><circle cx="1423.8" cy="1654.2" r="5.4"/><circle cx="1377.2" cy="1651.2" r="5.4"/><circle cx="1373.2" cy="1654.3" r="5.4"/><circle cx="1488.6" cy="1673.8" r="5.4"/><circle cx="1477.7" cy="1632.4" r="5.4"/><circle cx="1428.5" cy="1667.6" r="5.4"/><circle cx="1388.8" cy="1715.8" r="5.4"/><circle cx="1362.5" cy="1634.8" r="5.4"/><circle cx="1358.0" cy="1720.2" r="5.4"/><circle cx="1412.0" cy="1655.5" r="5.4"/><circle cx="1468.8" cy="1665.5" r="5.4"/><circle cx="1432.9" cy="1698.3" r="5.4"/><circle cx="1351.0" cy="1711.1" r="5.4"/><circle cx="1369.5" cy="1695.8" r="5.4"/><circle cx="1303.1" cy="1666.4" r="5.4"/><circle cx="1445.5" cy="1645.6" r="5.4"/><circle cx="1406.5" cy="1682.9" r="5.4"/><circle cx="1435.1" cy="1680.8" r="5.4"/><circle cx="1386.0" cy="1655.3" r="5.4"/><circle cx="1406.7" cy="1632.2" r="5.4"/><circle cx="1348.3" cy="1715.4" r="5.4"/><circle cx="1315.3" cy="1672.6" r="5.4"/><circle cx="1345.1" cy="1666.7" r="5.4"/><circle cx="1357.0" cy="1646.5" r="5.4"/><circle cx="1358.9" cy="1715.8" r="5.4"/><circle cx="1470.6" cy="1679.9" r="5.4"/><circle cx="1411.3" cy="1669.3" r="5.4"/><circle cx="1440.0" cy="1706.0" r="5.4"/><circle cx="1385.4" cy="1702.9" r="5.4"/><circle cx="1452.6" cy="1630.6" r="5.4"/><circle cx="1344.0" cy="1655.4" r="5.4"/><circle cx="1371.0" cy="1701.1" r="5.4"/><circle cx="1327.3" cy="1647.0" r="5.4"/><circle cx="1392.3" cy="1709.2" r="5.4"/><circle cx="1387.9" cy="1703.9" r="5.4"/><circle cx="1361.9" cy="1663.8" r="5.4"/><circle cx="1393.1" cy="1638.6" r="5.4"/><circle cx="1362.1" cy="1656.5" r="5.4"/><circle cx="1414.2" cy="1635.6" r="5.4"/><circle cx="1454.1" cy="1700.7" r="5.4"/><circle cx="1436.7" cy="1653.5" r="5.4"/><circle cx="1473.9" cy="1657.2" r="5.4"/><circle cx="1361.9" cy="1639.4" r="5.4"/><circle cx="1299.7" cy="1689.8" r="5.4"/><circle cx="1391.3" cy="1645.5" r="5.4"/><circle cx="1370.0" cy="1668.1" r="5.4"/><circle cx="1345.5" cy="1647.7" r="5.4"/><circle cx="1325.7" cy="1674.3" r="5.4"/><circle cx="1492.4" cy="1671.6" r="5.4"/><circle cx="1411.2" cy="1679.9" r="5.4"/><circle cx="1345.8" cy="1712.7" r="5.4"/><circle cx="1362.6" cy="1711.1" r="5.4"/><circle cx="1327.3" cy="1698.6" r="5.4"/><circle cx="1445.9" cy="1688.8" r="5.4"/><circle cx="1362.0" cy="1690.4" r="5.4"/><circle cx="1424.2" cy="1697.8" r="5.4"/><circle cx="1376.1" cy="1688.1" r="5.4"/><circle cx="1392.8" cy="1696.2" r="5.4"/><circle cx="1292.4" cy="1681.0" r="5.4"/><circle cx="1461.5" cy="1672.7" r="5.4"/><circle cx="1379.2" cy="1628.5" r="5.4"/><circle cx="1347.4" cy="1710.0" r="5.4"/><circle cx="1425.6" cy="1703.1" r="5.4"/><circle cx="1461.1" cy="1691.1" r="5.4"/><circle cx="1354.9" cy="1664.3" r="5.4"/><circle cx="1357.8" cy="1641.7" r="5.4"/><circle cx="1441.8" cy="1634.5" r="5.4"/><circle cx="1447.1" cy="1688.3" r="5.4"/><circle cx="1479.9" cy="1662.1" r="5.4"/><circle cx="1396.2" cy="1693.3" r="5.4"/><circle cx="1415.7" cy="1653.2" r="5.4"/><circle cx="1380.9" cy="1699.4" r="5.4"/><circle cx="1485.4" cy="1669.1" r="5.4"/><circle cx="1466.8" cy="1690.5" r="5.4"/><circle cx="1350.3" cy="1715.8" r="5.4"/><circle cx="1472.3" cy="1695.4" r="5.4"/><circle cx="1463.2" cy="1631.3" r="5.4"/><circle cx="1414.2" cy="1658.8" r="5.4"/><circle cx="1405.0" cy="1654.3" r="5.4"/><circle cx="1314.0" cy="1661.2" r="5.4"/><circle cx="1468.3" cy="1682.0" r="5.4"/><circle cx="1354.0" cy="1717.0" r="5.4"/><circle cx="1368.7" cy="1668.4" r="5.4"/><circle cx="1458.8" cy="1664.8" r="5.4"/><circle cx="1344.8" cy="1663.7" r="5.4"/><circle cx="1407.9" cy="1717.8" r="5.4"/><circle cx="1399.6" cy="1671.2" r="5.4"/><circle cx="1377.7" cy="1638.9" r="5.4"/><circle cx="1466.5" cy="1631.4" r="5.4"/><circle cx="1352.3" cy="1644.7" r="5.4"/><circle cx="1411.3" cy="1685.0" r="5.4"/><circle cx="1348.0" cy="1640.1" r="5.4"/><circle cx="1340.7" cy="1656.4" r="5.4"/><circle cx="1373.6" cy="1704.2" r="5.4"/><circle cx="1484.7" cy="1690.3" r="5.4"/><circle cx="1301.9" cy="1670.2" r="5.4"/><circle cx="1390.7" cy="1715.4" r="5.4"/><circle cx="1359.0" cy="1697.1" r="5.4"/><circle cx="1459.5" cy="1675.3" r="5.4"/><circle cx="1395.7" cy="1633.8" r="5.4"/><circle cx="1411.1" cy="1649.4" r="5.4"/><circle cx="1351.6" cy="1700.9" r="5.4"/><circle cx="1442.9" cy="1680.4" r="5.4"/><circle cx="1452.3" cy="1679.0" r="5.4"/><circle cx="1308.3" cy="1658.4" r="5.4"/><circle cx="1464.5" cy="1652.6" r="5.4"/><circle cx="1385.9" cy="1686.9" r="5.4"/><circle cx="1314.1" cy="1694.9" r="5.4"/><circle cx="1374.9" cy="1713.9" r="5.4"/><circle cx="1451.5" cy="1694.4" r="5.4"/><circle cx="1411.7" cy="1703.8" r="5.4"/><circle cx="1331.9" cy="1717.1" r="5.4"/><circle cx="1454.4" cy="1673.4" r="5.4"/><circle cx="1298.8" cy="1664.9" r="5.4"/><circle cx="1365.9" cy="1691.1" r="5.4"/><circle cx="1502.3" cy="1654.3" r="5.4"/><circle cx="1324.2" cy="1692.6" r="5.4"/><circle cx="1409.0" cy="1650.1" r="5.4"/><circle cx="1476.4" cy="1671.3" r="5.4"/><circle cx="1411.6" cy="1699.0" r="5.4"/><circle cx="1334.8" cy="1647.4" r="5.4"/><circle cx="1457.0" cy="1653.8" r="5.4"/><circle cx="1322.5" cy="1706.6" r="5.4"/><circle cx="1355.3" cy="1634.3" r="5.4"/><circle cx="1425.7" cy="1648.6" r="5.4"/><circle cx="1425.1" cy="1652.1" r="5.4"/><circle cx="1307.9" cy="1673.4" r="5.4"/><circle cx="1352.7" cy="1637.7" r="5.4"/><circle cx="1399.1" cy="1658.0" r="5.4"/><circle cx="1414.0" cy="1700.5" r="5.4"/><circle cx="1390.9" cy="1712.2" r="5.4"/><circle cx="1299.0" cy="1698.7" r="5.4"/><circle cx="1426.9" cy="1710.6" r="5.4"/><circle cx="1345.4" cy="1674.7" r="5.4"/><circle cx="1454.7" cy="1640.7" r="5.4"/><circle cx="1378.6" cy="1683.8" r="5.4"/><circle cx="1459.1" cy="1681.8" r="5.4"/><circle cx="1321.4" cy="1708.9" r="5.4"/><circle cx="1464.2" cy="1697.6" r="5.4"/><circle cx="1447.5" cy="1669.3" r="5.4"/><circle cx="1426.9" cy="1712.9" r="5.4"/><circle cx="1302.9" cy="1681.9" r="5.4"/><circle cx="1367.2" cy="1680.0" r="5.4"/><circle cx="1406.3" cy="1674.4" r="5.4"/><circle cx="1495.6" cy="1675.0" r="5.4"/><circle cx="1447.5" cy="1656.5" r="5.4"/><circle cx="1449.9" cy="1700.2" r="5.4"/><circle cx="1433.8" cy="1700.9" r="5.4"/><circle cx="1413.0" cy="1711.6" r="5.4"/><circle cx="1468.8" cy="1631.3" r="5.4"/><circle cx="1386.3" cy="1633.9" r="5.4"/><circle cx="1494.2" cy="1667.1" r="5.4"/><circle cx="1337.3" cy="1709.7" r="5.4"/><circle cx="1435.8" cy="1674.8" r="5.4"/><circle cx="1347.4" cy="1682.1" r="5.4"/><circle cx="1334.6" cy="1653.8" r="5.4"/><circle cx="1421.3" cy="1714.5" r="5.4"/><circle cx="1441.1" cy="1689.1" r="5.4"/><circle cx="1450.4" cy="1661.2" r="5.4"/><circle cx="1488.8" cy="1689.1" r="5.4"/><circle cx="1353.9" cy="1709.8" r="5.4"/><circle cx="1305.6" cy="1664.6" r="5.4"/><circle cx="1343.5" cy="1720.4" r="5.4"/><circle cx="1464.2" cy="1628.6" r="5.4"/><circle cx="1402.5" cy="1715.2" r="5.4"/><circle cx="1464.5" cy="1671.0" r="5.4"/><circle cx="1385.0" cy="1638.2" r="5.4"/><circle cx="1366.2" cy="1641.4" r="5.4"/><circle cx="1471.7" cy="1684.9" r="5.4"/><circle cx="1491.1" cy="1664.5" r="5.4"/><circle cx="1440.7" cy="1709.2" r="5.4"/><circle cx="1495.2" cy="1687.4" r="5.4"/><circle cx="1305.5" cy="1694.1" r="5.4"/><circle cx="1473.7" cy="1648.5" r="5.4"/><circle cx="1359.3" cy="1650.5" r="5.4"/><circle cx="1440.9" cy="1697.1" r="5.4"/><circle cx="1329.1" cy="1696.0" r="5.4"/><circle cx="1428.7" cy="1648.9" r="5.4"/><circle cx="1499.5" cy="1671.6" r="5.4"/><circle cx="1483.3" cy="1669.7" r="5.4"/><circle cx="1350.1" cy="1683.1" r="5.4"/><circle cx="1386.6" cy="1670.6" r="5.4"/><circle cx="1342.4" cy="1710.2" r="5.4"/><circle cx="1404.2" cy="1631.0" r="5.4"/><circle cx="1347.3" cy="1721.0" r="5.4"/><circle cx="1338.2" cy="1639.1" r="5.4"/><circle cx="1494.6" cy="1689.1" r="5.4"/><circle cx="1363.8" cy="1719.1" r="5.4"/><circle cx="1487.6" cy="1636.8" r="5.4"/><circle cx="1465.6" cy="1628.6" r="5.4"/><circle cx="1292.1" cy="1691.3" r="5.4"/><circle cx="1298.4" cy="1680.1" r="5.4"/><circle cx="1351.1" cy="1723.3" r="5.4"/><circle cx="1353.5" cy="1634.4" r="5.4"/><circle cx="1494.5" cy="1650.4" r="5.4"/><circle cx="1313.5" cy="1716.5" r="5.4"/><circle cx="1296.5" cy="1682.2" r="5.4"/><circle cx="1314.3" cy="1656.5" r="5.4"/><circle cx="1444.2" cy="1702.3" r="5.4"/><circle cx="1489.2" cy="1688.9" r="5.4"/><circle cx="1307.5" cy="1714.5" r="5.4"/><circle cx="1505.2" cy="1671.5" r="5.4"/><circle cx="1421.2" cy="1620.6" r="5.4"/><circle cx="1421.2" cy="1624.6" r="5.4"/><circle cx="1480.2" cy="1634.4" r="5.4"/><circle cx="1467.0" cy="1695.6" r="5.4"/><circle cx="1428.1" cy="1626.0" r="5.4"/><circle cx="1402.7" cy="1623.5" r="5.4"/><circle cx="1463.2" cy="1701.6" r="5.4"/><circle cx="1303.1" cy="1712.3" r="5.4"/><circle cx="1366.4" cy="1627.9" r="5.4"/><circle cx="1332.4" cy="1643.8" r="5.4"/><circle cx="1362.6" cy="1636.8" r="5.4"/><circle cx="1487.0" cy="1634.7" r="5.4"/><circle cx="1355.5" cy="1719.9" r="5.4"/><circle cx="1313.2" cy="1652.7" r="5.4"/><circle cx="1490.9" cy="1639.1" r="5.4"/><circle cx="1484.1" cy="1693.2" r="5.4"/><circle cx="1290.5" cy="1698.2" r="5.4"/><circle cx="1445.6" cy="1628.8" r="5.4"/><circle cx="1315.8" cy="1652.4" r="5.4"/><circle cx="1392.2" cy="1629.7" r="5.4"/><circle cx="1487.3" cy="1636.6" r="5.4"/><circle cx="1477.7" cy="1629.4" r="5.4"/><circle cx="1413.7" cy="1623.7" r="5.4"/><circle cx="1298.1" cy="1683.8" r="5.4"/><circle cx="1365.0" cy="1634.7" r="5.4"/><circle cx="1496.3" cy="1644.9" r="5.4"/><circle cx="1346.8" cy="1638.4" r="5.4"/><circle cx="1308.1" cy="1656.5" r="5.4"/><circle cx="1376.6" cy="1714.8" r="5.4"/><circle cx="1439.2" cy="1705.4" r="5.4"/><circle cx="1423.8" cy="1719.3" r="5.4"/><circle cx="1452.5" cy="1706.3" r="5.4"/><circle cx="1356.6" cy="1722.0" r="5.4"/><circle cx="1499.5" cy="1650.8" r="5.4"/><circle cx="1386.5" cy="1624.4" r="5.4"/><circle cx="1290.4" cy="1685.9" r="5.4"/><circle cx="1306.7" cy="1715.0" r="5.4"/><circle cx="1375.9" cy="1714.4" r="5.4"/><circle cx="1345.8" cy="1724.0" r="5.4"/><circle cx="1299.0" cy="1664.1" r="5.4"/><circle cx="1291.5" cy="1682.8" r="5.4"/><circle cx="1335.6" cy="1727.5" r="5.4"/><circle cx="1501.7" cy="1674.6" r="5.4"/><circle cx="1502.2" cy="1673.7" r="5.4"/><circle cx="1411.6" cy="1621.0" r="5.4"/><circle cx="1465.8" cy="1626.3" r="5.4"/><circle cx="1493.9" cy="1690.3" r="5.4"/><circle cx="1441.3" cy="1706.8" r="5.4"/><circle cx="1418.3" cy="1718.5" r="5.4"/><circle cx="1340.6" cy="1724.1" r="5.4"/><circle cx="1505.5" cy="1676.3" r="5.4"/><circle cx="1504.0" cy="1668.5" r="5.4"/><circle cx="1379.7" cy="1624.3" r="5.4"/><circle cx="1457.0" cy="1701.5" r="5.4"/><circle cx="1403.3" cy="1719.3" r="5.4"/><circle cx="1315.4" cy="1654.3" r="5.4"/><circle cx="1479.1" cy="1696.2" r="5.4"/><circle cx="1497.9" cy="1669.7" r="5.4"/><circle cx="1291.5" cy="1708.2" r="5.4"/><circle cx="1300.3" cy="1659.5" r="5.4"/><circle cx="1297.8" cy="1710.8" r="5.4"/><circle cx="1493.4" cy="1686.4" r="5.4"/><circle cx="1467.2" cy="1697.1" r="5.4"/><circle cx="1427.5" cy="1627.2" r="5.4"/><circle cx="1405.9" cy="1624.5" r="5.4"/><circle cx="1502.3" cy="1668.4" r="5.4"/><circle cx="1486.5" cy="1690.4" r="5.4"/><circle cx="1503.5" cy="1670.8" r="5.4"/><circle cx="1419.8" cy="1720.5" r="5.4"/><circle cx="1374.0" cy="1625.1" r="5.4"/><circle cx="1289.0" cy="1700.9" r="5.4"/><circle cx="1416.6" cy="1712.1" r="5.4"/></g>
<polygon points="1301.9,1691.0 1308.7,1660.6 1328.8,1655.1 1354.7,1644.7 1378.4,1638.0 1400.0,1636.5 1421.7,1632.2 1439.0,1633.7 1457.7,1635.1 1477.0,1640.0 1486.6,1648.7 1493.0,1660.7 1492.8,1678.7 1482.7,1687.6 1462.6,1692.9 1443.1,1697.3 1425.7,1703.9 1410.2,1708.3 1395.3,1705.0 1379.1,1707.1 1360.2,1715.3 1340.7,1719.9 1321.3,1714.9 1301.5,1706.4" fill="#1f74b0" fill-opacity="0.96" stroke="#1f74b0" stroke-opacity="0.6" stroke-width="8" stroke-linejoin="round"/>
<line x1="1141.0" y1="1934.0" x2="1649.0" y2="1426.2" stroke="#005a10" stroke-opacity="0.6" stroke-width="1.4" clip-path="url(#cF)"/>
<rect x="1155.1" y="1442.6" width="329.2" height="47.5" rx="6" fill="#fff" fill-opacity="0.8" stroke="#cccccc" stroke-width="1.3"/>
<line x1="1167" y1="1464.2" x2="1223.3" y2="1464.2" stroke="#d0242c" stroke-width="2.85" stroke-dasharray="10.5 4.6"/>
<text x="1247.8" y="1474.8" font-size="29">y = 0.8 x +17.0</text>
<rect x="1141.0" y="1426.2" width="508.3" height="507.8" fill="none" stroke="#000" stroke-width="1.7"/>
<path d="M1141.0 1934.0v8M1268.0 1934.0v8M1395.0 1934.0v8M1522.0 1934.0v8M1649.0 1934.0v8M1141.0 1934.0h-8M1141.0 1870.5h-8M1141.0 1807.0h-8M1141.0 1743.6h-8M1141.0 1680.1h-8M1141.0 1616.6h-8M1141.0 1553.2h-8M1141.0 1489.7h-8M1141.0 1426.2h-8" stroke="#000" stroke-width="1.7"/>
<text x="1141.0" y="1968.5" font-size="29.5" text-anchor="middle">0</text>
<text x="1268.0" y="1968.5" font-size="29.5" text-anchor="middle">50</text>
<text x="1395.0" y="1968.5" font-size="29.5" text-anchor="middle">100</text>
<text x="1522.0" y="1968.5" font-size="29.5" text-anchor="middle">150</text>
<text x="1649.0" y="1968.5" font-size="29.5" text-anchor="middle">200</text>
<text x="1128.6" y="1944.8" font-size="29.5" text-anchor="end">0</text>
<text x="1128.6" y="1881.3" font-size="29.5" text-anchor="end">25</text>
<text x="1128.6" y="1817.8" font-size="29.5" text-anchor="end">50</text>
<text x="1128.6" y="1754.3" font-size="29.5" text-anchor="end">75</text>
<text x="1128.6" y="1690.9" font-size="29.5" text-anchor="end">100</text>
<text x="1128.6" y="1627.4" font-size="29.5" text-anchor="end">125</text>
<text x="1128.6" y="1563.9" font-size="29.5" text-anchor="end">150</text>
<text x="1128.6" y="1500.4" font-size="29.5" text-anchor="end">175</text>
<text x="1128.6" y="1437.0" font-size="29.5" text-anchor="end">200</text>
<text x="1395.2" y="1415.5" font-size="29.6" text-anchor="middle">LVM (r=0.33)</text>
<text x="1395.2" y="2003.5" font-size="29.6" text-anchor="middle">Ground Truth</text>
<text x="1061.0" y="1684.6" font-size="28.9" text-anchor="middle" transform="rotate(-90 1061.0 1684.6)">Predicted</text>
<clipPath id="cG"><rect x="333.8" y="2093.0" width="680.8" height="507.0"/></clipPath>
<path d="M379.3 2093.0V2600.0M486.0 2093.0V2600.0M592.8 2093.0V2600.0M699.5 2093.0V2600.0M806.3 2093.0V2600.0M913.0 2093.0V2600.0M333.8 2529.3H1014.6M333.8 2452.0H1014.6M333.8 2374.8H1014.6M333.8 2297.5H1014.6M333.8 2220.3H1014.6M333.8 2143.0H1014.6" stroke="#a8a8a8" stroke-width="1.2" fill="none"/>
<g clip-path="url(#cG)" fill="#1f77b4" fill-opacity="0.62" stroke="#1b6aa2" stroke-opacity="0.8" stroke-width="1.3"><circle cx="451.6" cy="2116.4" r="4.6"/><circle cx="650.9" cy="2116.4" r="4.6"/><circle cx="441.3" cy="2138.2" r="4.6"/><circle cx="452.8" cy="2135.9" r="4.6"/><circle cx="428.7" cy="2146.2" r="4.6"/><circle cx="437.9" cy="2152.0" r="4.6"/><circle cx="442.5" cy="2150.8" r="4.6"/><circle cx="447.1" cy="2149.7" r="4.6"/><circle cx="451.6" cy="2146.2" r="4.6"/><circle cx="459.7" cy="2154.3" r="4.6"/><circle cx="365.6" cy="2157.7" r="4.6"/><circle cx="383.9" cy="2160.0" r="4.6"/><circle cx="385.1" cy="2165.7" r="4.6"/><circle cx="393.1" cy="2161.6" r="4.6"/><circle cx="395.4" cy="2179.5" r="4.6"/><circle cx="396.6" cy="2188.7" r="4.6"/><circle cx="386.2" cy="2196.0" r="4.6"/><circle cx="413.8" cy="2176.8" r="4.6"/><circle cx="414.9" cy="2191.0" r="4.6"/><circle cx="410.3" cy="2204.1" r="4.6"/><circle cx="423.0" cy="2197.9" r="4.6"/><circle cx="424.1" cy="2183.6" r="4.6"/><circle cx="432.1" cy="2188.7" r="4.6"/><circle cx="439.0" cy="2188.7" r="4.6"/><circle cx="445.9" cy="2172.2" r="4.6"/><circle cx="449.3" cy="2192.1" r="4.6"/><circle cx="439.0" cy="2201.3" r="4.6"/><circle cx="442.5" cy="2208.2" r="4.6"/><circle cx="447.1" cy="2210.5" r="4.6"/><circle cx="451.6" cy="2208.2" r="4.6"/><circle cx="403.4" cy="2218.5" r="4.6"/><circle cx="409.2" cy="2223.1" r="4.6"/><circle cx="417.2" cy="2227.3" r="4.6"/><circle cx="442.0" cy="2228.4" r="4.6"/><circle cx="452.8" cy="2226.6" r="4.6"/><circle cx="388.5" cy="2243.3" r="4.6"/><circle cx="395.4" cy="2243.3" r="4.6"/><circle cx="437.9" cy="2243.3" r="4.6"/><circle cx="444.8" cy="2253.0" r="4.6"/><circle cx="449.3" cy="2248.4" r="4.6"/><circle cx="432.6" cy="2259.2" r="4.6"/><circle cx="455.1" cy="2261.0" r="4.6"/><circle cx="455.1" cy="2267.9" r="4.6"/><circle cx="437.9" cy="2275.9" r="4.6"/><circle cx="436.7" cy="2282.8" r="4.6"/><circle cx="467.7" cy="2285.1" r="4.6"/><circle cx="475.7" cy="2265.6" r="4.6"/><circle cx="475.7" cy="2272.5" r="4.6"/><circle cx="486.1" cy="2261.0" r="4.6"/><circle cx="494.1" cy="2261.0" r="4.6"/><circle cx="483.8" cy="2155.0" r="4.6"/><circle cx="498.7" cy="2163.0" r="4.6"/><circle cx="509.0" cy="2149.2" r="4.6"/><circle cx="518.2" cy="2152.0" r="4.6"/><circle cx="521.6" cy="2156.6" r="4.6"/><circle cx="522.8" cy="2163.0" r="4.6"/><circle cx="548.0" cy="2163.4" r="4.6"/><circle cx="548.0" cy="2166.9" r="4.6"/><circle cx="568.7" cy="2158.9" r="4.6"/><circle cx="568.7" cy="2165.7" r="4.6"/><circle cx="568.7" cy="2171.5" r="4.6"/><circle cx="600.8" cy="2181.8" r="4.6"/><circle cx="600.8" cy="2186.4" r="4.6"/><circle cx="650.9" cy="2188.7" r="4.6"/><circle cx="576.7" cy="2185.2" r="4.6"/><circle cx="566.4" cy="2191.0" r="4.6"/><circle cx="590.5" cy="2197.9" r="4.6"/><circle cx="596.2" cy="2202.5" r="4.6"/><circle cx="597.4" cy="2215.1" r="4.6"/><circle cx="616.9" cy="2211.6" r="4.6"/><circle cx="637.6" cy="2216.2" r="4.6"/><circle cx="635.3" cy="2227.7" r="4.6"/><circle cx="642.1" cy="2240.3" r="4.6"/><circle cx="655.9" cy="2233.4" r="4.6"/><circle cx="672.0" cy="2238.0" r="4.6"/><circle cx="678.9" cy="2227.7" r="4.6"/><circle cx="660.5" cy="2253.0" r="4.6"/><circle cx="672.0" cy="2258.7" r="4.6"/><circle cx="678.9" cy="2269.0" r="4.6"/><circle cx="509.0" cy="2282.8" r="4.6"/><circle cx="518.2" cy="2279.4" r="4.6"/><circle cx="542.3" cy="2293.1" r="4.6"/><circle cx="493.0" cy="2303.9" r="4.6"/><circle cx="495.9" cy="2323.0" r="4.6"/><circle cx="453.5" cy="2325.7" r="4.6"/><circle cx="527.4" cy="2328.7" r="4.6"/><circle cx="549.6" cy="2327.1" r="4.6"/><circle cx="556.1" cy="2312.2" r="4.6"/><circle cx="564.1" cy="2318.4" r="4.6"/><circle cx="584.8" cy="2319.5" r="4.6"/><circle cx="589.4" cy="2323.0" r="4.6"/><circle cx="603.1" cy="2340.9" r="4.6"/><circle cx="606.6" cy="2313.8" r="4.6"/><circle cx="619.2" cy="2317.2" r="4.6"/><circle cx="626.1" cy="2329.8" r="4.6"/><circle cx="623.8" cy="2335.6" r="4.6"/><circle cx="635.3" cy="2347.1" r="4.6"/><circle cx="645.6" cy="2350.5" r="4.6"/><circle cx="626.1" cy="2355.1" r="4.6"/><circle cx="651.3" cy="2316.1" r="4.6"/><circle cx="653.6" cy="2325.3" r="4.6"/><circle cx="661.7" cy="2329.8" r="4.6"/><circle cx="663.9" cy="2318.4" r="4.6"/><circle cx="662.8" cy="2306.9" r="4.6"/><circle cx="655.9" cy="2340.9" r="4.6"/><circle cx="677.7" cy="2310.3" r="4.6"/><circle cx="678.9" cy="2319.5" r="4.6"/><circle cx="669.7" cy="2289.7" r="4.6"/><circle cx="655.9" cy="2289.7" r="4.6"/><circle cx="662.8" cy="2278.2" r="4.6"/><circle cx="635.3" cy="2304.6" r="4.6"/><circle cx="642.1" cy="2305.7" r="4.6"/><circle cx="628.4" cy="2314.9" r="4.6"/><circle cx="598.5" cy="2300.0" r="4.6"/><circle cx="616.9" cy="2310.3" r="4.6"/><circle cx="690.7" cy="2246.5" r="4.6"/><circle cx="691.8" cy="2271.3" r="4.6"/><circle cx="697.5" cy="2282.8" r="4.6"/><circle cx="704.4" cy="2280.5" r="4.6"/><circle cx="710.2" cy="2280.5" r="4.6"/><circle cx="682.6" cy="2289.7" r="4.6"/><circle cx="705.6" cy="2298.4" r="4.6"/><circle cx="724.6" cy="2293.1" r="4.6"/><circle cx="733.1" cy="2298.9" r="4.6"/><circle cx="743.9" cy="2298.4" r="4.6"/><circle cx="720.5" cy="2303.0" r="4.6"/><circle cx="726.2" cy="2309.9" r="4.6"/><circle cx="737.0" cy="2310.8" r="4.6"/><circle cx="681.5" cy="2305.7" r="4.6"/><circle cx="682.6" cy="2310.3" r="4.6"/><circle cx="681.5" cy="2314.9" r="4.6"/><circle cx="686.1" cy="2313.8" r="4.6"/><circle cx="696.4" cy="2313.8" r="4.6"/><circle cx="707.9" cy="2318.4" r="4.6"/><circle cx="709.0" cy="2321.8" r="4.6"/><circle cx="717.1" cy="2325.3" r="4.6"/><circle cx="730.1" cy="2324.1" r="4.6"/><circle cx="725.1" cy="2331.0" r="4.6"/><circle cx="726.2" cy="2337.9" r="4.6"/><circle cx="705.6" cy="2340.2" r="4.6"/><circle cx="711.3" cy="2336.7" r="4.6"/><circle cx="728.5" cy="2343.6" r="4.6"/><circle cx="723.2" cy="2349.4" r="4.6"/><circle cx="756.1" cy="2273.6" r="4.6"/><circle cx="756.1" cy="2335.1" r="4.6"/><circle cx="757.2" cy="2342.5" r="4.6"/><circle cx="763.0" cy="2344.8" r="4.6"/><circle cx="771.0" cy="2346.6" r="4.6"/><circle cx="810.0" cy="2320.2" r="4.6"/><circle cx="766.4" cy="2359.7" r="4.6"/><circle cx="783.6" cy="2358.5" r="4.6"/><circle cx="690.7" cy="2364.2" r="4.6"/><circle cx="684.9" cy="2378.0" r="4.6"/><circle cx="704.4" cy="2374.1" r="4.6"/><circle cx="778.3" cy="2370.2" r="4.6"/><circle cx="779.7" cy="2389.0" r="4.6"/><circle cx="756.3" cy="2395.9" r="4.6"/><circle cx="735.9" cy="2397.1" r="4.6"/><circle cx="707.4" cy="2405.5" r="4.6"/><circle cx="730.1" cy="2412.4" r="4.6"/><circle cx="933.3" cy="2433.1" r="4.6"/><circle cx="932.1" cy="2468.9" r="4.6"/><circle cx="869.0" cy="2504.2" r="4.6"/><circle cx="877.3" cy="2515.3" r="4.6"/><circle cx="914.4" cy="2547.8" r="4.6"/><circle cx="984.4" cy="2576.8" r="4.6"/><circle cx="501.3" cy="2193.7" r="4.6"/><circle cx="495.1" cy="2218.4" r="4.6"/><circle cx="505.0" cy="2198.3" r="4.6"/><circle cx="514.0" cy="2208.7" r="4.6"/><circle cx="465.4" cy="2204.1" r="4.6"/><circle cx="552.1" cy="2204.2" r="4.6"/><circle cx="554.3" cy="2199.5" r="4.6"/><circle cx="591.8" cy="2192.8" r="4.6"/><circle cx="477.3" cy="2181.5" r="4.6"/><circle cx="517.2" cy="2201.1" r="4.6"/><circle cx="510.1" cy="2191.5" r="4.6"/><circle cx="501.1" cy="2207.3" r="4.6"/><circle cx="578.3" cy="2186.3" r="4.6"/><circle cx="572.0" cy="2178.6" r="4.6"/><circle cx="596.5" cy="2187.2" r="4.6"/><circle cx="552.6" cy="2200.5" r="4.6"/><circle cx="471.5" cy="2199.6" r="4.6"/><circle cx="466.5" cy="2194.2" r="4.6"/><circle cx="535.2" cy="2219.4" r="4.6"/><circle cx="547.8" cy="2184.7" r="4.6"/><circle cx="537.0" cy="2181.8" r="4.6"/><circle cx="556.6" cy="2174.8" r="4.6"/><circle cx="531.7" cy="2209.7" r="4.6"/><circle cx="584.9" cy="2185.7" r="4.6"/><circle cx="536.8" cy="2219.5" r="4.6"/><circle cx="479.4" cy="2212.8" r="4.6"/><circle cx="528.4" cy="2192.6" r="4.6"/><circle cx="536.3" cy="2187.5" r="4.6"/><circle cx="468.2" cy="2198.7" r="4.6"/><circle cx="514.6" cy="2195.3" r="4.6"/><circle cx="557.9" cy="2189.3" r="4.6"/><circle cx="482.7" cy="2212.9" r="4.6"/><circle cx="545.5" cy="2188.4" r="4.6"/><circle cx="558.3" cy="2171.0" r="4.6"/><circle cx="479.4" cy="2202.6" r="4.6"/><circle cx="506.3" cy="2179.3" r="4.6"/><circle cx="578.6" cy="2208.7" r="4.6"/><circle cx="540.8" cy="2201.5" r="4.6"/><circle cx="581.8" cy="2186.4" r="4.6"/><circle cx="529.0" cy="2180.4" r="4.6"/><circle cx="523.4" cy="2177.2" r="4.6"/><circle cx="508.4" cy="2202.7" r="4.6"/><circle cx="498.7" cy="2203.3" r="4.6"/><circle cx="571.6" cy="2202.0" r="4.6"/><circle cx="525.7" cy="2189.1" r="4.6"/><circle cx="557.5" cy="2200.5" r="4.6"/><circle cx="573.8" cy="2204.9" r="4.6"/><circle cx="487.5" cy="2175.3" r="4.6"/><circle cx="507.2" cy="2178.1" r="4.6"/><circle cx="544.3" cy="2172.7" r="4.6"/><circle cx="554.5" cy="2210.4" r="4.6"/><circle cx="536.7" cy="2169.5" r="4.6"/><circle cx="526.8" cy="2172.4" r="4.6"/><circle cx="540.6" cy="2172.2" r="4.6"/><circle cx="573.2" cy="2204.3" r="4.6"/><circle cx="570.2" cy="2179.5" r="4.6"/><circle cx="474.5" cy="2185.4" r="4.6"/><circle cx="566.5" cy="2208.8" r="4.6"/><circle cx="560.5" cy="2190.5" r="4.6"/><circle cx="531.2" cy="2208.0" r="4.6"/><circle cx="542.3" cy="2180.0" r="4.6"/><circle cx="525.8" cy="2218.5" r="4.6"/><circle cx="530.7" cy="2216.5" r="4.6"/><circle cx="532.1" cy="2186.0" r="4.6"/><circle cx="583.4" cy="2181.0" r="4.6"/><circle cx="536.9" cy="2215.8" r="4.6"/><circle cx="502.7" cy="2190.0" r="4.6"/><circle cx="568.2" cy="2205.1" r="4.6"/><circle cx="535.1" cy="2188.4" r="4.6"/><circle cx="500.2" cy="2199.5" r="4.6"/><circle cx="646.8" cy="2244.9" r="4.6"/><circle cx="565.1" cy="2280.9" r="4.6"/><circle cx="559.0" cy="2227.4" r="4.6"/><circle cx="606.4" cy="2240.2" r="4.6"/><circle cx="590.3" cy="2253.5" r="4.6"/><circle cx="555.0" cy="2246.9" r="4.6"/><circle cx="660.1" cy="2275.5" r="4.6"/><circle cx="499.0" cy="2259.6" r="4.6"/><circle cx="599.1" cy="2251.6" r="4.6"/><circle cx="583.9" cy="2291.6" r="4.6"/><circle cx="593.8" cy="2237.3" r="4.6"/><circle cx="580.0" cy="2240.3" r="4.6"/><circle cx="608.7" cy="2264.9" r="4.6"/><circle cx="579.7" cy="2218.2" r="4.6"/><circle cx="578.9" cy="2258.2" r="4.6"/><circle cx="508.0" cy="2265.2" r="4.6"/><circle cx="560.7" cy="2233.4" r="4.6"/><circle cx="547.4" cy="2254.6" r="4.6"/><circle cx="528.1" cy="2245.4" r="4.6"/><circle cx="655.7" cy="2231.7" r="4.6"/><circle cx="592.5" cy="2233.1" r="4.6"/><circle cx="606.3" cy="2236.3" r="4.6"/><circle cx="539.4" cy="2259.8" r="4.6"/><circle cx="525.4" cy="2277.0" r="4.6"/><circle cx="519.4" cy="2286.2" r="4.6"/><circle cx="624.2" cy="2226.0" r="4.6"/><circle cx="584.4" cy="2220.6" r="4.6"/><circle cx="507.9" cy="2241.6" r="4.6"/><circle cx="625.7" cy="2267.6" r="4.6"/><circle cx="587.0" cy="2230.5" r="4.6"/><circle cx="535.4" cy="2273.4" r="4.6"/><circle cx="577.9" cy="2242.4" r="4.6"/><circle cx="673.4" cy="2250.4" r="4.6"/><circle cx="666.4" cy="2235.6" r="4.6"/><circle cx="599.9" cy="2236.7" r="4.6"/><circle cx="664.1" cy="2234.0" r="4.6"/><circle cx="590.1" cy="2297.1" r="4.6"/><circle cx="630.6" cy="2262.1" r="4.6"/><circle cx="550.1" cy="2260.0" r="4.6"/><circle cx="522.4" cy="2250.8" r="4.6"/><circle cx="474.5" cy="2254.1" r="4.6"/><circle cx="620.4" cy="2278.9" r="4.6"/><circle cx="524.9" cy="2241.7" r="4.6"/><circle cx="511.2" cy="2233.7" r="4.6"/><circle cx="615.6" cy="2233.8" r="4.6"/><circle cx="511.5" cy="2238.0" r="4.6"/><circle cx="570.2" cy="2231.8" r="4.6"/><circle cx="579.0" cy="2294.6" r="4.6"/><circle cx="650.8" cy="2278.9" r="4.6"/><circle cx="591.7" cy="2273.8" r="4.6"/><circle cx="547.6" cy="2260.8" r="4.6"/><circle cx="672.5" cy="2258.1" r="4.6"/><circle cx="562.7" cy="2270.9" r="4.6"/><circle cx="572.3" cy="2223.1" r="4.6"/><circle cx="553.4" cy="2226.5" r="4.6"/><circle cx="671.2" cy="2278.0" r="4.6"/><circle cx="566.6" cy="2221.0" r="4.6"/><circle cx="494.9" cy="2237.3" r="4.6"/><circle cx="585.3" cy="2224.0" r="4.6"/><circle cx="549.8" cy="2230.4" r="4.6"/><circle cx="631.5" cy="2221.2" r="4.6"/><circle cx="491.5" cy="2255.8" r="4.6"/><circle cx="560.4" cy="2231.6" r="4.6"/><circle cx="490.5" cy="2263.4" r="4.6"/><circle cx="641.2" cy="2264.5" r="4.6"/><circle cx="522.3" cy="2283.2" r="4.6"/><circle cx="583.2" cy="2264.7" r="4.6"/><circle cx="669.7" cy="2272.4" r="4.6"/><circle cx="495.7" cy="2274.0" r="4.6"/><circle cx="533.9" cy="2282.2" r="4.6"/><circle cx="593.7" cy="2261.0" r="4.6"/><circle cx="481.4" cy="2254.0" r="4.6"/><circle cx="676.2" cy="2261.0" r="4.6"/><circle cx="650.5" cy="2284.6" r="4.6"/><circle cx="542.1" cy="2275.2" r="4.6"/><circle cx="581.8" cy="2298.2" r="4.6"/><circle cx="600.1" cy="2249.0" r="4.6"/><circle cx="528.3" cy="2272.4" r="4.6"/><circle cx="592.6" cy="2262.3" r="4.6"/><circle cx="505.8" cy="2277.7" r="4.6"/><circle cx="624.7" cy="2280.6" r="4.6"/><circle cx="556.6" cy="2225.0" r="4.6"/><circle cx="558.5" cy="2245.7" r="4.6"/><circle cx="541.8" cy="2247.8" r="4.6"/><circle cx="478.9" cy="2252.0" r="4.6"/><circle cx="613.8" cy="2242.6" r="4.6"/><circle cx="594.7" cy="2283.2" r="4.6"/><circle cx="585.5" cy="2293.8" r="4.6"/><circle cx="639.6" cy="2262.4" r="4.6"/><circle cx="488.4" cy="2254.8" r="4.6"/><circle cx="510.2" cy="2288.2" r="4.6"/><circle cx="669.7" cy="2276.7" r="4.6"/><circle cx="657.8" cy="2237.1" r="4.6"/><circle cx="538.1" cy="2288.0" r="4.6"/><circle cx="622.0" cy="2294.3" r="4.6"/><circle cx="656.7" cy="2232.9" r="4.6"/><circle cx="562.1" cy="2299.1" r="4.6"/><circle cx="624.7" cy="2282.5" r="4.6"/><circle cx="591.1" cy="2228.1" r="4.6"/><circle cx="596.2" cy="2292.8" r="4.6"/><circle cx="589.8" cy="2299.4" r="4.6"/><circle cx="674.1" cy="2257.3" r="4.6"/><circle cx="526.0" cy="2223.4" r="4.6"/><circle cx="476.0" cy="2259.3" r="4.6"/><circle cx="636.1" cy="2226.1" r="4.6"/><circle cx="647.5" cy="2242.5" r="4.6"/><circle cx="677.4" cy="2255.6" r="4.6"/><circle cx="525.9" cy="2244.3" r="4.6"/><circle cx="529.9" cy="2274.1" r="4.6"/><circle cx="552.2" cy="2264.1" r="4.6"/><circle cx="626.9" cy="2292.3" r="4.6"/><circle cx="603.4" cy="2283.1" r="4.6"/><circle cx="572.7" cy="2267.7" r="4.6"/><circle cx="642.7" cy="2307.2" r="4.6"/><circle cx="652.8" cy="2300.5" r="4.6"/><circle cx="673.3" cy="2284.9" r="4.6"/><circle cx="604.2" cy="2279.3" r="4.6"/><circle cx="541.4" cy="2288.3" r="4.6"/><circle cx="609.9" cy="2289.8" r="4.6"/><circle cx="578.2" cy="2286.6" r="4.6"/><circle cx="568.7" cy="2283.8" r="4.6"/><circle cx="580.2" cy="2268.5" r="4.6"/><circle cx="662.7" cy="2298.5" r="4.6"/><circle cx="677.7" cy="2298.2" r="4.6"/><circle cx="626.1" cy="2283.8" r="4.6"/><circle cx="652.7" cy="2289.8" r="4.6"/><circle cx="655.3" cy="2290.0" r="4.6"/><circle cx="643.5" cy="2301.7" r="4.6"/><circle cx="595.5" cy="2267.5" r="4.6"/><circle cx="572.6" cy="2288.4" r="4.6"/><circle cx="606.5" cy="2274.9" r="4.6"/><circle cx="576.6" cy="2281.4" r="4.6"/><circle cx="616.7" cy="2267.4" r="4.6"/><circle cx="597.0" cy="2302.9" r="4.6"/><circle cx="657.1" cy="2293.0" r="4.6"/><circle cx="650.6" cy="2270.1" r="4.6"/><circle cx="610.8" cy="2264.1" r="4.6"/><circle cx="633.6" cy="2281.5" r="4.6"/><circle cx="550.4" cy="2285.7" r="4.6"/><circle cx="562.2" cy="2295.0" r="4.6"/><circle cx="600.7" cy="2263.4" r="4.6"/><circle cx="574.1" cy="2271.2" r="4.6"/><circle cx="621.2" cy="2308.7" r="4.6"/><circle cx="593.9" cy="2272.9" r="4.6"/><circle cx="587.0" cy="2303.7" r="4.6"/><circle cx="597.8" cy="2262.6" r="4.6"/><circle cx="617.8" cy="2292.7" r="4.6"/><circle cx="664.4" cy="2289.7" r="4.6"/><circle cx="590.5" cy="2279.3" r="4.6"/><circle cx="659.0" cy="2277.9" r="4.6"/><circle cx="582.0" cy="2315.4" r="4.6"/><circle cx="605.8" cy="2264.9" r="4.6"/><circle cx="557.0" cy="2307.2" r="4.6"/><circle cx="585.6" cy="2280.3" r="4.6"/><circle cx="608.0" cy="2315.8" r="4.6"/><circle cx="651.2" cy="2309.3" r="4.6"/><circle cx="648.8" cy="2280.4" r="4.6"/><circle cx="655.4" cy="2291.5" r="4.6"/><circle cx="564.4" cy="2277.2" r="4.6"/><circle cx="614.1" cy="2290.9" r="4.6"/><circle cx="662.2" cy="2272.6" r="4.6"/><circle cx="606.8" cy="2285.1" r="4.6"/><circle cx="644.8" cy="2316.5" r="4.6"/><circle cx="662.1" cy="2282.2" r="4.6"/><circle cx="691.7" cy="2289.0" r="4.6"/><circle cx="683.6" cy="2283.7" r="4.6"/><circle cx="656.7" cy="2308.9" r="4.6"/><circle cx="686.4" cy="2287.9" r="4.6"/><circle cx="621.1" cy="2302.7" r="4.6"/><circle cx="664.0" cy="2272.4" r="4.6"/><circle cx="660.2" cy="2317.1" r="4.6"/><circle cx="624.6" cy="2301.4" r="4.6"/><circle cx="691.7" cy="2289.3" r="4.6"/><circle cx="604.8" cy="2284.7" r="4.6"/><circle cx="624.4" cy="2315.4" r="4.6"/><circle cx="508.1" cy="2185.5" r="4.6"/><circle cx="479.6" cy="2198.1" r="4.6"/><circle cx="479.6" cy="2212.5" r="4.6"/><circle cx="472.0" cy="2250.3" r="4.6"/><circle cx="489.2" cy="2240.0" r="4.6"/><circle cx="505.7" cy="2209.2" r="4.6"/><circle cx="492.5" cy="2181.2" r="4.6"/><circle cx="492.1" cy="2178.8" r="4.6"/><circle cx="471.4" cy="2251.3" r="4.6"/><circle cx="474.7" cy="2203.3" r="4.6"/><circle cx="469.5" cy="2223.4" r="4.6"/><circle cx="494.9" cy="2207.4" r="4.6"/><circle cx="540.8" cy="2214.8" r="4.6"/><circle cx="538.9" cy="2209.3" r="4.6"/><circle cx="475.7" cy="2190.0" r="4.6"/><circle cx="438.8" cy="2223.6" r="4.6"/><circle cx="476.3" cy="2187.4" r="4.6"/><circle cx="498.5" cy="2236.0" r="4.6"/><circle cx="511.9" cy="2176.6" r="4.6"/><circle cx="478.1" cy="2232.1" r="4.6"/><circle cx="481.5" cy="2212.4" r="4.6"/><circle cx="532.6" cy="2188.1" r="4.6"/><circle cx="452.2" cy="2240.2" r="4.6"/><circle cx="503.7" cy="2195.7" r="4.6"/><circle cx="436.1" cy="2221.8" r="4.6"/><circle cx="547.7" cy="2237.5" r="4.6"/><circle cx="445.4" cy="2229.7" r="4.6"/><circle cx="461.8" cy="2234.1" r="4.6"/><circle cx="439.5" cy="2204.1" r="4.6"/><circle cx="515.5" cy="2254.6" r="4.6"/><circle cx="441.1" cy="2213.4" r="4.6"/><circle cx="489.2" cy="2238.6" r="4.6"/><circle cx="492.4" cy="2247.5" r="4.6"/><circle cx="482.4" cy="2201.0" r="4.6"/><circle cx="433.3" cy="2216.8" r="4.6"/><circle cx="477.4" cy="2198.5" r="4.6"/><circle cx="526.6" cy="2203.7" r="4.6"/><circle cx="479.8" cy="2234.3" r="4.6"/><circle cx="456.5" cy="2191.9" r="4.6"/><circle cx="552.8" cy="2222.6" r="4.6"/><circle cx="536.7" cy="2191.1" r="4.6"/><circle cx="542.3" cy="2200.4" r="4.6"/><circle cx="510.6" cy="2193.4" r="4.6"/><circle cx="496.7" cy="2239.0" r="4.6"/><circle cx="540.4" cy="2234.8" r="4.6"/><circle cx="528.0" cy="2199.2" r="4.6"/><circle cx="442.0" cy="2202.7" r="4.6"/><circle cx="447.2" cy="2203.4" r="4.6"/><circle cx="529.8" cy="2189.6" r="4.6"/><circle cx="551.2" cy="2209.9" r="4.6"/><circle cx="458.0" cy="2250.2" r="4.6"/><circle cx="437.4" cy="2204.5" r="4.6"/><circle cx="534.7" cy="2237.2" r="4.6"/><circle cx="529.1" cy="2215.9" r="4.6"/><circle cx="521.5" cy="2200.9" r="4.6"/><circle cx="542.5" cy="2242.0" r="4.6"/><circle cx="524.7" cy="2191.1" r="4.6"/><circle cx="504.0" cy="2181.4" r="4.6"/><circle cx="499.5" cy="2245.8" r="4.6"/><circle cx="542.9" cy="2205.4" r="4.6"/><circle cx="517.5" cy="2186.2" r="4.6"/><circle cx="458.3" cy="2209.4" r="4.6"/><circle cx="493.6" cy="2255.3" r="4.6"/><circle cx="531.1" cy="2221.6" r="4.6"/><circle cx="535.1" cy="2196.2" r="4.6"/><circle cx="441.2" cy="2196.7" r="4.6"/><circle cx="507.4" cy="2203.6" r="4.6"/><circle cx="558.5" cy="2221.9" r="4.6"/><circle cx="503.9" cy="2238.1" r="4.6"/><circle cx="497.0" cy="2189.8" r="4.6"/><circle cx="528.2" cy="2261.8" r="4.6"/><circle cx="535.4" cy="2244.5" r="4.6"/><circle cx="551.5" cy="2286.2" r="4.6"/><circle cx="621.1" cy="2248.4" r="4.6"/><circle cx="527.1" cy="2265.3" r="4.6"/><circle cx="518.4" cy="2273.9" r="4.6"/><circle cx="578.0" cy="2294.0" r="4.6"/><circle cx="613.5" cy="2238.5" r="4.6"/><circle cx="576.6" cy="2255.7" r="4.6"/><circle cx="505.8" cy="2268.5" r="4.6"/><circle cx="560.2" cy="2248.5" r="4.6"/><circle cx="597.1" cy="2248.7" r="4.6"/><circle cx="510.3" cy="2282.8" r="4.6"/><circle cx="587.5" cy="2287.7" r="4.6"/><circle cx="565.3" cy="2262.9" r="4.6"/><circle cx="526.1" cy="2276.1" r="4.6"/><circle cx="621.8" cy="2281.8" r="4.6"/><circle cx="610.4" cy="2248.3" r="4.6"/><circle cx="579.2" cy="2242.4" r="4.6"/><circle cx="569.7" cy="2266.3" r="4.6"/><circle cx="603.4" cy="2292.6" r="4.6"/><circle cx="512.9" cy="2282.7" r="4.6"/><circle cx="625.4" cy="2244.6" r="4.6"/><circle cx="541.3" cy="2262.9" r="4.6"/><circle cx="583.3" cy="2262.1" r="4.6"/><circle cx="580.3" cy="2257.2" r="4.6"/><circle cx="559.0" cy="2251.7" r="4.6"/><circle cx="591.5" cy="2295.6" r="4.6"/><circle cx="638.0" cy="2256.8" r="4.6"/><circle cx="506.3" cy="2274.4" r="4.6"/><circle cx="596.1" cy="2256.2" r="4.6"/><circle cx="511.7" cy="2262.3" r="4.6"/><circle cx="591.7" cy="2280.6" r="4.6"/><circle cx="592.6" cy="2285.1" r="4.6"/><circle cx="515.8" cy="2266.2" r="4.6"/><circle cx="563.2" cy="2265.1" r="4.6"/><circle cx="565.2" cy="2272.3" r="4.6"/><circle cx="561.1" cy="2271.2" r="4.6"/><circle cx="559.4" cy="2266.0" r="4.6"/><circle cx="556.1" cy="2286.9" r="4.6"/><circle cx="613.4" cy="2240.6" r="4.6"/><circle cx="587.3" cy="2266.6" r="4.6"/><circle cx="614.0" cy="2280.1" r="4.6"/><circle cx="522.1" cy="2271.1" r="4.6"/><circle cx="625.1" cy="2266.6" r="4.6"/><circle cx="584.2" cy="2277.4" r="4.6"/><circle cx="574.1" cy="2291.6" r="4.6"/><circle cx="535.7" cy="2245.8" r="4.6"/><circle cx="514.1" cy="2261.1" r="4.6"/><circle cx="545.7" cy="2265.0" r="4.6"/><circle cx="524.5" cy="2263.6" r="4.6"/><circle cx="569.5" cy="2251.4" r="4.6"/><circle cx="612.6" cy="2265.4" r="4.6"/><circle cx="583.2" cy="2296.7" r="4.6"/><circle cx="622.8" cy="2275.1" r="4.6"/><circle cx="542.7" cy="2247.3" r="4.6"/><circle cx="584.7" cy="2242.3" r="4.6"/><circle cx="603.0" cy="2284.3" r="4.6"/><circle cx="611.7" cy="2282.3" r="4.6"/><circle cx="622.2" cy="2265.1" r="4.6"/><circle cx="545.6" cy="2242.2" r="4.6"/><circle cx="572.0" cy="2287.4" r="4.6"/><circle cx="559.6" cy="2259.5" r="4.6"/><circle cx="534.8" cy="2280.2" r="4.6"/><circle cx="577.5" cy="2241.8" r="4.6"/><circle cx="559.8" cy="2275.7" r="4.6"/><circle cx="539.8" cy="2252.9" r="4.6"/><circle cx="573.9" cy="2252.3" r="4.6"/><circle cx="518.6" cy="2265.2" r="4.6"/><circle cx="531.3" cy="2286.8" r="4.6"/><circle cx="563.3" cy="2252.6" r="4.6"/><circle cx="531.2" cy="2232.3" r="4.6"/><circle cx="628.6" cy="2228.1" r="4.6"/><circle cx="570.1" cy="2186.0" r="4.6"/><circle cx="546.8" cy="2269.5" r="4.6"/><circle cx="537.0" cy="2265.9" r="4.6"/><circle cx="571.2" cy="2188.7" r="4.6"/><circle cx="538.5" cy="2178.9" r="4.6"/><circle cx="470.9" cy="2259.2" r="4.6"/><circle cx="537.0" cy="2262.3" r="4.6"/><circle cx="504.0" cy="2198.8" r="4.6"/><circle cx="462.3" cy="2232.8" r="4.6"/><circle cx="492.7" cy="2228.5" r="4.6"/><circle cx="571.7" cy="2229.7" r="4.6"/><circle cx="467.8" cy="2265.2" r="4.6"/><circle cx="474.5" cy="2212.9" r="4.6"/><circle cx="504.1" cy="2292.2" r="4.6"/><circle cx="606.7" cy="2206.8" r="4.6"/><circle cx="520.6" cy="2234.7" r="4.6"/><circle cx="554.6" cy="2237.5" r="4.6"/><circle cx="565.2" cy="2284.8" r="4.6"/><circle cx="482.8" cy="2224.9" r="4.6"/><circle cx="583.9" cy="2200.0" r="4.6"/><circle cx="475.5" cy="2208.6" r="4.6"/><circle cx="513.9" cy="2285.7" r="4.6"/><circle cx="498.9" cy="2260.2" r="4.6"/><circle cx="502.9" cy="2287.8" r="4.6"/><circle cx="556.8" cy="2196.2" r="4.6"/><circle cx="541.3" cy="2225.0" r="4.6"/><circle cx="601.2" cy="2274.1" r="4.6"/><circle cx="472.0" cy="2244.3" r="4.6"/><circle cx="528.3" cy="2277.9" r="4.6"/><circle cx="539.1" cy="2210.2" r="4.6"/><circle cx="579.7" cy="2222.8" r="4.6"/><circle cx="529.4" cy="2277.0" r="4.6"/><circle cx="517.3" cy="2241.3" r="4.6"/><circle cx="596.5" cy="2278.3" r="4.6"/><circle cx="574.6" cy="2263.7" r="4.6"/><circle cx="471.7" cy="2243.2" r="4.6"/><circle cx="559.6" cy="2192.6" r="4.6"/><circle cx="610.5" cy="2259.5" r="4.6"/><circle cx="558.2" cy="2187.2" r="4.6"/><circle cx="526.5" cy="2211.1" r="4.6"/><circle cx="569.4" cy="2264.0" r="4.6"/><circle cx="566.7" cy="2249.4" r="4.6"/><circle cx="552.3" cy="2270.9" r="4.6"/><circle cx="542.7" cy="2201.8" r="4.6"/><circle cx="474.1" cy="2250.0" r="4.6"/><circle cx="595.9" cy="2264.7" r="4.6"/><circle cx="578.9" cy="2272.1" r="4.6"/><circle cx="460.5" cy="2244.9" r="4.6"/><circle cx="527.7" cy="2191.5" r="4.6"/><circle cx="555.3" cy="2189.4" r="4.6"/><circle cx="463.9" cy="2263.9" r="4.6"/><circle cx="611.0" cy="2230.1" r="4.6"/><circle cx="582.9" cy="2227.7" r="4.6"/><circle cx="496.7" cy="2258.7" r="4.6"/><circle cx="599.4" cy="2207.6" r="4.6"/><circle cx="471.6" cy="2216.2" r="4.6"/><circle cx="589.8" cy="2285.4" r="4.6"/><circle cx="478.9" cy="2217.9" r="4.6"/><circle cx="457.8" cy="2227.6" r="4.6"/><circle cx="475.9" cy="2246.0" r="4.6"/><circle cx="573.5" cy="2264.5" r="4.6"/><circle cx="473.3" cy="2274.9" r="4.6"/><circle cx="601.7" cy="2208.9" r="4.6"/><circle cx="500.1" cy="2194.8" r="4.6"/><circle cx="592.1" cy="2212.5" r="4.6"/><circle cx="487.6" cy="2277.0" r="4.6"/><circle cx="598.4" cy="2261.5" r="4.6"/><circle cx="552.8" cy="2227.8" r="4.6"/><circle cx="597.7" cy="2263.0" r="4.6"/><circle cx="522.9" cy="2277.2" r="4.6"/><circle cx="593.1" cy="2249.8" r="4.6"/><circle cx="580.7" cy="2271.7" r="4.6"/><circle cx="595.4" cy="2254.5" r="4.6"/><circle cx="580.1" cy="2279.2" r="4.6"/><circle cx="538.0" cy="2245.4" r="4.6"/><circle cx="580.1" cy="2277.0" r="4.6"/><circle cx="517.7" cy="2282.4" r="4.6"/><circle cx="511.6" cy="2269.5" r="4.6"/><circle cx="507.8" cy="2256.7" r="4.6"/><circle cx="557.2" cy="2275.3" r="4.6"/><circle cx="532.6" cy="2275.8" r="4.6"/><circle cx="533.9" cy="2290.5" r="4.6"/><circle cx="506.8" cy="2247.5" r="4.6"/><circle cx="568.1" cy="2242.7" r="4.6"/><circle cx="568.1" cy="2243.4" r="4.6"/><circle cx="582.6" cy="2267.3" r="4.6"/><circle cx="521.2" cy="2235.4" r="4.6"/><circle cx="590.8" cy="2250.8" r="4.6"/><circle cx="552.4" cy="2235.3" r="4.6"/><circle cx="546.6" cy="2291.5" r="4.6"/><circle cx="505.7" cy="2271.2" r="4.6"/><circle cx="528.9" cy="2272.8" r="4.6"/><circle cx="516.4" cy="2284.0" r="4.6"/><circle cx="545.8" cy="2270.3" r="4.6"/><circle cx="540.1" cy="2281.6" r="4.6"/><circle cx="577.1" cy="2281.3" r="4.6"/><circle cx="530.2" cy="2250.0" r="4.6"/><circle cx="516.7" cy="2288.0" r="4.6"/><circle cx="502.9" cy="2249.9" r="4.6"/><circle cx="493.8" cy="2270.9" r="4.6"/><circle cx="595.6" cy="2262.5" r="4.6"/><circle cx="493.8" cy="2249.7" r="4.6"/><circle cx="562.8" cy="2236.3" r="4.6"/><circle cx="547.2" cy="2248.6" r="4.6"/><circle cx="521.9" cy="2237.7" r="4.6"/><circle cx="562.3" cy="2255.8" r="4.6"/><circle cx="525.7" cy="2232.2" r="4.6"/><circle cx="598.6" cy="2266.5" r="4.6"/><circle cx="538.8" cy="2266.1" r="4.6"/><circle cx="539.9" cy="2280.2" r="4.6"/><circle cx="585.3" cy="2246.1" r="4.6"/><circle cx="592.4" cy="2245.7" r="4.6"/><circle cx="560.0" cy="2291.0" r="4.6"/><circle cx="566.7" cy="2228.8" r="4.6"/><circle cx="558.4" cy="2284.9" r="4.6"/><circle cx="535.1" cy="2252.3" r="4.6"/><circle cx="509.5" cy="2269.3" r="4.6"/><circle cx="502.3" cy="2268.2" r="4.6"/><circle cx="559.4" cy="2263.7" r="4.6"/><circle cx="536.4" cy="2257.8" r="4.6"/><circle cx="530.7" cy="2252.1" r="4.6"/><circle cx="528.3" cy="2246.4" r="4.6"/><circle cx="509.0" cy="2264.4" r="4.6"/><circle cx="556.7" cy="2263.2" r="4.6"/><circle cx="545.9" cy="2281.8" r="4.6"/><circle cx="534.6" cy="2257.9" r="4.6"/><circle cx="500.9" cy="2248.3" r="4.6"/></g>
<line x1="333.8" y1="2220.3" x2="1014.6" y2="2220.3" stroke="#222" stroke-width="2.83" stroke-dasharray="2.83 4.67" clip-path="url(#cG)"/>
<line x1="333.8" y1="2249.9" x2="1014.6" y2="2249.9" stroke="#d42a2e" stroke-width="3.8" stroke-dasharray="14.06 6.08" clip-path="url(#cG)"/>
<line x1="333.8" y1="2138.4" x2="1014.6" y2="2138.4" stroke="#1616a8" stroke-width="3.8" stroke-dasharray="24.32 6.08 3.80 6.08" clip-path="url(#cG)"/>
<line x1="333.8" y1="2361.3" x2="1014.6" y2="2361.3" stroke="#1616a8" stroke-width="3.8" stroke-dasharray="24.32 6.08 3.80 6.08" clip-path="url(#cG)"/>
<rect x="349.2" y="2453.3" width="327.0" height="131.2" rx="6" fill="#fff" fill-opacity="0.8" stroke="#cccccc" stroke-width="1.3"/>
<line x1="360" y1="2474.6" x2="420" y2="2474.6" stroke="#d42a2e" stroke-width="3.8" stroke-dasharray="14.06 6.08"/>
<text x="439.5" y="2485.0" font-size="28.6">Bias: -7.66 ml</text>
<line x1="360" y1="2516.6" x2="420" y2="2516.6" stroke="#1616a8" stroke-width="3.8" stroke-dasharray="24.32 6.08 3.80 6.08"/>
<text x="439.5" y="2527.0" font-size="28.6">1.96SD: 21.18</text>
<line x1="360" y1="2558.9" x2="420" y2="2558.9" stroke="#1616a8" stroke-width="3.8" stroke-dasharray="24.32 6.08 3.80 6.08"/>
<text x="439.5" y="2569.3" font-size="28.6">-1.96SD: -36.51</text>
<rect x="333.8" y="2093.0" width="680.8" height="507.0" fill="none" stroke="#000" stroke-width="1.7"/>
<path d="M379.3 2600.0v8M486.0 2600.0v8M592.8 2600.0v8M699.5 2600.0v8M806.3 2600.0v8M913.0 2600.0v8M333.8 2529.3h-8M333.8 2452.0h-8M333.8 2374.8h-8M333.8 2297.5h-8M333.8 2220.3h-8M333.8 2143.0h-8" stroke="#000" stroke-width="1.7"/>
<text x="379.3" y="2636.2" font-size="29.5" text-anchor="middle">50</text>
<text x="486.0" y="2636.2" font-size="29.5" text-anchor="middle">60</text>
<text x="592.8" y="2636.2" font-size="29.5" text-anchor="middle">70</text>
<text x="699.5" y="2636.2" font-size="29.5" text-anchor="middle">80</text>
<text x="806.3" y="2636.2" font-size="29.5" text-anchor="middle">90</text>
<text x="913.0" y="2636.2" font-size="29.5" text-anchor="middle">100</text>
<text x="319.6" y="2540.1" font-size="29.5" text-anchor="end">−80</text>
<text x="319.6" y="2462.8" font-size="29.5" text-anchor="end">−60</text>
<text x="319.6" y="2385.5" font-size="29.5" text-anchor="end">−40</text>
<text x="319.6" y="2308.3" font-size="29.5" text-anchor="end">−20</text>
<text x="319.6" y="2231.0" font-size="29.5" text-anchor="end">0</text>
<text x="319.6" y="2153.8" font-size="29.5" text-anchor="end">20</text>
<text x="674.2" y="2081.6" font-size="29.2" text-anchor="middle">Bland-Altman Plot - LVEDV</text>
<text x="674.2" y="2669.2" font-size="29.2" text-anchor="middle">Mean</text>
<text x="245.0" y="2346.5" font-size="29.2" text-anchor="middle" transform="rotate(-90 245.0 2346.5)">Difference [Predicted - GT]</text>
<clipPath id="cH"><rect x="1142.5" y="2101.7" width="506.3" height="507.3"/></clipPath>
<path d="M1142.5 2101.7V2609.0M1311.3 2101.7V2609.0M1480.0 2101.7V2609.0M1648.8 2101.7V2609.0M1142.5 2609.0H1648.8M1142.5 2524.6H1648.8M1142.5 2440.2H1648.8M1142.5 2355.8H1648.8M1142.5 2271.4H1648.8M1142.5 2187.0H1648.8M1142.5 2102.6H1648.8" stroke="#a8a8a8" stroke-width="1.2" fill="none"/>
<line x1="1142.5" y1="2446.4" x2="1648.8" y2="2301.4" stroke="#d0242c" stroke-width="2.85" stroke-dasharray="10.5 4.6" clip-path="url(#cH)"/>
<g clip-path="url(#cH)" fill="#1f77b4" fill-opacity="0.62" stroke="#1b6aa2" stroke-opacity="0.8" stroke-width="1.3"><circle cx="1282.6" cy="2319.5" r="5.4"/><circle cx="1303.6" cy="2331.3" r="5.4"/><circle cx="1312.5" cy="2333.3" r="5.4"/><circle cx="1329.2" cy="2332.3" r="5.4"/><circle cx="1341.0" cy="2326.4" r="5.4"/><circle cx="1346.9" cy="2317.5" r="5.4"/><circle cx="1348.9" cy="2325.4" r="5.4"/><circle cx="1370.5" cy="2325.4" r="5.4"/><circle cx="1394.1" cy="2330.3" r="5.4"/><circle cx="1404.9" cy="2316.6" r="5.4"/><circle cx="1422.6" cy="2330.3" r="5.4"/><circle cx="1428.5" cy="2336.2" r="5.4"/><circle cx="1435.4" cy="2347.1" r="5.4"/><circle cx="1426.6" cy="2351.0" r="5.4"/><circle cx="1455.1" cy="2342.1" r="5.4"/><circle cx="1464.0" cy="2349.0" r="5.4"/><circle cx="1485.6" cy="2341.5" r="5.4"/><circle cx="1484.6" cy="2353.9" r="5.4"/><circle cx="1454.1" cy="2354.9" r="5.4"/><circle cx="1446.2" cy="2356.9" r="5.4"/><circle cx="1467.9" cy="2364.8" r="5.4"/><circle cx="1475.8" cy="2368.7" r="5.4"/><circle cx="1483.6" cy="2374.6" r="5.4"/><circle cx="1501.3" cy="2372.6" r="5.4"/><circle cx="1509.2" cy="2382.5" r="5.4"/><circle cx="1491.5" cy="2390.3" r="5.4"/><circle cx="1515.1" cy="2356.9" r="5.4"/><circle cx="1515.1" cy="2364.8" r="5.4"/><circle cx="1514.1" cy="2397.2" r="5.4"/><circle cx="1517.1" cy="2411.0" r="5.4"/><circle cx="1496.4" cy="2410.0" r="5.4"/><circle cx="1463.4" cy="2418.9" r="5.4"/><circle cx="1475.8" cy="2400.2" r="5.4"/><circle cx="1483.6" cy="2396.2" r="5.4"/><circle cx="1456.1" cy="2402.1" r="5.4"/><circle cx="1440.3" cy="2408.0" r="5.4"/><circle cx="1428.5" cy="2412.0" r="5.4"/><circle cx="1411.8" cy="2429.7" r="5.4"/><circle cx="1384.3" cy="2455.3" r="5.4"/><circle cx="1310.5" cy="2455.3" r="5.4"/><circle cx="1340.0" cy="2439.5" r="5.4"/><circle cx="1322.3" cy="2436.6" r="5.4"/><circle cx="1312.5" cy="2434.6" r="5.4"/><circle cx="1288.9" cy="2427.7" r="5.4"/><circle cx="1270.2" cy="2419.8" r="5.4"/><circle cx="1283.9" cy="2413.9" r="5.4"/><circle cx="1265.2" cy="2402.1" r="5.4"/><circle cx="1260.3" cy="2392.3" r="5.4"/><circle cx="1266.2" cy="2376.6" r="5.4"/><circle cx="1265.2" cy="2365.7" r="5.4"/><circle cx="1269.2" cy="2351.0" r="5.4"/><circle cx="1277.1" cy="2354.9" r="5.4"/><circle cx="1289.8" cy="2346.1" r="5.4"/><circle cx="1286.9" cy="2362.8" r="5.4"/><circle cx="1334.1" cy="2429.7" r="5.4"/><circle cx="1371.5" cy="2428.7" r="5.4"/><circle cx="1377.4" cy="2428.7" r="5.4"/><circle cx="1404.9" cy="2417.9" r="5.4"/><circle cx="1444.3" cy="2396.2" r="5.4"/><circle cx="1452.1" cy="2400.2" r="5.4"/><circle cx="1539.0" cy="2356.9" r="5.4"/><circle cx="1558.0" cy="2366.7" r="5.4"/><circle cx="1566.6" cy="2380.2" r="5.4"/><circle cx="1549.9" cy="2382.9" r="5.4"/><circle cx="1597.1" cy="2387.0" r="5.4"/><circle cx="1581.6" cy="2409.1" r="5.4"/><circle cx="1603.9" cy="2356.9" r="5.4"/><circle cx="1608.9" cy="2340.5" r="5.4"/><circle cx="1436.9" cy="2391.8" r="5.4"/><circle cx="1324.2" cy="2357.6" r="5.4"/><circle cx="1342.0" cy="2364.9" r="5.4"/><circle cx="1356.0" cy="2384.3" r="5.4"/><circle cx="1439.1" cy="2372.0" r="5.4"/><circle cx="1277.1" cy="2399.1" r="5.4"/><circle cx="1410.3" cy="2392.1" r="5.4"/><circle cx="1341.9" cy="2402.3" r="5.4"/><circle cx="1440.5" cy="2383.5" r="5.4"/><circle cx="1437.8" cy="2357.1" r="5.4"/><circle cx="1380.2" cy="2385.7" r="5.4"/><circle cx="1303.0" cy="2415.1" r="5.4"/><circle cx="1365.4" cy="2372.1" r="5.4"/><circle cx="1395.7" cy="2389.9" r="5.4"/><circle cx="1343.1" cy="2399.4" r="5.4"/><circle cx="1335.5" cy="2385.3" r="5.4"/><circle cx="1288.9" cy="2392.5" r="5.4"/><circle cx="1380.6" cy="2368.6" r="5.4"/><circle cx="1350.0" cy="2418.4" r="5.4"/><circle cx="1425.5" cy="2360.3" r="5.4"/><circle cx="1345.8" cy="2423.4" r="5.4"/><circle cx="1352.3" cy="2382.1" r="5.4"/><circle cx="1427.1" cy="2356.2" r="5.4"/><circle cx="1409.1" cy="2356.9" r="5.4"/><circle cx="1453.9" cy="2373.7" r="5.4"/><circle cx="1384.6" cy="2377.3" r="5.4"/><circle cx="1333.0" cy="2346.8" r="5.4"/><circle cx="1288.2" cy="2410.8" r="5.4"/><circle cx="1389.9" cy="2355.8" r="5.4"/><circle cx="1349.7" cy="2410.2" r="5.4"/><circle cx="1398.9" cy="2349.0" r="5.4"/><circle cx="1298.5" cy="2390.4" r="5.4"/><circle cx="1450.1" cy="2379.0" r="5.4"/><circle cx="1414.4" cy="2408.5" r="5.4"/><circle cx="1305.4" cy="2395.9" r="5.4"/><circle cx="1421.2" cy="2345.4" r="5.4"/><circle cx="1393.6" cy="2348.8" r="5.4"/><circle cx="1422.1" cy="2379.5" r="5.4"/><circle cx="1354.0" cy="2348.6" r="5.4"/><circle cx="1341.8" cy="2427.6" r="5.4"/><circle cx="1317.9" cy="2388.3" r="5.4"/><circle cx="1306.0" cy="2389.7" r="5.4"/><circle cx="1304.8" cy="2364.7" r="5.4"/><circle cx="1438.3" cy="2399.1" r="5.4"/><circle cx="1407.0" cy="2339.1" r="5.4"/><circle cx="1316.3" cy="2346.3" r="5.4"/><circle cx="1390.9" cy="2404.3" r="5.4"/><circle cx="1373.5" cy="2409.8" r="5.4"/><circle cx="1284.6" cy="2372.9" r="5.4"/><circle cx="1313.3" cy="2420.8" r="5.4"/><circle cx="1304.1" cy="2409.5" r="5.4"/><circle cx="1285.7" cy="2357.2" r="5.4"/><circle cx="1343.7" cy="2419.5" r="5.4"/><circle cx="1475.2" cy="2395.8" r="5.4"/><circle cx="1353.1" cy="2415.5" r="5.4"/><circle cx="1387.5" cy="2343.3" r="5.4"/><circle cx="1346.4" cy="2347.6" r="5.4"/><circle cx="1344.4" cy="2394.9" r="5.4"/><circle cx="1390.2" cy="2406.6" r="5.4"/><circle cx="1384.0" cy="2370.4" r="5.4"/><circle cx="1314.6" cy="2344.8" r="5.4"/><circle cx="1295.8" cy="2365.0" r="5.4"/><circle cx="1336.3" cy="2373.5" r="5.4"/><circle cx="1385.6" cy="2365.1" r="5.4"/><circle cx="1320.0" cy="2396.5" r="5.4"/><circle cx="1294.5" cy="2367.2" r="5.4"/><circle cx="1446.0" cy="2404.6" r="5.4"/><circle cx="1453.4" cy="2394.9" r="5.4"/><circle cx="1447.7" cy="2375.2" r="5.4"/><circle cx="1374.3" cy="2380.1" r="5.4"/><circle cx="1478.8" cy="2372.0" r="5.4"/><circle cx="1286.3" cy="2387.0" r="5.4"/><circle cx="1328.0" cy="2366.4" r="5.4"/><circle cx="1311.1" cy="2353.1" r="5.4"/><circle cx="1333.2" cy="2391.0" r="5.4"/><circle cx="1466.6" cy="2374.5" r="5.4"/><circle cx="1316.2" cy="2377.2" r="5.4"/><circle cx="1302.4" cy="2416.3" r="5.4"/><circle cx="1341.6" cy="2388.5" r="5.4"/><circle cx="1466.0" cy="2381.6" r="5.4"/><circle cx="1370.7" cy="2392.5" r="5.4"/><circle cx="1415.9" cy="2366.5" r="5.4"/><circle cx="1303.4" cy="2418.2" r="5.4"/><circle cx="1421.4" cy="2372.7" r="5.4"/><circle cx="1400.7" cy="2371.1" r="5.4"/><circle cx="1324.3" cy="2422.2" r="5.4"/><circle cx="1406.4" cy="2406.7" r="5.4"/><circle cx="1377.8" cy="2347.0" r="5.4"/><circle cx="1350.5" cy="2379.6" r="5.4"/><circle cx="1386.0" cy="2344.4" r="5.4"/><circle cx="1343.6" cy="2379.6" r="5.4"/><circle cx="1288.7" cy="2382.3" r="5.4"/><circle cx="1334.2" cy="2370.6" r="5.4"/><circle cx="1364.3" cy="2373.2" r="5.4"/><circle cx="1451.9" cy="2372.2" r="5.4"/><circle cx="1378.8" cy="2425.0" r="5.4"/><circle cx="1382.0" cy="2412.0" r="5.4"/><circle cx="1385.9" cy="2417.2" r="5.4"/><circle cx="1380.0" cy="2406.8" r="5.4"/><circle cx="1295.6" cy="2390.4" r="5.4"/><circle cx="1277.3" cy="2391.2" r="5.4"/><circle cx="1305.8" cy="2421.5" r="5.4"/><circle cx="1460.3" cy="2387.4" r="5.4"/><circle cx="1389.1" cy="2359.3" r="5.4"/><circle cx="1389.8" cy="2378.1" r="5.4"/><circle cx="1291.7" cy="2381.2" r="5.4"/><circle cx="1436.7" cy="2376.1" r="5.4"/><circle cx="1309.3" cy="2389.0" r="5.4"/><circle cx="1373.4" cy="2424.0" r="5.4"/><circle cx="1355.1" cy="2371.4" r="5.4"/><circle cx="1336.8" cy="2407.8" r="5.4"/><circle cx="1381.2" cy="2369.6" r="5.4"/><circle cx="1420.9" cy="2352.2" r="5.4"/><circle cx="1399.3" cy="2358.7" r="5.4"/><circle cx="1428.1" cy="2390.8" r="5.4"/><circle cx="1432.0" cy="2389.9" r="5.4"/><circle cx="1375.7" cy="2421.0" r="5.4"/><circle cx="1347.9" cy="2354.3" r="5.4"/><circle cx="1357.8" cy="2422.8" r="5.4"/><circle cx="1364.3" cy="2409.5" r="5.4"/><circle cx="1454.8" cy="2389.4" r="5.4"/><circle cx="1380.3" cy="2407.2" r="5.4"/><circle cx="1341.1" cy="2379.7" r="5.4"/><circle cx="1367.8" cy="2414.1" r="5.4"/><circle cx="1452.7" cy="2367.5" r="5.4"/><circle cx="1364.1" cy="2340.3" r="5.4"/><circle cx="1426.6" cy="2387.0" r="5.4"/><circle cx="1346.8" cy="2375.3" r="5.4"/><circle cx="1366.7" cy="2383.9" r="5.4"/><circle cx="1326.1" cy="2342.6" r="5.4"/><circle cx="1349.6" cy="2357.6" r="5.4"/><circle cx="1325.7" cy="2425.9" r="5.4"/><circle cx="1436.4" cy="2384.3" r="5.4"/><circle cx="1342.1" cy="2386.5" r="5.4"/><circle cx="1324.8" cy="2419.0" r="5.4"/><circle cx="1284.0" cy="2388.0" r="5.4"/><circle cx="1436.3" cy="2370.5" r="5.4"/><circle cx="1469.1" cy="2373.8" r="5.4"/><circle cx="1422.3" cy="2357.2" r="5.4"/><circle cx="1363.0" cy="2387.4" r="5.4"/><circle cx="1383.3" cy="2424.1" r="5.4"/><circle cx="1422.1" cy="2351.8" r="5.4"/><circle cx="1296.6" cy="2401.8" r="5.4"/><circle cx="1345.3" cy="2424.5" r="5.4"/><circle cx="1386.5" cy="2411.7" r="5.4"/><circle cx="1375.0" cy="2388.7" r="5.4"/><circle cx="1300.3" cy="2395.2" r="5.4"/><circle cx="1347.0" cy="2407.4" r="5.4"/><circle cx="1392.2" cy="2386.4" r="5.4"/><circle cx="1405.1" cy="2344.3" r="5.4"/><circle cx="1376.1" cy="2417.1" r="5.4"/><circle cx="1427.8" cy="2390.1" r="5.4"/><circle cx="1285.7" cy="2392.6" r="5.4"/><circle cx="1373.7" cy="2421.7" r="5.4"/><circle cx="1403.7" cy="2387.4" r="5.4"/><circle cx="1367.5" cy="2359.8" r="5.4"/><circle cx="1377.4" cy="2422.7" r="5.4"/><circle cx="1388.7" cy="2374.6" r="5.4"/><circle cx="1304.7" cy="2397.0" r="5.4"/><circle cx="1305.3" cy="2400.3" r="5.4"/><circle cx="1400.2" cy="2356.8" r="5.4"/><circle cx="1285.3" cy="2391.9" r="5.4"/><circle cx="1399.3" cy="2364.8" r="5.4"/><circle cx="1325.9" cy="2404.3" r="5.4"/><circle cx="1389.9" cy="2376.9" r="5.4"/><circle cx="1367.0" cy="2420.7" r="5.4"/><circle cx="1363.8" cy="2338.3" r="5.4"/><circle cx="1420.4" cy="2350.1" r="5.4"/><circle cx="1372.9" cy="2374.7" r="5.4"/><circle cx="1469.1" cy="2398.7" r="5.4"/><circle cx="1313.5" cy="2407.8" r="5.4"/><circle cx="1411.7" cy="2399.6" r="5.4"/><circle cx="1383.4" cy="2395.9" r="5.4"/><circle cx="1391.7" cy="2351.8" r="5.4"/><circle cx="1298.4" cy="2385.4" r="5.4"/><circle cx="1391.0" cy="2411.3" r="5.4"/><circle cx="1409.6" cy="2367.4" r="5.4"/><circle cx="1296.1" cy="2351.8" r="5.4"/><circle cx="1344.3" cy="2381.3" r="5.4"/><circle cx="1277.2" cy="2375.3" r="5.4"/><circle cx="1354.8" cy="2405.0" r="5.4"/><circle cx="1366.8" cy="2344.4" r="5.4"/><circle cx="1343.7" cy="2398.2" r="5.4"/><circle cx="1327.3" cy="2417.6" r="5.4"/><circle cx="1467.3" cy="2377.8" r="5.4"/><circle cx="1362.1" cy="2370.6" r="5.4"/><circle cx="1421.2" cy="2382.6" r="5.4"/><circle cx="1333.9" cy="2422.3" r="5.4"/><circle cx="1401.7" cy="2414.2" r="5.4"/><circle cx="1388.2" cy="2360.2" r="5.4"/><circle cx="1348.1" cy="2407.7" r="5.4"/><circle cx="1351.8" cy="2409.3" r="5.4"/><circle cx="1313.4" cy="2402.2" r="5.4"/><circle cx="1466.6" cy="2365.6" r="5.4"/><circle cx="1390.5" cy="2357.5" r="5.4"/><circle cx="1280.0" cy="2367.1" r="5.4"/><circle cx="1391.9" cy="2382.9" r="5.4"/><circle cx="1338.1" cy="2392.1" r="5.4"/><circle cx="1435.1" cy="2372.7" r="5.4"/><circle cx="1292.1" cy="2354.7" r="5.4"/><circle cx="1406.5" cy="2402.3" r="5.4"/><circle cx="1457.4" cy="2364.5" r="5.4"/><circle cx="1456.9" cy="2363.4" r="5.4"/><circle cx="1401.7" cy="2392.2" r="5.4"/><circle cx="1297.3" cy="2369.8" r="5.4"/><circle cx="1343.2" cy="2407.4" r="5.4"/><circle cx="1447.7" cy="2390.7" r="5.4"/><circle cx="1428.0" cy="2401.2" r="5.4"/><circle cx="1436.9" cy="2403.6" r="5.4"/><circle cx="1357.9" cy="2420.6" r="5.4"/><circle cx="1330.3" cy="2413.4" r="5.4"/><circle cx="1400.9" cy="2342.2" r="5.4"/><circle cx="1387.6" cy="2349.2" r="5.4"/><circle cx="1444.6" cy="2396.4" r="5.4"/><circle cx="1321.7" cy="2408.8" r="5.4"/><circle cx="1334.8" cy="2400.8" r="5.4"/><circle cx="1349.1" cy="2392.2" r="5.4"/><circle cx="1350.8" cy="2340.7" r="5.4"/><circle cx="1418.6" cy="2380.4" r="5.4"/><circle cx="1401.5" cy="2388.5" r="5.4"/><circle cx="1415.4" cy="2393.3" r="5.4"/><circle cx="1318.4" cy="2412.9" r="5.4"/><circle cx="1336.3" cy="2352.3" r="5.4"/><circle cx="1347.0" cy="2386.9" r="5.4"/><circle cx="1354.0" cy="2342.3" r="5.4"/><circle cx="1395.0" cy="2404.1" r="5.4"/><circle cx="1333.9" cy="2354.6" r="5.4"/><circle cx="1368.2" cy="2347.4" r="5.4"/><circle cx="1363.2" cy="2396.1" r="5.4"/><circle cx="1310.6" cy="2406.5" r="5.4"/><circle cx="1285.8" cy="2378.9" r="5.4"/><circle cx="1405.3" cy="2419.6" r="5.4"/><circle cx="1346.6" cy="2341.2" r="5.4"/><circle cx="1364.2" cy="2409.3" r="5.4"/><circle cx="1356.5" cy="2375.2" r="5.4"/><circle cx="1471.5" cy="2395.9" r="5.4"/><circle cx="1339.6" cy="2381.9" r="5.4"/><circle cx="1287.6" cy="2400.9" r="5.4"/><circle cx="1393.6" cy="2388.9" r="5.4"/><circle cx="1415.4" cy="2378.8" r="5.4"/><circle cx="1313.1" cy="2367.8" r="5.4"/><circle cx="1328.5" cy="2354.8" r="5.4"/><circle cx="1298.9" cy="2360.8" r="5.4"/><circle cx="1339.3" cy="2400.8" r="5.4"/><circle cx="1391.9" cy="2402.4" r="5.4"/><circle cx="1324.9" cy="2380.4" r="5.4"/><circle cx="1351.5" cy="2376.8" r="5.4"/><circle cx="1353.3" cy="2377.1" r="5.4"/><circle cx="1392.8" cy="2369.8" r="5.4"/><circle cx="1413.5" cy="2387.9" r="5.4"/><circle cx="1392.9" cy="2374.6" r="5.4"/><circle cx="1454.8" cy="2389.8" r="5.4"/><circle cx="1363.7" cy="2416.4" r="5.4"/><circle cx="1366.2" cy="2337.4" r="5.4"/><circle cx="1413.7" cy="2383.4" r="5.4"/><circle cx="1406.2" cy="2383.6" r="5.4"/><circle cx="1313.6" cy="2372.6" r="5.4"/><circle cx="1433.5" cy="2386.5" r="5.4"/><circle cx="1412.1" cy="2409.0" r="5.4"/><circle cx="1436.0" cy="2361.8" r="5.4"/><circle cx="1417.0" cy="2344.5" r="5.4"/><circle cx="1450.9" cy="2361.6" r="5.4"/><circle cx="1308.3" cy="2418.3" r="5.4"/><circle cx="1409.7" cy="2339.7" r="5.4"/><circle cx="1466.9" cy="2401.5" r="5.4"/><circle cx="1440.5" cy="2408.2" r="5.4"/><circle cx="1357.3" cy="2425.4" r="5.4"/><circle cx="1468.6" cy="2369.1" r="5.4"/><circle cx="1330.4" cy="2429.0" r="5.4"/><circle cx="1291.1" cy="2415.0" r="5.4"/><circle cx="1306.7" cy="2417.4" r="5.4"/><circle cx="1414.8" cy="2346.1" r="5.4"/><circle cx="1467.0" cy="2397.8" r="5.4"/><circle cx="1460.9" cy="2400.0" r="5.4"/><circle cx="1293.7" cy="2418.5" r="5.4"/><circle cx="1446.8" cy="2361.1" r="5.4"/><circle cx="1405.6" cy="2419.2" r="5.4"/><circle cx="1296.7" cy="2418.4" r="5.4"/><circle cx="1465.5" cy="2366.7" r="5.4"/><circle cx="1363.0" cy="2342.0" r="5.4"/><circle cx="1392.1" cy="2338.1" r="5.4"/><circle cx="1368.7" cy="2419.8" r="5.4"/><circle cx="1270.8" cy="2397.1" r="5.4"/><circle cx="1419.2" cy="2417.5" r="5.4"/><circle cx="1294.7" cy="2354.6" r="5.4"/><circle cx="1311.0" cy="2344.3" r="5.4"/><circle cx="1289.0" cy="2417.2" r="5.4"/><circle cx="1422.7" cy="2411.0" r="5.4"/><circle cx="1325.5" cy="2344.4" r="5.4"/><circle cx="1435.5" cy="2357.4" r="5.4"/><circle cx="1276.1" cy="2384.7" r="5.4"/><circle cx="1289.0" cy="2357.9" r="5.4"/><circle cx="1287.9" cy="2361.0" r="5.4"/><circle cx="1324.2" cy="2340.4" r="5.4"/><circle cx="1389.9" cy="2418.5" r="5.4"/><circle cx="1474.1" cy="2396.2" r="5.4"/><circle cx="1321.6" cy="2425.0" r="5.4"/><circle cx="1269.6" cy="2391.0" r="5.4"/><circle cx="1403.1" cy="2421.7" r="5.4"/><circle cx="1355.9" cy="2430.4" r="5.4"/><circle cx="1439.6" cy="2404.2" r="5.4"/><circle cx="1459.4" cy="2363.9" r="5.4"/><circle cx="1405.7" cy="2342.9" r="5.4"/><circle cx="1373.3" cy="2428.4" r="5.4"/><circle cx="1423.0" cy="2410.7" r="5.4"/><circle cx="1271.3" cy="2385.9" r="5.4"/><circle cx="1268.8" cy="2384.0" r="5.4"/><circle cx="1480.7" cy="2374.0" r="5.4"/><circle cx="1451.4" cy="2362.6" r="5.4"/><circle cx="1423.0" cy="2410.0" r="5.4"/><circle cx="1468.4" cy="2365.2" r="5.4"/><circle cx="1373.9" cy="2420.7" r="5.4"/><circle cx="1321.1" cy="2340.4" r="5.4"/><circle cx="1434.6" cy="2348.7" r="5.4"/><circle cx="1413.4" cy="2345.4" r="5.4"/><circle cx="1293.2" cy="2414.7" r="5.4"/><circle cx="1421.6" cy="2410.6" r="5.4"/><circle cx="1424.6" cy="2413.0" r="5.4"/><circle cx="1277.7" cy="2383.5" r="5.4"/><circle cx="1275.7" cy="2399.5" r="5.4"/><circle cx="1334.0" cy="2337.9" r="5.4"/><circle cx="1349.4" cy="2423.4" r="5.4"/><circle cx="1389.3" cy="2426.3" r="5.4"/><circle cx="1444.8" cy="2363.4" r="5.4"/><circle cx="1288.7" cy="2359.6" r="5.4"/><circle cx="1273.4" cy="2387.3" r="5.4"/><circle cx="1286.9" cy="2362.3" r="5.4"/><circle cx="1421.2" cy="2414.8" r="5.4"/><circle cx="1304.2" cy="2417.3" r="5.4"/><circle cx="1479.2" cy="2387.1" r="5.4"/><circle cx="1284.8" cy="2414.5" r="5.4"/><circle cx="1340.8" cy="2336.7" r="5.4"/><circle cx="1471.9" cy="2400.9" r="5.4"/><circle cx="1333.7" cy="2343.2" r="5.4"/><circle cx="1329.3" cy="2342.6" r="5.4"/><circle cx="1422.0" cy="2410.6" r="5.4"/><circle cx="1394.8" cy="2336.6" r="5.4"/><circle cx="1355.4" cy="2427.4" r="5.4"/><circle cx="1415.8" cy="2419.0" r="5.4"/><circle cx="1272.8" cy="2393.9" r="5.4"/><circle cx="1430.4" cy="2350.9" r="5.4"/><circle cx="1401.4" cy="2423.3" r="5.4"/><circle cx="1444.1" cy="2359.0" r="5.4"/><circle cx="1377.7" cy="2424.0" r="5.4"/><circle cx="1431.4" cy="2412.1" r="5.4"/><circle cx="1382.6" cy="2335.6" r="5.4"/><circle cx="1354.0" cy="2422.6" r="5.4"/><circle cx="1386.6" cy="2341.6" r="5.4"/><circle cx="1470.6" cy="2397.3" r="5.4"/><circle cx="1457.7" cy="2402.4" r="5.4"/></g>
<polygon points="1285.1,2373.6 1294.6,2359.9 1313.5,2352.1 1331.9,2348.4 1349.4,2348.6 1361.9,2346.5 1376.6,2349.2 1388.4,2348.3 1401.2,2348.5 1415.0,2350.3 1425.5,2357.9 1434.7,2364.0 1454.1,2366.8 1469.7,2373.5 1471.7,2387.5 1460.1,2397.8 1440.7,2400.6 1425.4,2403.2 1407.5,2408.2 1391.5,2413.1 1376.7,2413.8 1361.8,2416.4 1345.4,2418.3 1327.7,2418.3 1309.4,2414.4 1294.3,2408.1 1284.9,2396.2 1283.1,2384.0" fill="#1f74b0" fill-opacity="0.96" stroke="#1f74b0" stroke-opacity="0.6" stroke-width="8" stroke-linejoin="round"/>
<line x1="1142.5" y1="2609.0" x2="1648.8" y2="2102.6" stroke="#005a10" stroke-opacity="0.6" stroke-width="1.4" clip-path="url(#cH)"/>
<rect x="1156.6" y="2118.2" width="330.0" height="47.0" rx="6" fill="#fff" fill-opacity="0.8" stroke="#cccccc" stroke-width="1.3"/>
<line x1="1167" y1="2139.3" x2="1223.3" y2="2139.3" stroke="#d0242c" stroke-width="2.85" stroke-dasharray="10.5 4.6"/>
<text x="1247.8" y="2149.9" font-size="29">y = 0.3 x +95.4</text>
<rect x="1142.5" y="2101.7" width="506.3" height="507.3" fill="none" stroke="#000" stroke-width="1.7"/>
<path d="M1142.5 2609.0v8M1311.3 2609.0v8M1480.0 2609.0v8M1648.8 2609.0v8M1142.5 2609.0h-8M1142.5 2524.6h-8M1142.5 2440.2h-8M1142.5 2355.8h-8M1142.5 2271.4h-8M1142.5 2187.0h-8M1142.5 2102.6h-8" stroke="#000" stroke-width="1.7"/>
<text x="1142.5" y="2637.3" font-size="18" text-anchor="middle">0</text>
<text x="1311.3" y="2637.3" font-size="18" text-anchor="middle">100</text>
<text x="1480.0" y="2637.3" font-size="18" text-anchor="middle">200</text>
<text x="1648.8" y="2637.3" font-size="18" text-anchor="middle">300</text>
<text x="1128.6" y="2615.6" font-size="18" text-anchor="end">0</text>
<text x="1128.6" y="2531.2" font-size="18" text-anchor="end">50</text>
<text x="1128.6" y="2446.8" font-size="18" text-anchor="end">100</text>
<text x="1128.6" y="2362.4" font-size="18" text-anchor="end">150</text>
<text x="1128.6" y="2278.0" font-size="18" text-anchor="end">200</text>
<text x="1128.6" y="2193.6" font-size="18" text-anchor="end">250</text>
<text x="1128.6" y="2109.2" font-size="18" text-anchor="end">300</text>
<text x="1395.7" y="2091.0" font-size="29.6" text-anchor="middle">LVEDV (r=0.11)</text>
<text x="1395.7" y="2671.0" font-size="29.6" text-anchor="middle">Ground Truth</text>
<text x="1081.0" y="2359.8" font-size="28.9" text-anchor="middle" transform="rotate(-90 1081.0 2359.8)">Predicted</text>
</svg></body></html>
